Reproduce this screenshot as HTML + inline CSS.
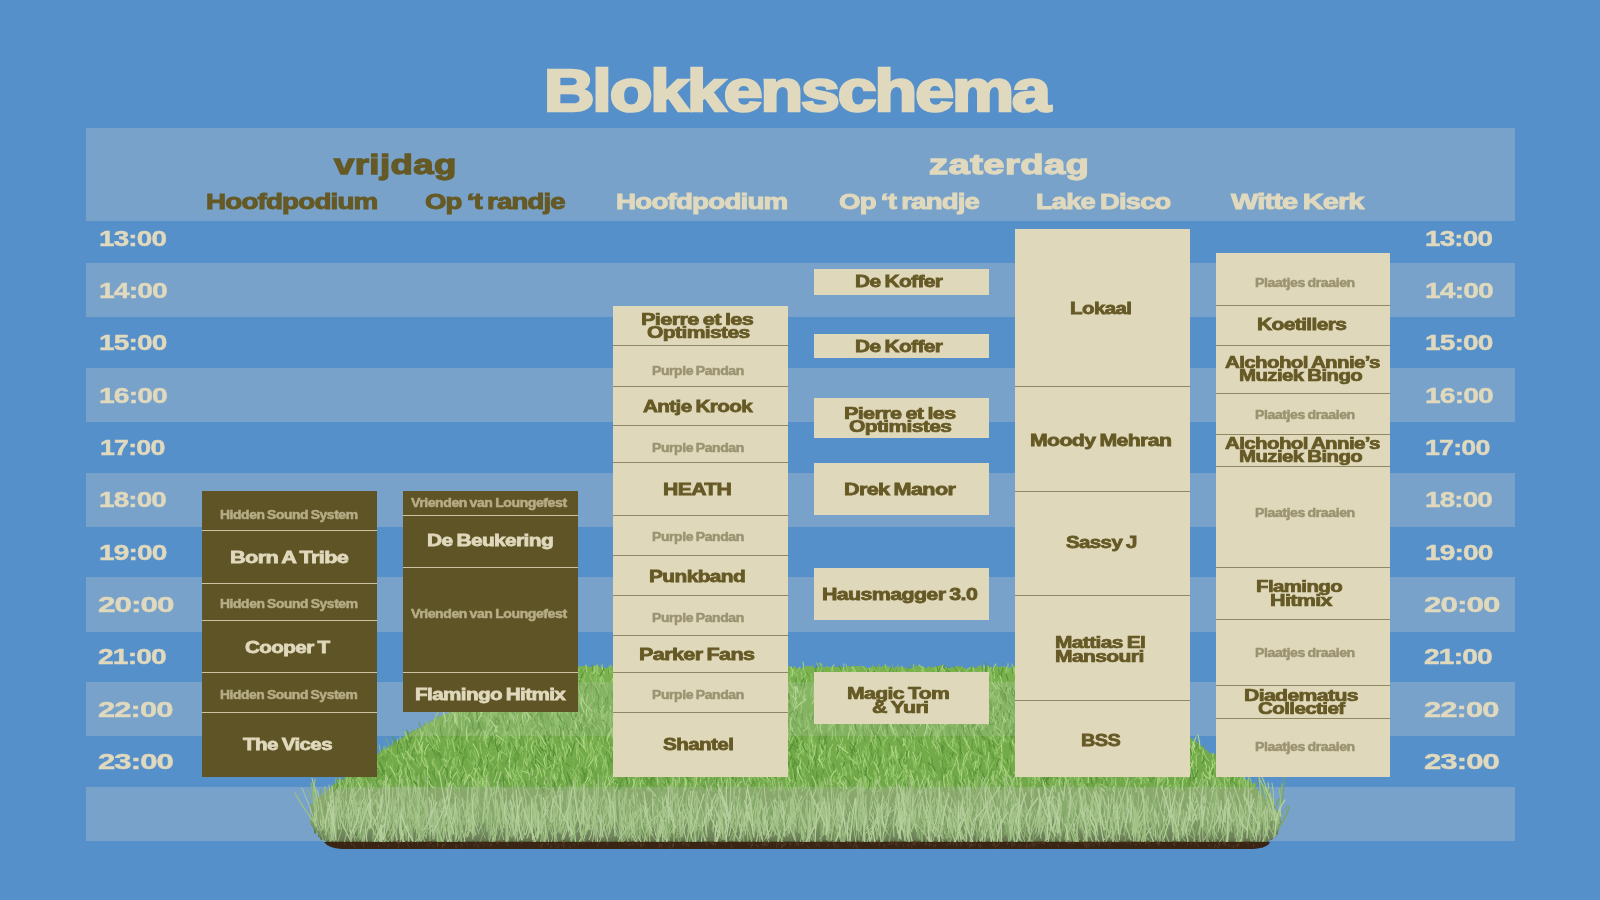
<!DOCTYPE html>
<html><head><meta charset="utf-8"><style>
html,body{margin:0;padding:0}
body{width:1600px;height:900px;overflow:hidden;position:relative;background:#5590cb;font-family:"Liberation Sans",sans-serif}
.t{position:absolute;white-space:nowrap;font-weight:700;transform-origin:0 0}
</style></head><body>
<div style="position:absolute;left:86px;top:128px;width:1429px;height:93px;background:rgba(202,204,200,0.3);"></div>
<div style="position:absolute;left:86px;top:263px;width:1429px;height:54px;background:rgba(202,204,200,0.3);"></div>
<div style="position:absolute;left:86px;top:368px;width:1429px;height:54px;background:rgba(202,204,200,0.3);"></div>
<div style="position:absolute;left:86px;top:473px;width:1429px;height:54px;background:rgba(202,204,200,0.3);"></div>
<div style="position:absolute;left:86px;top:577px;width:1429px;height:55px;background:rgba(202,204,200,0.3);"></div>
<div style="position:absolute;left:86px;top:682px;width:1429px;height:54px;background:rgba(202,204,200,0.3);"></div>
<div style="position:absolute;left:86px;top:787px;width:1429px;height:54px;background:rgba(202,204,200,0.3);"></div>
<svg style="position:absolute;left:0;top:0" width="1600" height="900" viewBox="0 0 1600 900">
<defs>
<linearGradient id="gg" x1="0" y1="660" x2="0" y2="850" gradientUnits="userSpaceOnUse">
<stop offset="0" stop-color="#7ab24f"/>
<stop offset="0.66" stop-color="#70a848"/>
<stop offset="0.69" stop-color="#7ea15a"/>
<stop offset="0.84" stop-color="#6f9252"/>
<stop offset="0.93" stop-color="#5a7442"/>
<stop offset="0.97" stop-color="#4a5232"/>
<stop offset="1" stop-color="#3f2c1a"/>
</linearGradient>
<filter id="ed" x="-5%" y="-10%" width="110%" height="120%">
<feTurbulence type="fractalNoise" baseFrequency="0.3 0.05" numOctaves="2" seed="3" result="n"/>
<feDisplacementMap in="SourceGraphic" in2="n" scale="6" xChannelSelector="R" yChannelSelector="G"/>
</filter>
</defs>
<polygon filter="url(#ed)" points="536,667 1101,667 1190,737 1253,785 1282,816 1276,836 1262,846 334,846 320,838 310,822 310,806 323,793 343,779 377,753 445,713" fill="url(#gg)"/>
<path fill="none" stroke="#568f35" stroke-width="0.8" stroke-linecap="round" d="M937 672q1 -3 0 -6M889 673q-0 -2 2 -5M851 771q2 -5 0 -11M936 744q1 -3 -2 -7M1102 774q0 -3 -1 -7M974 780q-4 -5 -5 -10M1100 687q4 -2 2 -5M1211 790q-1 -4 -6 -8M456 738q2 -4 1 -8M710 686q-3 -4 -2 -9M385 775q-3 -6 -5 -12M808 735q-1 -5 -7 -10M895 688q1 -3 -1 -6M1073 714q-0 -4 -1 -9M1085 672q-1 -3 -4 -6M1013 728q1 -4 3 -9M502 787q-0 -4 -2 -8M732 778q-1 -6 -1 -12M895 702q4 -6 2 -11M943 781q0 -3 -0 -7M748 702q-1 -4 -2 -8M1019 718q1 -6 -1 -13M475 767q2 -4 -1 -7M747 717q3 -5 6 -11M864 764q-0 -5 -0 -10M939 752q2 -3 4 -5M1141 750q-2 -4 -3 -8M926 731q-0 -5 -1 -9M435 759q5 -7 3 -13M991 747q-3 -4 -3 -8M620 790q-1 -6 3 -12M1119 766q0 -7 -1 -14M969 684q-1 -4 -2 -8M989 675q-1 -3 -4 -5M1051 741q-3 -6 -0 -12M974 781q2 -6 -2 -12M442 759q-4 -6 -5 -12M872 689q-4 -3 -3 -7M822 781q-1 -6 2 -11M740 694q-3 -6 0 -11M532 787q-3 -5 -1 -10M1052 787q-4 -3 -8 -6M668 718q1 -5 2 -9M823 748q-2 -4 -2 -8M915 702q-3 -5 -1 -11M1002 738q-2 -5 -4 -10M1070 731q1 -6 3 -11M986 703q1 -5 2 -10M1057 728q-1 -4 -1 -7M537 716q3 -7 2 -14M762 721q-1 -5 3 -11M931 679q3 -4 3 -7M1062 683q-2 -3 -2 -6M341 790q0 -5 2 -11M577 688q4 -3 2 -5M616 770q-2 -5 -5 -11M1087 735q-3 -4 -6 -7M1153 779q2 -6 -1 -11M1036 698q-3 -3 -1 -7M989 694q0 -5 -5 -10M541 683q2 -3 1 -7M687 754q-0 -5 -3 -10M796 777q1 -5 -3 -10M774 705q2 -7 -2 -13M495 779q1 -5 1 -11M733 693q1 -3 -1 -6M467 731q-3 -6 -1 -12M571 755q1 -5 3 -10M960 708q1 -5 -1 -9M898 687q-1 -4 1 -9M592 730q2 -4 -1 -7M475 732q-0 -3 -5 -6M810 720q-2 -5 -2 -10M1064 764q5 -5 5 -9M1017 708q3 -4 2 -8M602 760q5 -4 5 -8M538 743q3 -5 3 -11M435 741q-1 -5 -3 -10M701 768q2 -4 5 -9M422 782q-3 -4 -1 -9M994 748q-4 -3 -5 -7M629 724q-3 -5 -4 -10M598 693q0 -4 -0 -7M861 774q0 -3 2 -6M510 746q-0 -4 -3 -7M549 760q-2 -5 -8 -11M750 757q4 -6 3 -13M474 703q-1 -7 1 -14M525 788q3 -4 0 -7M838 730q1 -5 -1 -10M992 721q-1 -3 2 -6M745 748q1 -3 0 -6M702 676q1 -3 -1 -6M518 760q-0 -3 0 -7M1065 750q2 -4 3 -8M993 725q-0 -6 1 -13M455 741q3 -6 4 -12M1055 707q0 -4 4 -9M608 704q-1 -6 0 -12M883 732q-1 -5 -5 -11M581 790q3 -4 1 -9M1096 723q2 -5 -1 -11M592 735q-3 -3 -4 -7M500 723q-1 -3 1 -6M1192 756q-3 -5 -1 -11M975 774q2 -4 1 -9M771 789q2 -5 -0 -11M704 738q5 -5 5 -10M594 728q3 -3 1 -7M408 756q-5 -4 -6 -8M1029 704q3 -4 1 -8M857 695q-2 -4 -2 -7M913 715q1 -4 7 -9M1123 754q-1 -3 3 -7M605 742q1 -6 2 -11M702 709q-1 -4 -3 -8M650 751q-7 -5 -9 -10M1130 722q-1 -3 0 -7M666 673q0 -3 -5 -6M624 734q-1 -3 0 -7M870 688q2 -3 -0 -6M1093 773q2 -3 -0 -7M505 764q3 -5 6 -9M818 686q-5 -3 -5 -5M1159 750q-3 -4 -2 -9M1055 685q-1 -3 -3 -6M1070 693q-3 -5 -8 -9M1094 714q2 -4 -1 -8M859 772q-4 -3 -7 -6M614 731q-5 -4 -8 -8M1061 790q4 -5 3 -10M643 761q-3 -5 1 -10M807 769q2 -5 2 -9M583 780q3 -6 5 -11M733 706q-0 -3 1 -6M604 771q-3 -6 -2 -12M551 760q-3 -5 -6 -10M682 690q2 -2 -2 -5M388 789q-0 -3 -5 -6M622 764q-3 -5 -8 -11M785 708q-1 -6 1 -13M1173 791q-3 -4 -7 -8M495 727q2 -5 2 -10M547 733q-6 -3 -7 -7M1211 774q-1 -4 -6 -8M770 680q-1 -3 -0 -7M1011 780q3 -4 5 -8M592 727q3 -5 -1 -9M787 761q-0 -4 0 -8M709 746q-2 -4 -9 -9M717 772q2 -7 0 -14M604 672q1 -4 -3 -8M770 713q1 -5 4 -10M560 743q-3 -3 -1 -6M584 721q2 -3 0 -6M610 763q1 -4 -1 -8M926 751q-3 -6 -5 -13M1096 783q2 -6 -1 -13M1053 709q-3 -4 -4 -8M987 671q-1 -4 -2 -8M1097 704q6 -2 6 -4M452 765q-2 -5 -6 -9M827 744q-3 -4 -3 -8M1020 771q5 -5 9 -9M1124 696q-4 -6 -8 -11M991 711q1 -5 -2 -11M790 694q-5 -4 -8 -7M520 756q-5 -6 -6 -11M921 759q-2 -3 -3 -6M853 681q-2 -3 -0 -7M465 751q-2 -3 0 -6M800 770q1 -4 1 -8M1084 721q-1 -4 3 -8M802 740q0 -6 -0 -12M1189 784q-1 -3 -4 -5M730 777q-1 -5 -5 -10M1167 759q-2 -6 -5 -11M905 766q-1 -5 -2 -10M434 776q-3 -5 0 -10M1121 703q4 -6 2 -13M696 724q1 -3 6 -7M637 777q-1 -5 0 -10M1216 775q7 -4 8 -9M770 716q2 -5 0 -11M469 739q-0 -6 -0 -12M458 754q2 -6 -0 -13M698 713q2 -6 0 -13M1021 740q-2 -4 -1 -9M569 734q-0 -6 -3 -11M1010 720q-0 -6 -4 -11M688 762q-2 -4 -0 -8M961 786q-2 -3 -2 -6M558 696q-1 -7 -2 -14M625 675q-1 -4 1 -8M658 754q2 -7 2 -13M701 741q3 -6 2 -12M834 700q2 -5 -1 -10M799 728q-4 -4 -5 -8M505 705q-0 -7 0 -13M1049 685q-4 -3 -4 -6M501 752q-2 -3 -1 -6M653 699q-4 -4 -5 -8M414 751q2 -4 -2 -8M791 745q-2 -5 2 -10M409 756q-5 -4 -6 -8M470 792q-1 -3 -3 -7M1091 733q-0 -6 -6 -12M411 763q1 -6 2 -13M435 755q-1 -7 -2 -14M1004 700q-1 -6 -5 -11M383 760q-2 -3 -0 -7M400 758q1 -4 -2 -8M1137 767q2 -5 3 -11M957 671q-2 -2 -3 -5M939 726q-3 -4 -1 -8M631 743q1 -6 -3 -11M601 760q-4 -6 -2 -11M906 767q-1 -5 -2 -11M944 770q-2 -3 -2 -6M931 702q1 -3 -2 -6M1226 779q-0 -5 -2 -9M949 675q-3 -3 -3 -5M597 695q-0 -4 -2 -8M366 783q1 -4 2 -8M587 724q-2 -4 -4 -7M441 758q-2 -3 -3 -7M722 708q-1 -2 -7 -3M1136 761q-4 -5 -2 -9M525 765q-1 -5 3 -10M422 746q-0 -3 -6 -7M539 732q-3 -7 -1 -14M1074 783q-4 -4 -4 -7M680 750q1 -3 -1 -7M1170 756q-1 -7 -3 -14M713 778q0 -4 2 -7M458 738q2 -6 5 -12M1198 751q1 -2 -4 -4M820 782q-1 -4 -3 -8M1072 682q1 -2 4 -3M458 720q-0 -5 5 -10M657 743q-1 -3 -2 -6M1124 764q1 -4 -1 -8M994 675q-3 -2 -2 -5M721 673q-1 -3 -1 -5M639 786q2 -3 3 -6M609 767q-0 -4 -3 -8M440 755q-2 -3 -0 -6M694 671q-3 -4 -1 -7M1060 740q3 -3 4 -7M958 690q-2 -4 -2 -8M411 742q-3 -5 -3 -10M397 772q2 -4 2 -7M899 761q3 -4 3 -8M645 721q4 -7 4 -13M665 766q2 -5 1 -10M610 749q-3 -6 -2 -11M622 708q3 -4 2 -8M970 732q-2 -4 -2 -7M814 766q0 -6 -1 -11M1094 684q0 -3 2 -7M609 751q0 -4 2 -7M917 708q-0 -4 1 -8M449 731q-3 -6 -4 -11M783 759q-2 -3 -3 -5M979 684q-0 -1 -5 -2M670 703q1 -3 -3 -6M828 712q1 -5 1 -9M456 739q3 -6 1 -13M665 683q-2 -4 -1 -9M538 767q1 -3 3 -6M1089 671q-1 -3 -3 -5M818 760q-3 -6 -1 -13M459 753q3 -5 2 -11M1166 739q3 -6 3 -12M1029 773q-2 -4 -5 -7M960 759q-1 -7 3 -14M938 728q-4 -3 -6 -5M426 757q1 -4 -2 -9M736 671q-3 -3 -2 -6M769 697q1 -5 -3 -9M979 777q2 -6 0 -11M790 706q-3 -5 -6 -9M734 761q-0 -4 -0 -7M905 786q-3 -4 -2 -7M1037 764q-4 -4 -8 -8M1019 693q4 -4 2 -8M639 675q2 -3 0 -6M1234 779q3 -6 5 -11M874 742q-0 -5 1 -10M1051 695q4 -5 2 -9M1038 713q-4 -7 -3 -14M914 701q-3 -6 -7 -12M896 677q-2 -4 1 -8M1114 753q-2 -5 1 -9M474 711q-5 -6 -6 -11M639 740q-0 -5 -4 -11M1025 775q1 -6 1 -12M1139 777q-3 -5 -4 -11M889 769q4 -6 3 -11M1232 775q0 -7 0 -13M594 694q0 -3 -3 -6M750 787q3 -3 3 -7M871 701q-3 -3 -4 -5M486 766q-5 -6 -6 -11M1044 720q-3 -3 -4 -7M544 757q4 -6 3 -13M1032 769q-0 -4 -2 -8M818 785q-3 -7 -1 -14M994 680q4 -2 4 -5M401 748q-5 -5 -8 -10M1017 779q2 -5 0 -11M506 755q1 -6 3 -13M1151 765q-2 -5 -1 -11M1107 727q2 -3 1 -6M594 677q-0 -4 -2 -8M530 703q-0 -3 -1 -7M618 723q-1 -6 3 -12M792 728q-0 -4 2 -8M554 788q-1 -4 4 -8M539 756q-3 -4 -0 -7M418 786q-2 -6 -1 -11M882 699q-1 -6 2 -12M1130 729q2 -5 1 -11M672 762q3 -6 1 -12M745 728q-1 -4 1 -8M1106 727q2 -4 -1 -8M1125 743q-1 -5 3 -10M838 695q-2 -7 -3 -14M646 787q2 -4 -0 -8M1198 773q-0 -3 -3 -6M1120 700q-3 -5 0 -9M398 779q1 -6 -1 -12M612 706q3 -6 0 -11M681 731q-5 -6 -5 -12M671 785q-2 -2 -5 -5M994 695q-4 -5 -8 -9M817 702q-2 -5 2 -9M763 683q3 -3 0 -6M725 687q-3 -4 -1 -7M1212 787q-4 -4 -8 -9M885 757q-3 -3 -2 -6M551 758q-2 -4 -3 -9M558 767q2 -4 -1 -7M809 676q-2 -3 -4 -5M671 677q-3 -4 -1 -7M853 717q3 -3 1 -7M676 754q2 -5 3 -9M1096 752q1 -4 -3 -9M1115 723q-3 -5 -2 -11M821 671q2 -4 -0 -7M1054 717q3 -5 2 -10M972 727q1 -5 2 -10M1159 761q-1 -4 1 -8M671 731q-0 -5 -5 -10M625 709q-4 -4 -4 -8M879 736q-2 -5 -2 -9M1091 762q-3 -4 -4 -9M1224 770q3 -5 3 -11M886 727q-1 -3 -3 -7M582 714q-3 -3 -1 -6M751 777q3 -5 1 -10M863 731q5 -4 5 -8M1219 766q1 -5 3 -11M882 688q-2 -4 -1 -7M534 683q-3 -3 -3 -6M662 773q-0 -5 -6 -10M780 690q3 -3 2 -6M618 789q1 -4 -2 -8M530 701q1 -5 -1 -11M993 743q-2 -6 0 -12M1139 773q-3 -5 -4 -9M905 711q-0 -3 -2 -6M921 681q0 -2 -1 -5"/>
<path fill="none" stroke="#b0d688" stroke-width="0.8" stroke-linecap="round" d="M860 757q-4 -5 -5 -11M546 739q3 -3 4 -5M842 720q-0 -4 0 -8M890 771q0 -4 -1 -8M575 700q0 -3 -0 -7M993 685q-1 -4 -2 -8M902 672q1 -3 -0 -6M967 775q2 -4 -2 -8M1145 775q0 -4 -3 -9M1202 761q2 -6 0 -13M582 790q4 -6 8 -11M755 743q-0 -3 -2 -7M1041 695q0 -5 -2 -9M498 792q-1 -4 1 -7M539 698q-4 -4 -11 -7M670 767q1 -4 2 -8M553 681q-3 -3 -3 -6M756 791q0 -4 -3 -9M761 688q1 -3 -2 -5M550 674q0 -3 0 -7M387 787q-2 -5 -1 -10M1098 710q5 -3 6 -7M1154 744q0 -5 -1 -9M790 740q-1 -4 -3 -7M408 765q-3 -5 -1 -10M685 759q-3 -3 -2 -6M741 758q2 -5 1 -11M439 775q-1 -5 -4 -10M582 707q-3 -5 -2 -10M530 700q-4 -6 -5 -12M751 708q0 -3 2 -7M504 718q1 -6 1 -11M871 698q-2 -4 -3 -8M573 715q2 -4 -0 -9M443 774q3 -6 2 -13M711 739q-1 -6 -5 -12M1034 681q-3 -4 -0 -8M683 676q-3 -2 -3 -5M634 705q-2 -6 -5 -13M517 746q0 -4 -1 -8M594 753q-2 -5 -3 -11M1084 716q-1 -5 -5 -10M1169 769q-2 -5 -4 -10M1108 758q-6 -5 -8 -9M664 738q-3 -7 -1 -13M1043 733q-3 -5 -3 -9M1099 723q-3 -4 -1 -9M794 711q1 -4 2 -8M684 765q-3 -6 -6 -12M476 712q0 -6 1 -13M548 745q-1 -4 0 -7M923 698q0 -7 1 -14M792 686q-4 -3 -2 -5M690 775q2 -3 -1 -7M631 748q0 -3 -0 -6M785 767q-3 -6 -2 -13M1021 690q-1 -4 -0 -7M897 684q1 -4 3 -8M728 780q-4 -6 -2 -12M757 690q-0 -4 -0 -7M1055 696q-2 -4 1 -8M839 749q3 -6 4 -11M1006 673q-1 -4 2 -8M828 757q0 -6 5 -13M563 768q-3 -5 -3 -11M1160 780q-4 -4 -4 -8M620 721q2 -6 -2 -11M666 757q5 -4 9 -9M605 784q1 -6 3 -12M1032 783q-0 -4 1 -9M857 744q-0 -4 2 -8M1063 671q-3 -3 -5 -6M1002 783q-3 -4 -5 -8M944 710q-0 -4 1 -7M1065 757q0 -5 2 -10M1117 687q1 -3 -1 -5M428 784q-3 -4 0 -7M684 680q-3 -4 -3 -8M1134 699q3 -5 1 -10M1128 775q2 -5 -0 -9M1145 739q-3 -4 -2 -9M539 748q-4 -4 -3 -8M1115 762q2 -3 3 -5M1062 730q0 -7 -2 -14M557 681q2 -3 -2 -6M811 760q-3 -5 -1 -10M1034 709q1 -4 0 -8M677 756q1 -4 2 -7M615 742q0 -4 -3 -7M1098 693q-5 -5 -6 -10M1176 783q-1 -4 0 -8M1022 714q-1 -7 1 -13M686 683q-1 -2 2 -5M857 787q4 -7 3 -13M635 779q2 -4 4 -9M620 766q2 -6 -2 -11M673 714q-1 -4 1 -8M1138 754q2 -5 -2 -9M547 789q-1 -3 -3 -7M694 681q-1 -4 1 -8M1061 680q3 -3 1 -5M496 695q-0 -6 -5 -12M507 778q-1 -3 1 -6M733 706q-3 -6 -0 -13M1190 775q-1 -5 -2 -9M609 737q2 -3 1 -7M870 674q1 -3 -1 -6M903 724q1 -5 1 -9M710 731q-2 -3 -3 -6M626 708q-3 -3 -3 -7M1132 762q2 -2 4 -5M665 693q2 -3 3 -7M685 791q3 -6 1 -12M616 733q1 -5 -2 -10M1002 691q-7 -5 -8 -10M1025 692q1 -5 -3 -10M1083 696q0 -4 4 -8M493 713q-0 -4 -1 -7M1002 763q-5 -2 -5 -5M837 757q2 -5 5 -10M550 767q2 -4 -1 -7M856 770q-4 -6 -3 -11M598 746q-1 -4 2 -9M778 732q1 -7 3 -13M700 785q-0 -7 3 -14M677 681q1 -3 -2 -5M451 770q-0 -6 3 -12M991 696q3 -6 7 -11M980 688q2 -3 1 -6M1034 723q1 -6 -4 -12M639 758q0 -3 1 -6M973 766q-1 -3 4 -5M577 791q-4 -5 -3 -11M1099 781q-2 -6 -0 -13M1082 716q0 -6 1 -13M496 744q2 -4 4 -9M1128 779q-4 -4 -2 -7M1044 685q1 -4 1 -7M738 708q-3 -4 -1 -7M1118 710q-3 -6 -2 -12M826 751q-1 -5 -6 -11M751 769q1 -6 -3 -12M1064 751q-2 -4 -4 -9M1080 713q-3 -3 -3 -6M875 741q2 -3 1 -6M574 728q-2 -5 1 -9M1041 671q-1 -4 1 -7M1053 751q-1 -5 -3 -10M732 738q1 -5 6 -10M1116 698q-2 -3 -1 -6M1168 767q-3 -4 0 -8M464 785q-0 -4 2 -9M694 744q1 -4 0 -9M381 785q0 -3 -5 -6M454 739q0 -4 0 -8M416 772q-6 -4 -9 -9M804 678q3 -4 0 -8M357 775q-2 -4 1 -8M1079 753q-2 -5 -0 -9M541 746q1 -5 -2 -10M936 741q2 -6 2 -13M688 745q-2 -6 1 -12M515 787q0 -5 -0 -10M1159 783q0 -7 2 -14M957 725q0 -6 -3 -13M611 783q5 -3 5 -6M894 730q2 -4 -3 -7M961 675q-3 -2 -2 -5M885 762q-2 -6 -2 -12M993 737q-1 -4 -4 -7M1159 734q-1 -5 -1 -10M671 702q-0 -5 -2 -10M922 697q2 -6 -1 -13M1125 766q-3 -3 -2 -6M1180 778q2 -4 2 -8M908 773q-4 -6 -3 -13M615 735q1 -4 -0 -8M1153 762q0 -6 2 -11M787 785q4 -3 2 -6M892 721q-5 -3 -4 -6M949 791q0 -3 -2 -7M604 673q-2 -4 -2 -9M668 676q-2 -4 -0 -7M532 740q-1 -6 -1 -12M1085 675q0 -3 -0 -6M521 689q-0 -3 -2 -7M910 718q3 -6 6 -12M1007 779q-4 -5 -5 -9M724 711q-2 -5 -1 -9M840 706q4 -6 2 -11M1167 768q-2 -4 -1 -9M528 684q-2 -3 1 -6M1084 767q-1 -4 -2 -7M527 766q0 -3 0 -7M1251 790q2 -6 -1 -12M557 719q0 -3 -1 -6M970 757q1 -4 3 -8M1142 755q0 -6 -1 -12M773 737q-2 -4 -0 -9M576 680q1 -4 -0 -8M955 717q4 -4 3 -8M633 731q-3 -4 -5 -7M791 738q-3 -4 -4 -8M708 685q-2 -3 -4 -6M902 766q-1 -5 2 -10M1016 685q-0 -3 1 -5M583 728q5 -5 7 -9M1107 781q-2 -3 2 -6M1141 768q-1 -3 0 -7M657 734q2 -7 3 -14M674 790q3 -5 1 -10M892 753q2 -4 -2 -7M1140 765q0 -3 -3 -6M1094 723q1 -6 -1 -12M1039 741q1 -5 2 -9M739 725q1 -6 0 -11M717 713q-0 -4 0 -8M1230 782q1 -4 -3 -7M573 743q-2 -3 -3 -6M592 776q-2 -7 -1 -14M489 703q-0 -7 3 -13M874 706q-5 -6 -6 -11M597 730q-1 -4 -7 -8M1178 773q2 -6 -1 -11M391 785q-1 -3 -1 -6M1234 786q-0 -6 1 -12M1074 779q4 -7 4 -13M779 776q-1 -3 -3 -6M1184 765q-4 -4 -3 -8M888 786q-1 -4 -1 -9M742 752q-3 -3 -1 -7M944 700q3 -5 8 -10M903 717q-1 -6 -2 -12M1143 760q-5 -6 -6 -11M1056 675q2 -4 -0 -8M1174 752q-3 -5 -2 -10M1095 774q-2 -6 -2 -13M694 789q-5 -3 -4 -6M907 777q0 -6 -3 -13M627 712q-3 -3 -0 -6M740 740q-3 -5 -2 -11M692 721q-4 -5 -2 -10M731 673q1 -4 -2 -7M832 786q1 -3 -2 -6M719 753q-1 -6 -7 -11M1209 761q-6 -6 -6 -13M446 767q2 -5 4 -10M1193 769q1 -4 -4 -8M949 688q2 -4 2 -9M836 750q4 -3 4 -6M575 680q2 -3 1 -6M793 707q1 -5 4 -10M505 791q-2 -5 -1 -10M712 791q-3 -7 -4 -13M778 685q1 -4 -4 -7M1184 757q-3 -4 -2 -8M683 691q-1 -3 -2 -6M604 674q1 -4 -3 -8M1082 788q2 -6 -2 -12M830 686q-1 -3 -1 -5M861 728q-0 -6 -3 -12M913 789q-3 -5 -1 -9M1171 750q-3 -7 -2 -13M638 759q1 -4 3 -9M1039 780q1 -6 4 -11M570 672q-3 -4 -2 -7M843 671q1 -4 1 -7M799 697q-0 -3 3 -7M933 742q-0 -3 5 -6M941 767q1 -3 -1 -6M709 680q-4 -4 -2 -8M1039 768q-1 -4 -4 -8M495 768q-2 -4 -9 -9M684 749q3 -7 -0 -14M760 719q3 -5 1 -9M1123 692q-3 -6 -6 -12M783 747q2 -5 5 -10M1068 764q-1 -4 2 -8M514 775q-2 -3 -3 -7M585 768q1 -6 4 -13M987 779q3 -7 1 -14M898 737q-1 -5 -4 -11M689 764q-4 -3 -8 -6M898 777q-3 -5 -1 -10M643 687q1 -3 4 -6M577 782q-1 -3 -3 -5M977 747q-2 -6 -3 -13M616 784q-2 -3 -4 -7M1113 747q1 -7 -1 -14M550 723q3 -6 2 -11M935 709q-3 -5 -2 -10M748 746q-3 -6 -3 -12M716 676q-3 -4 -4 -7M1179 765q0 -5 -5 -10M943 672q-2 -3 -2 -5M781 687q-1 -4 1 -8M1133 740q1 -5 6 -11M642 784q3 -4 10 -8M751 740q-2 -6 -3 -12M954 766q2 -6 4 -12M952 707q-2 -5 -4 -9M672 788q1 -4 1 -9M1127 701q-3 -6 -1 -11M1148 720q3 -4 1 -7M552 772q-1 -6 -1 -12M879 708q-1 -4 -2 -7M640 710q-0 -6 -3 -12M832 740q1 -5 -0 -11M954 701q2 -6 3 -12M410 760q-3 -5 -2 -11M1101 675q-0 -2 -2 -5M692 736q1 -3 -1 -7M601 684q-2 -3 1 -7M580 680q-3 -2 -4 -5M738 777q4 -6 4 -12M563 739q-2 -3 0 -7M430 738q0 -3 1 -6M657 766q-5 -5 -8 -9M829 710q0 -4 -0 -7M679 739q-4 -6 -6 -12M719 680q-2 -4 -2 -7M572 721q-2 -3 -0 -7M995 754q4 -5 6 -9M623 710q2 -5 0 -10M488 696q0 -4 2 -9M1209 779q2 -3 -1 -6M778 727q1 -6 -1 -13M1025 735q1 -4 -2 -8M1148 711q-1 -4 -3 -8M721 767q4 -6 5 -12M1098 768q-0 -3 3 -6M796 714q3 -4 0 -8M678 784q-3 -5 -7 -10M802 679q-0 -3 -1 -7M716 771q1 -5 5 -9M1107 738q2 -5 1 -11M729 760q2 -5 2 -10M1042 780q4 -3 6 -7M602 717q-1 -6 -3 -11M370 786q-2 -3 -4 -6M824 714q-2 -4 2 -8M824 693q-1 -4 -1 -8M597 762q-2 -4 1 -7M1196 759q-1 -3 4 -6M778 689q1 -4 -2 -8M775 733q-2 -5 0 -11M551 763q-0 -7 -1 -14M1020 701q-2 -4 -5 -8M1154 730q-1 -6 1 -11M949 694q4 -3 3 -7M662 678q0 -3 -3 -5M846 776q2 -4 -2 -7M744 760q1 -5 0 -9M937 679q-1 -3 -1 -6M967 790q0 -6 -3 -11M488 765q-1 -5 -3 -10M980 731q-2 -7 -2 -14M781 791q-0 -4 1 -9M878 683q1 -3 -2 -6M586 752q-2 -4 -1 -8M740 722q6 -4 6 -9M793 732q-0 -4 -3 -8M826 785q-1 -5 -3 -10M1007 777q-1 -4 2 -7M448 749q0 -5 -1 -10M863 761q-1 -5 0 -10M1043 673q-1 -3 -3 -5M980 679q2 -4 -0 -8M957 716q-0 -6 1 -13M785 750q-0 -6 -0 -13"/>
<path fill="none" stroke="#7bb352" stroke-width="1.1" stroke-linecap="round" d="M1054 689q-1 -3 1 -7M582 747q-1 -4 0 -9M518 730q2 -6 2 -13M794 762q-5 -6 -6 -12M965 737q-6 -6 -7 -11M1110 726q-3 -4 -0 -8M1098 755q-6 -3 -7 -7M1124 736q-2 -7 -1 -13M790 722q-1 -4 2 -9M609 745q-3 -5 -2 -11M727 736q-0 -5 5 -10M574 674q0 -3 -4 -7M798 757q2 -5 -2 -10M628 676q-2 -3 -2 -6M865 766q3 -3 4 -6M878 759q-3 -3 -2 -7M969 752q-1 -5 3 -10M557 774q2 -7 2 -13M895 671q-3 -3 -3 -6M817 685q-0 -4 -4 -7M1107 784q-0 -6 3 -11M774 725q-1 -5 -4 -10M908 693q1 -4 1 -8M604 692q2 -5 -1 -10M903 674q1 -3 0 -5M486 774q-2 -3 -0 -6M851 710q-2 -4 -6 -7M1142 758q-2 -3 -4 -5M999 712q-1 -5 2 -10M635 745q-0 -6 1 -12M484 776q-1 -5 -0 -11M691 673q-3 -2 -7 -4M909 765q3 -5 4 -10M1136 736q-2 -4 -1 -8M983 782q-1 -3 -4 -6M381 756q3 -5 3 -10M436 750q1 -3 1 -7M951 687q3 -3 2 -6M1052 686q1 -2 -3 -5M524 740q3 -4 2 -7M674 708q0 -6 3 -13M604 763q-3 -5 -7 -10M555 757q-0 -5 -5 -10M498 773q2 -6 -0 -13M624 677q0 -4 -4 -8M949 740q0 -5 4 -11M388 765q1 -4 1 -7M1217 786q-3 -4 -2 -8M1160 729q-2 -4 -2 -8M820 725q-2 -6 2 -13M777 728q1 -7 -2 -13M1068 761q1 -6 1 -12M742 729q-2 -6 -3 -13M877 737q0 -4 -3 -7M753 699q5 -5 5 -9M753 714q-0 -5 -5 -10M742 714q2 -4 -2 -7M974 683q1 -3 0 -5M886 694q-3 -6 -0 -11M1033 771q-3 -5 -1 -10M751 774q-7 -2 -9 -4M683 789q-0 -5 5 -10M701 691q2 -7 0 -14M1110 755q-1 -4 2 -7M920 748q-2 -5 -3 -9M582 721q-1 -4 3 -9M974 716q2 -5 6 -11M728 727q-1 -5 0 -9M1080 783q-2 -3 0 -7M1108 702q-3 -4 -1 -8M435 767q1 -4 -2 -8M802 754q2 -4 1 -8M984 751q-4 -3 -3 -6M1176 756q-1 -3 -0 -7M1018 754q-0 -7 -1 -13M844 682q-2 -4 -1 -9M1036 699q2 -5 7 -10M1117 738q1 -7 1 -13M715 770q-1 -6 -1 -12M700 683q-3 -4 -2 -8M626 754q-3 -5 -1 -9M471 707q-0 -6 -2 -13M1055 790q2 -6 -1 -12M432 739q-1 -4 2 -8M763 723q4 -5 3 -9M1164 750q2 -4 2 -7M881 750q3 -4 -0 -7M891 752q1 -4 4 -9M1098 761q-6 -2 -6 -5M1148 764q0 -4 -4 -8M740 745q-2 -5 -3 -10M1251 788q-0 -4 -0 -8M589 717q4 -5 9 -9M577 719q-2 -3 -3 -5M864 720q1 -6 -1 -12M482 784q1 -7 -3 -13M760 753q-1 -5 2 -9M1018 714q-2 -6 -0 -11M516 681q2 -3 4 -6M784 716q-1 -6 2 -11M883 763q1 -5 -1 -10M1040 750q-2 -5 -1 -10M820 733q1 -6 1 -12M747 675q2 -3 1 -7M569 756q2 -4 1 -9M911 788q-1 -4 0 -9M809 753q-2 -3 -0 -6M617 780q-2 -4 -0 -8M996 755q3 -3 0 -7M723 713q-2 -5 -2 -9M496 753q2 -5 4 -11M555 734q-3 -4 -2 -8M946 706q-5 -3 -5 -6M697 674q1 -3 -3 -5M1096 701q-6 -5 -8 -9M787 791q0 -3 -4 -6M1110 751q-2 -5 -1 -11M632 699q4 -4 5 -8M968 720q1 -6 5 -12M469 711q-1 -5 -4 -9M984 772q-4 -4 -2 -7M829 719q-2 -5 -1 -10M511 696q-2 -6 -8 -11M557 693q-2 -3 -5 -6M524 678q-3 -4 -1 -8M1150 740q-1 -3 -7 -7M484 785q1 -4 -3 -8M1157 768q1 -4 -1 -8M860 743q-1 -6 -1 -13M733 775q-1 -3 2 -6M839 721q-4 -4 -3 -8M811 718q-3 -4 -9 -8M606 687q-2 -3 1 -5M727 774q-2 -3 1 -7M1087 697q-1 -6 -3 -11M1011 684q2 -4 -1 -7M847 705q-1 -3 -4 -6M1142 747q3 -5 1 -11M687 692q-1 -3 -4 -5M1091 733q-2 -4 -5 -8M1024 723q3 -5 2 -10M1183 784q-0 -5 -1 -10M924 781q2 -7 3 -13M1018 753q-3 -4 -6 -8M931 789q2 -4 -1 -8M798 774q1 -3 -2 -7M569 736q2 -4 0 -8M654 688q1 -4 1 -8M909 712q2 -4 1 -8M1029 726q2 -6 2 -13M449 730q-4 -4 -4 -8M613 707q1 -4 -1 -7M594 743q2 -3 0 -6M660 705q-1 -5 -5 -9M997 775q-2 -5 2 -11M400 776q1 -7 -1 -13M470 756q0 -5 -4 -9M823 717q3 -5 4 -9M1047 773q-2 -3 1 -7M1148 757q-2 -3 -2 -6M512 762q-2 -3 -4 -6M682 699q-1 -6 -6 -12M511 727q-1 -5 -4 -11M986 772q1 -4 2 -8M676 791q6 -5 8 -10M933 768q-5 -5 -4 -11M830 731q-3 -3 -1 -7M934 693q4 -4 2 -8M822 725q-3 -3 -1 -6M1039 746q-3 -4 -1 -8M801 728q-2 -4 -0 -8M1198 781q-5 -3 -6 -6M647 789q2 -3 -0 -7M863 760q-3 -7 -3 -14M750 763q-0 -3 -1 -6M619 686q-1 -3 -0 -5M733 747q-2 -6 -0 -13M783 750q-1 -6 0 -12M943 680q3 -4 2 -9M1139 745q-2 -5 2 -10M716 726q1 -6 3 -11M1110 761q3 -5 1 -10M947 772q0 -4 3 -9M813 735q0 -4 6 -8M725 742q-0 -3 -4 -5M545 684q2 -3 -0 -5M954 715q3 -5 1 -9M1116 783q-2 -3 -3 -6M1084 765q-1 -4 4 -7M977 741q3 -4 3 -9M988 756q-0 -4 3 -7M692 681q-3 -3 -1 -6M1002 755q1 -4 -0 -8M969 710q3 -4 4 -8M1181 769q0 -3 -1 -6M1070 723q-1 -3 3 -7M1047 713q-3 -5 -1 -10M812 701q0 -6 -5 -13M754 782q2 -5 1 -11M1105 782q1 -4 0 -7M1038 710q1 -3 -2 -6M817 787q-2 -3 -1 -7M1067 706q2 -5 1 -9M991 680q-0 -3 -1 -6M991 739q-4 -3 -9 -7M1169 765q1 -3 -3 -6M749 758q0 -5 2 -9M1000 784q4 -4 5 -7M1051 730q-3 -5 -8 -11M972 699q0 -3 3 -6M825 697q5 -4 4 -7M1159 763q-0 -6 4 -11M788 763q-3 -4 -3 -9M1180 752q3 -4 1 -8M566 714q0 -6 -5 -12M707 744q-0 -6 -2 -11M614 735q1 -4 -3 -7M879 699q-1 -4 -3 -8M687 778q-2 -3 2 -6M596 688q-0 -3 -2 -5M602 675q-4 -3 -5 -6M943 760q-5 -4 -5 -9M1042 770q1 -3 -0 -6M677 705q-2 -2 -6 -5M1123 690q1 -3 4 -6M589 707q-4 -4 -4 -8M1076 719q1 -6 -1 -12M432 787q-2 -5 -7 -11M747 726q1 -4 -0 -8M952 721q5 -3 5 -6M715 783q-4 -6 -3 -13M762 762q-5 -2 -6 -5M643 730q3 -4 0 -7M887 762q3 -4 1 -8M755 777q-4 -5 -3 -10M1009 739q-2 -7 -4 -13M884 766q4 -5 5 -9M1193 759q2 -5 5 -11M1137 736q-2 -6 -8 -11M665 752q-1 -4 0 -9M497 723q-2 -6 -1 -13M561 714q-1 -7 4 -13M603 769q-1 -6 -3 -12M1128 744q-2 -4 -7 -8M635 726q-3 -3 -2 -7M749 707q1 -4 2 -7M695 678q3 -4 2 -7M588 728q3 -3 2 -7M1103 713q2 -7 -2 -13M941 705q-0 -6 3 -12M1199 777q-1 -6 -3 -12M1009 759q3 -6 1 -11M1099 781q2 -4 -1 -7M562 706q4 -4 5 -9M554 760q-1 -5 2 -10M460 749q1 -4 -0 -8M973 742q-1 -3 0 -6M1124 791q-1 -3 -5 -5M572 729q-3 -4 -0 -8M886 747q-2 -6 -6 -11M530 789q-1 -5 -1 -11M1109 730q-0 -6 2 -12M966 689q1 -3 -1 -6M1177 749q-2 -5 -6 -10M750 673q2 -3 -0 -6M643 713q-5 -5 -6 -9M616 689q2 -3 1 -6M813 764q4 -3 2 -7M1032 690q2 -4 0 -8M759 676q0 -3 2 -7M840 713q-4 -5 -5 -11M1059 762q-0 -3 0 -6M797 691q-3 -4 -2 -8M833 714q5 -5 5 -10M430 733q-1 -4 1 -8M615 786q-1 -5 1 -11M647 680q-4 -3 -2 -5M716 685q0 -4 -1 -9M471 722q-3 -5 -0 -11M1222 778q-1 -3 -3 -6M428 788q-1 -6 -2 -12M774 756q3 -4 3 -8M669 695q-1 -6 -1 -12M529 690q-0 -4 0 -9M1127 726q0 -5 -1 -10M1155 770q0 -6 -2 -12M578 778q-0 -3 1 -6M976 761q-2 -5 -1 -11M1156 761q2 -4 0 -8M729 674q-0 -3 -0 -5M1032 732q-2 -4 -1 -7M873 691q-0 -4 -1 -8M736 692q3 -2 5 -5M909 692q-2 -6 0 -11M1035 672q3 -4 1 -7M581 737q-3 -5 -3 -10M1075 738q1 -4 7 -7M536 756q-5 -5 -6 -11M971 722q-1 -3 -7 -6M705 777q3 -6 1 -12M492 753q-2 -4 -2 -9M951 785q-3 -6 -4 -11M979 780q-1 -3 -4 -6M523 761q3 -6 4 -12M920 772q-1 -5 3 -9M359 788q5 -6 5 -11M573 770q1 -7 1 -14M391 759q2 -6 -2 -13M640 719q-5 -4 -7 -9M541 709q2 -6 -1 -11M464 745q1 -5 5 -11M896 675q-1 -4 0 -8M850 684q-1 -2 -3 -5M421 751q0 -3 -2 -6M471 705q0 -7 2 -13M831 733q-0 -5 -0 -10M928 676q-0 -3 1 -5M593 741q3 -7 -1 -13M779 748q-1 -6 -0 -13M552 773q5 -5 10 -9M692 722q-1 -5 -1 -10M1145 774q1 -5 1 -11M498 700q5 -5 6 -10M554 690q-2 -4 -3 -8M534 767q0 -7 0 -14M543 741q-1 -3 1 -6M867 715q-5 -3 -4 -5M756 677q1 -4 3 -8M993 742q-3 -6 -1 -12M395 747q-2 -3 -3 -6M518 681q2 -4 0 -9M752 733q1 -7 -1 -13M976 790q-5 -2 -8 -4M503 698q-0 -6 -2 -11M739 734q2 -3 -1 -7M1098 787q3 -7 2 -14M1077 751q2 -4 0 -8M1121 781q-2 -5 2 -9M638 672q-2 -2 -5 -4M892 731q4 -3 4 -6M523 760q-2 -4 -4 -9M821 735q3 -4 2 -9M776 783q-1 -6 1 -12M962 790q3 -3 0 -6M953 784q-0 -4 1 -9M633 749q-2 -7 1 -14M883 754q-2 -4 2 -8M1104 786q-1 -5 2 -9M838 679q-4 -3 -3 -5M519 729q2 -4 6 -7M1011 778q-3 -3 -5 -7M902 714q1 -3 -2 -7M660 687q-3 -4 -4 -7M1097 743q-1 -5 -1 -9M1098 701q-6 -4 -6 -8M487 728q2 -5 4 -9M870 703q0 -7 3 -13M749 779q-2 -4 1 -9M1005 778q-1 -3 -3 -6M830 720q2 -4 -2 -9M1032 702q-2 -3 -7 -6M745 687q-3 -4 -1 -7M616 673q1 -4 1 -9M715 723q-1 -6 -3 -12M412 749q-3 -3 -0 -6M699 694q-0 -6 -2 -13M1062 785q-4 -6 -6 -11M997 684q-0 -3 -0 -7M668 786q3 -5 2 -10M579 687q-2 -3 1 -5M759 709q2 -4 -1 -9M693 772q-2 -6 -2 -12M583 682q-3 -4 -2 -9M880 672q-1 -4 -1 -8M537 771q-1 -3 -6 -7"/>
<path fill="none" stroke="#a2cf78" stroke-width="0.8" stroke-linecap="round" d="M662 711q-1 -4 2 -8M1095 682q-3 -3 -2 -6M820 768q1 -5 5 -10M837 759q2 -6 -1 -12M873 727q2 -5 -0 -10M751 742q1 -4 -0 -8M756 708q1 -4 -3 -8M1001 769q1 -4 -4 -8M926 780q-4 -5 -5 -10M1025 707q1 -4 -1 -8M751 769q-3 -5 -4 -10M595 704q-3 -6 -3 -11M372 791q1 -5 8 -11M913 784q0 -7 -1 -13M940 716q-0 -5 -3 -10M407 790q1 -5 3 -9M915 751q-1 -5 -1 -11M970 686q-1 -3 -1 -6M854 729q-1 -4 0 -7M573 736q-3 -6 -8 -11M1025 773q-4 -3 -3 -6M507 738q-1 -4 -3 -8M1028 736q-4 -6 -4 -12M813 752q-1 -4 0 -8M360 783q-1 -5 -1 -9M841 691q-2 -3 2 -6M1139 705q-2 -4 0 -9M860 742q2 -4 1 -8M764 683q-0 -2 -2 -5M912 747q1 -4 -4 -8M412 781q-1 -5 -2 -10M931 767q1 -5 -2 -10M904 727q-2 -5 -1 -10M485 738q3 -5 4 -9M629 732q-1 -6 -3 -12M557 760q-2 -6 -0 -12M1066 723q-4 -6 -3 -12M831 724q-2 -6 -5 -11M950 743q3 -3 3 -5M639 728q-3 -6 -4 -11M459 779q-3 -6 -2 -11M771 684q1 -4 5 -7M420 766q3 -6 2 -12M766 679q-4 -4 -2 -8M974 791q-3 -4 -0 -8M1055 705q2 -3 3 -7M603 717q2 -3 -2 -7M406 760q-2 -6 -3 -13M639 673q-1 -4 -1 -7M771 764q-0 -3 -1 -6M1142 752q5 -6 4 -13M672 715q-1 -4 1 -8M607 791q-2 -4 -5 -9M676 759q-2 -3 -1 -6M1128 790q1 -5 2 -9M1013 740q-1 -5 -2 -11M1173 746q-0 -5 3 -10M1094 693q-4 -4 -3 -9M535 673q-0 -3 -3 -5M627 676q2 -3 -1 -5M862 721q0 -6 1 -12M764 697q-5 -5 -6 -10M660 689q-3 -4 -0 -8M675 762q1 -4 -2 -9M499 745q-0 -5 4 -10M550 756q-3 -5 -8 -10M1076 735q1 -5 -2 -9M484 763q4 -6 3 -11M796 782q2 -5 2 -11M1165 774q-2 -7 1 -14M987 724q-4 -5 -2 -11M1109 709q-4 -4 -7 -9M790 748q2 -5 -2 -11M658 727q1 -7 3 -13M602 684q-1 -3 -2 -6M874 679q-2 -3 3 -5M1133 732q-3 -6 -5 -13M704 670q3 -3 0 -7M731 742q-4 -3 -2 -6M696 744q3 -3 1 -6M842 770q2 -6 1 -13M599 687q3 -4 0 -8M380 756q5 -3 7 -6M1048 689q-0 -3 0 -6M412 749q2 -5 4 -10M572 750q2 -4 -1 -8M516 721q0 -7 -1 -13M485 739q7 -4 8 -7M652 737q-0 -4 -1 -8M555 693q-2 -6 -6 -11M723 684q-1 -3 0 -6M421 753q-7 -4 -8 -8M555 720q2 -4 -1 -7M804 753q1 -4 -3 -8M1172 733q-0 -4 -0 -8M1058 744q2 -6 2 -13M649 678q2 -3 -1 -7M1104 742q-3 -5 -5 -11M1192 777q1 -3 1 -6M551 741q-0 -6 -1 -13M404 741q3 -4 2 -9M995 715q-1 -6 3 -12M578 712q-2 -4 -5 -7M1058 780q-0 -4 -6 -8M550 753q-5 -5 -8 -10M517 723q-1 -4 -4 -8M727 752q-0 -6 2 -12M802 734q-3 -3 -4 -7M800 683q-4 -3 -3 -7M680 783q-0 -5 -5 -10M576 787q0 -6 -3 -12M1084 678q-1 -3 -0 -7M1072 693q0 -6 -1 -12M560 761q-0 -3 1 -6M1162 788q-0 -4 3 -9M939 788q-2 -4 -0 -7M966 672q0 -3 5 -5M1036 762q-3 -6 -1 -12M937 707q-3 -5 -3 -10M373 791q1 -3 -3 -5M557 779q1 -3 0 -6M753 735q1 -5 -3 -11M495 719q3 -4 0 -9M655 735q2 -6 2 -12M507 733q-4 -3 -2 -6M348 780q-3 -6 -1 -11M688 751q-2 -4 -1 -8M458 785q-2 -4 1 -8M449 733q0 -4 4 -9M1049 701q4 -4 3 -7M560 737q1 -7 -2 -13M525 712q0 -5 -1 -9M513 771q-0 -5 5 -10M728 753q0 -7 4 -13M607 769q-2 -4 -1 -9M697 693q-0 -6 1 -12M645 700q1 -3 1 -6M542 672q3 -4 -1 -7M968 723q2 -6 1 -13M1009 689q-4 -4 -2 -7M908 689q-2 -3 -2 -5M637 760q-1 -3 4 -6M476 787q-1 -6 -2 -13M764 677q-0 -4 2 -8M1151 713q-1 -6 -3 -12M669 762q2 -6 1 -12M1084 755q-3 -3 -1 -7M595 787q1 -3 -2 -7M833 783q2 -7 1 -13M778 735q1 -7 3 -13M925 789q3 -4 6 -8M1050 717q1 -6 4 -11M1014 787q-1 -6 1 -11M720 729q0 -5 -3 -11M741 689q1 -3 -2 -6M457 766q0 -4 -0 -7M843 733q-0 -6 -3 -12M1015 789q-5 -6 -4 -11M912 777q-0 -3 2 -7M846 787q1 -6 -2 -12M897 691q-1 -6 2 -13M1126 735q-1 -6 -0 -12M438 774q4 -4 4 -8M675 789q2 -5 3 -9M894 785q1 -5 -1 -10M1226 790q-1 -3 -5 -7M877 685q-3 -3 -1 -7M841 681q3 -4 2 -7M487 725q-0 -3 -0 -7M651 670q-1 -3 1 -7M764 672q-3 -4 -0 -7M1060 755q-2 -6 2 -13M954 791q0 -3 -2 -7M850 725q-1 -5 -1 -10M517 750q1 -7 -1 -13M891 695q-4 -4 -3 -8M486 712q-1 -3 3 -7M387 780q-2 -7 -2 -13M367 769q3 -6 2 -12M813 698q1 -4 0 -9M524 688q-1 -3 -0 -6M935 704q-3 -6 -1 -13M523 750q-4 -3 -4 -5M1176 788q-3 -7 -1 -13M1149 769q1 -4 1 -8M761 731q3 -3 -0 -7M916 760q3 -3 5 -7M424 781q0 -5 1 -11M603 735q-0 -5 -6 -10M588 779q-0 -4 0 -8M649 671q-3 -4 0 -8M810 773q-5 -5 -7 -10M1157 769q1 -4 -2 -8M445 727q1 -6 0 -12M1057 769q-1 -5 1 -10M769 674q-5 -1 -5 -2M730 701q-1 -3 1 -6M1089 671q-0 -4 1 -9M504 728q1 -4 -2 -8M1031 788q3 -3 5 -7M1040 716q-4 -5 -6 -11M890 699q-1 -3 -1 -6M1070 744q-3 -5 -1 -9M884 685q1 -4 0 -7M790 693q-6 -2 -6 -4M565 757q-0 -5 -2 -11M537 683q-4 -3 -3 -7M927 734q-1 -4 1 -8M750 748q3 -6 2 -12M736 760q-1 -4 -1 -8M704 706q4 -5 2 -10M461 718q2 -3 -0 -7M1130 770q2 -6 -2 -13M1104 702q-3 -6 -6 -12M907 734q2 -4 -0 -8M529 780q0 -5 3 -10M1155 765q0 -6 2 -13M1021 722q-4 -4 -2 -8M837 741q-3 -6 -1 -12M725 685q1 -4 -1 -8M602 711q-0 -3 -3 -6M939 755q-0 -4 -2 -9M342 787q-4 -3 -3 -6M1180 792q-2 -4 -1 -8M594 684q-3 -4 -4 -7M939 752q-5 -6 -7 -11M898 771q-3 -3 -2 -6M722 722q3 -3 1 -6M972 717q-2 -5 -6 -9M1004 771q-4 -3 -2 -6M1083 711q2 -4 0 -7M1112 785q3 -3 0 -6M1028 749q-2 -7 1 -13M779 699q-3 -3 -1 -6M845 751q1 -3 0 -7M971 760q0 -3 -1 -6M1081 738q-2 -6 -6 -11M817 699q-2 -3 -2 -6M866 755q2 -5 -2 -9M1027 729q0 -6 0 -13M1081 723q-0 -6 1 -11M389 755q-5 -3 -4 -6M665 784q-3 -4 -5 -8M898 725q-2 -5 -0 -10M964 787q-2 -4 1 -8M572 674q-4 -4 -2 -8M345 787q-1 -4 -3 -7M1054 719q-4 -5 -4 -10M978 771q-2 -5 -3 -9M614 683q1 -3 2 -6M577 777q-1 -4 -4 -8M602 683q-0 -3 -2 -6M613 717q2 -4 1 -9M753 676q3 -4 1 -7M1189 775q-2 -4 -6 -9M853 721q0 -3 -3 -7M780 775q-4 -6 -7 -12M959 735q-1 -5 -2 -10M604 722q-0 -4 -0 -8M639 789q-4 -3 -3 -7M866 670q-1 -2 -4 -4M615 677q0 -3 -4 -6M475 722q1 -7 -1 -13M1010 725q2 -3 -0 -6M433 770q2 -4 0 -9M801 713q1 -6 0 -11M654 673q-2 -4 -2 -7M867 730q-2 -6 -1 -11M464 710q-3 -4 -4 -9M556 736q-1 -5 -1 -9M966 719q-6 -3 -7 -6M560 725q-5 -5 -4 -11M811 696q-1 -6 4 -13M750 672q-0 -3 -2 -6M436 777q-2 -4 1 -8M583 700q-4 -6 -5 -13M1035 786q-1 -6 0 -13M555 763q0 -5 5 -10M812 682q0 -4 -1 -8M360 781q2 -5 2 -10M582 774q-4 -2 -4 -5M763 744q4 -6 3 -12M562 714q-4 -6 -3 -12M755 676q-1 -3 -3 -5M993 744q-2 -4 -4 -8M562 723q1 -3 0 -6M601 771q2 -6 4 -12M748 717q-1 -4 -3 -8M488 725q1 -5 5 -10M526 747q3 -6 1 -13M628 749q-2 -5 -5 -10M789 791q-4 -7 -3 -13M577 767q1 -5 3 -10M549 710q-0 -6 -4 -11M730 736q-1 -6 -3 -13M758 711q1 -4 2 -7M606 732q-3 -3 -0 -7M716 716q-2 -3 -1 -7M1117 721q1 -7 1 -13M979 746q-1 -6 -1 -11M817 685q4 -3 4 -7M736 768q-5 -5 -5 -9M793 697q1 -7 3 -14M785 722q1 -3 1 -6M1108 757q1 -4 5 -8M515 776q-3 -4 -4 -8M414 777q-1 -3 0 -6M622 752q-3 -4 -1 -7M1133 777q-1 -5 -5 -10M1041 770q3 -4 3 -8M802 786q2 -4 0 -7M618 705q-3 -4 -2 -7M535 743q-4 -4 -2 -8M654 688q3 -3 3 -5M726 711q-1 -5 -3 -9M457 725q1 -4 1 -7M619 756q2 -3 7 -6M552 749q-1 -5 1 -10M358 776q2 -7 5 -13M1144 766q-1 -3 -4 -6M795 673q5 -3 5 -6M1210 780q-0 -5 -4 -10M1077 725q-1 -4 -5 -9M1044 786q-2 -3 -7 -7M843 724q-1 -4 0 -7M664 776q-4 -6 -5 -12M1051 707q-1 -6 1 -12M936 676q2 -4 0 -8M663 769q-1 -4 2 -9M1239 784q1 -5 -3 -9M486 742q0 -5 3 -11M691 677q-1 -4 -0 -7M1034 700q-2 -4 -4 -8M791 677q0 -4 0 -7M733 753q1 -5 -0 -10M370 767q1 -3 2 -7M1191 759q2 -4 2 -9M1148 748q4 -5 7 -11M775 748q-2 -5 -2 -10M631 759q1 -4 -0 -7M475 769q-0 -5 -1 -9M562 696q-3 -4 -10 -8M675 678q-4 -3 -3 -6M724 710q-0 -7 -0 -13M996 700q-3 -6 -6 -12M444 717q-2 -6 -0 -11M1062 747q-0 -4 -6 -9M495 696q-0 -5 -2 -10M1131 756q1 -4 -1 -8M935 721q-2 -4 -5 -8M915 718q0 -4 -5 -9M745 705q-1 -4 0 -8M889 760q4 -3 5 -7M1014 675q2 -3 -1 -6M853 703q-1 -4 -3 -7M648 791q1 -5 -1 -10M1106 710q1 -3 2 -6M546 714q5 -6 5 -11M1056 786q4 -3 2 -6M901 714q1 -6 3 -12M974 738q-1 -4 -1 -9M984 695q2 -4 5 -9M966 746q2 -5 -2 -10M595 681q-3 -3 0 -6M890 705q1 -6 3 -11M1060 738q-5 -5 -5 -10M775 767q-1 -6 -6 -12M775 790q2 -6 -1 -12M523 755q1 -3 -3 -6M928 749q-2 -5 -3 -11M944 734q-2 -4 1 -7M936 737q1 -6 -3 -11M1137 778q1 -5 0 -10M682 705q-2 -7 2 -13M745 679q-2 -3 1 -6M614 785q-2 -5 -5 -10M519 696q2 -3 3 -6M962 774q-1 -7 2 -13M595 721q1 -7 -1 -13M546 702q4 -3 4 -7M783 739q-4 -4 -4 -9M819 711q-1 -6 -1 -12M780 790q-1 -7 -3 -14M840 693q3 -6 1 -11M843 681q-2 -3 -4 -7M610 714q0 -4 1 -8M888 710q-1 -3 -4 -7M1022 772q2 -4 2 -8M598 672q0 -4 -1 -8M941 705q0 -6 -3 -11M610 723q0 -5 2 -10M1075 753q2 -4 -2 -7"/>
<path fill="none" stroke="#5f9a3c" stroke-width="1.1" stroke-linecap="round" d="M1000 675q-2 -3 -1 -6M978 735q1 -4 -0 -8M649 766q3 -5 0 -9M1240 782q-1 -5 -3 -11M1060 733q-4 -5 -5 -10M600 713q-3 -4 -1 -8M957 688q-5 -2 -5 -3M408 781q4 -3 2 -6M1076 702q2 -5 5 -10M570 685q-1 -3 3 -6M733 761q1 -3 6 -6M967 720q4 -6 3 -13M872 756q-2 -5 0 -9M1128 737q-0 -6 -1 -12M1081 731q3 -3 1 -6M648 759q-1 -6 -0 -11M469 784q-0 -4 2 -7M1136 738q-1 -6 4 -12M1064 750q-1 -4 -3 -8M406 758q1 -5 0 -10M1069 759q-4 -5 -7 -10M870 684q1 -4 1 -8M587 773q0 -4 -0 -9M436 780q-2 -6 -2 -13M912 745q-4 -4 -8 -8M623 696q-0 -6 -4 -13M1139 772q-7 -4 -10 -9M788 747q1 -4 -0 -7M888 690q1 -3 -0 -6M960 690q1 -3 -3 -6M546 748q-4 -6 -5 -13M568 778q-0 -3 -0 -7M877 739q1 -4 -4 -8M787 728q-3 -5 -3 -10M656 718q-6 -4 -7 -8M960 745q1 -6 2 -12M1089 741q-2 -5 -1 -9M1099 723q-3 -4 -2 -7M353 784q-3 -4 1 -7M663 725q-4 -7 -2 -13M479 771q-1 -6 -2 -11M609 674q-1 -4 1 -7M679 780q-5 -3 -8 -7M903 744q-1 -5 1 -11M1157 761q-4 -5 -5 -10M1035 757q1 -6 3 -12M909 732q-0 -6 -5 -12M755 721q-2 -6 -3 -12M802 720q-0 -5 1 -10M980 735q-3 -4 -7 -8M593 673q-0 -4 -1 -9M684 708q2 -5 -2 -10M1188 755q0 -4 1 -8M631 740q-1 -6 -3 -13M1082 679q3 -4 4 -8M749 789q-5 -4 -6 -9M719 782q-4 -3 -3 -6M1103 735q2 -3 0 -6M476 730q2 -4 4 -8M755 786q-4 -5 -3 -10M628 759q0 -6 4 -11M1074 704q-0 -6 -2 -12M645 782q-6 -5 -8 -10M550 769q-2 -4 -3 -8M924 713q1 -3 -1 -6M406 757q-1 -6 4 -12M792 784q-1 -4 1 -9M622 737q4 -3 3 -6M1115 733q1 -4 3 -7M495 735q0 -6 3 -12M378 787q-3 -4 -0 -8M684 761q-1 -6 -1 -13M743 675q-1 -3 -4 -6M764 725q-0 -4 -2 -9M554 725q2 -6 2 -11M651 785q-3 -6 -8 -11M792 767q2 -4 -0 -9M670 684q-1 -2 -3 -4M1048 695q4 -5 5 -10M905 788q-0 -6 3 -11M676 683q1 -4 -1 -9M574 791q0 -5 -3 -11M915 759q-2 -4 -0 -7M527 721q-0 -3 0 -6M495 729q1 -6 0 -12M1020 686q-3 -4 0 -8M999 698q3 -3 0 -6M777 742q-1 -4 0 -7M675 765q-1 -3 0 -7M978 723q-0 -6 -1 -12M1135 719q-3 -4 -10 -8M818 682q-3 -3 -0 -5M729 672q2 -4 1 -9M497 740q4 -6 4 -11M964 787q-0 -5 -3 -10M1106 678q-3 -2 -3 -5M826 702q1 -6 3 -11M745 697q-0 -4 -3 -9M746 722q4 -3 5 -7M581 747q-1 -5 0 -10M753 740q-0 -3 -0 -6M814 775q-3 -7 -1 -14M537 696q-2 -7 -3 -13M982 738q-4 -4 -6 -7M559 782q1 -5 2 -11M985 719q1 -5 -3 -11M726 762q-1 -6 3 -13M905 774q-3 -3 -2 -6M973 776q6 -6 8 -12M514 699q1 -6 -3 -12M408 741q-1 -5 -1 -11M796 691q1 -6 -1 -12M739 704q2 -5 -0 -10M661 791q1 -4 5 -8M706 715q-4 -6 -2 -13M679 743q-3 -5 -1 -10M840 786q-4 -4 -4 -8M546 774q-4 -5 -2 -10M676 690q-1 -4 -1 -9M1101 707q-1 -4 -2 -8M900 704q-4 -3 -3 -7M1150 763q0 -3 -1 -6M719 690q0 -4 0 -8M617 792q2 -3 3 -7M589 741q-3 -4 1 -9M858 755q-3 -6 -3 -12M730 742q-1 -5 -4 -9M403 753q-0 -5 -3 -10M579 739q-5 -5 -7 -10M552 762q-3 -6 -3 -12M811 721q2 -4 3 -7M423 780q-1 -5 -1 -9M1239 779q-1 -7 1 -13M721 710q3 -3 1 -7M913 734q2 -5 7 -10M1097 735q2 -7 -1 -13M1109 792q1 -4 -2 -8M443 789q-1 -4 -3 -9M1007 697q-5 -3 -4 -7M416 763q-2 -4 0 -8M798 784q-2 -4 -5 -9M813 787q-2 -5 -0 -10M559 711q-2 -3 -3 -6M1071 722q1 -5 0 -11M462 748q-1 -5 -1 -10M898 781q5 -4 4 -8M968 742q-1 -4 -3 -8M648 787q-0 -3 -1 -7M541 719q1 -6 3 -12M940 690q3 -4 4 -8M1064 767q-5 -5 -4 -9M552 726q-3 -4 -0 -8M1089 675q-2 -4 -1 -7M686 700q-1 -4 -3 -8M953 739q-4 -6 -4 -12M725 714q-1 -6 -0 -12M1077 707q2 -4 0 -9M1000 779q-1 -5 -9 -10M582 685q-3 -2 -2 -5M870 748q3 -6 2 -13M686 724q-1 -6 -3 -12M986 727q-1 -6 3 -11M1013 674q-1 -4 0 -8M761 762q-1 -6 -6 -12M514 703q-1 -3 -2 -6M1217 784q0 -7 3 -13M1026 730q1 -5 -2 -10M754 740q-1 -5 -2 -9M728 791q-2 -4 -1 -8M460 768q1 -3 -2 -6M377 789q1 -5 -2 -11M1013 787q-8 -1 -11 -2M623 690q1 -4 0 -9M385 761q4 -5 3 -10M1058 682q-1 -3 -2 -6M652 692q-1 -5 -5 -11M708 678q2 -3 1 -7M748 715q-6 -2 -5 -3M521 747q-1 -6 -2 -11M477 773q3 -3 1 -7M985 698q3 -4 8 -8M780 727q-1 -3 1 -6M509 785q-2 -4 -7 -8M609 734q-0 -3 1 -7M1107 739q3 -5 5 -11M959 740q2 -5 -2 -11M602 687q-2 -3 -1 -5M876 704q-5 -6 -4 -12M593 772q-3 -5 -2 -9M702 693q-1 -6 3 -13M921 746q-2 -4 -3 -8M599 699q0 -6 -3 -13M920 767q2 -5 1 -11M1172 768q1 -5 -2 -10M852 769q5 -6 5 -13M776 755q1 -5 4 -10M704 689q1 -4 -0 -9M993 765q1 -6 -0 -12M1193 749q4 -2 5 -5M561 743q1 -5 1 -9M949 750q-2 -4 -6 -8M783 745q-2 -6 1 -13M1159 764q-3 -4 -1 -8M701 786q4 -5 6 -9M546 750q2 -3 2 -7M696 674q-1 -3 -2 -6M563 703q5 -5 5 -10M768 696q-2 -6 -7 -11M1102 774q-2 -4 1 -8M685 700q-1 -3 0 -7M480 767q2 -4 3 -8M657 764q-3 -3 -11 -5M798 748q-2 -4 -0 -8M962 727q0 -4 -5 -9M1104 790q0 -5 -2 -10M1007 703q-3 -3 -2 -6M786 723q-4 -6 -4 -12M871 706q1 -6 -3 -12M347 791q1 -4 1 -8M713 709q-1 -6 -1 -12M689 703q-3 -4 -1 -8M476 748q1 -3 -1 -7M745 680q2 -3 3 -5M546 691q1 -4 -4 -9M943 692q-1 -5 -1 -11M591 711q-5 -4 -7 -7M990 783q-1 -6 1 -12M778 725q1 -4 0 -9M878 757q-0 -4 0 -8M917 783q-3 -5 -5 -10M824 698q-3 -4 -4 -8M623 741q-3 -5 -2 -10M945 762q1 -3 0 -7M834 723q-0 -6 1 -11M1237 787q-3 -4 -5 -7M666 696q-2 -4 -1 -7M1056 701q-2 -3 -1 -7M674 716q-0 -4 -2 -7M659 760q1 -5 -3 -10M739 702q-1 -6 -2 -13M1070 739q1 -4 1 -8M686 745q-1 -4 1 -7M874 709q3 -6 3 -13M502 715q4 -5 4 -11M385 759q-3 -4 -4 -9M1077 728q-2 -4 -3 -7M634 768q-2 -4 -10 -8M1000 790q3 -4 0 -7M1103 739q-3 -4 -1 -8M625 778q-1 -6 1 -12M746 712q-2 -6 -5 -11M1061 674q-2 -3 1 -7M651 752q0 -5 6 -10M997 691q-3 -5 -4 -10M951 754q-2 -2 -5 -4M680 696q-3 -6 -2 -11M557 716q1 -6 -2 -12M573 751q-1 -4 -2 -9M503 787q-3 -5 -5 -10M1025 707q-2 -5 -10 -9M898 729q-1 -5 -2 -10M961 686q-3 -3 0 -6M463 747q0 -5 -1 -10M894 769q-1 -6 3 -12M414 756q-4 -5 -2 -9M924 790q1 -4 3 -7M578 694q-1 -3 -0 -7M526 721q3 -3 3 -5M984 671q2 -3 5 -6M704 696q2 -7 -2 -14M812 791q3 -6 3 -13M1082 728q-1 -4 -1 -8M1185 790q-4 -5 -5 -10M399 762q0 -4 -0 -7M644 711q0 -5 -5 -9M401 789q-0 -5 -6 -10M1094 727q-1 -4 3 -7M578 725q-3 -6 -2 -11M1074 753q-2 -6 1 -12M624 761q-3 -4 -5 -8M606 733q2 -5 -1 -9M985 788q0 -5 -3 -10M1109 713q-4 -5 -4 -10M564 703q2 -5 1 -9M677 676q2 -4 1 -8M905 764q2 -3 2 -7M1127 740q2 -5 2 -10M1016 749q4 -6 5 -12M646 780q1 -4 0 -8M755 784q-3 -4 -2 -9M636 672q2 -3 0 -7M493 744q0 -4 -3 -8M527 695q0 -7 -4 -13M503 765q-3 -5 -1 -11M333 791q2 -6 5 -13M1159 746q2 -3 6 -7M791 753q-2 -5 0 -9M708 723q-3 -6 -3 -12M594 708q2 -7 -1 -14M577 704q-4 -5 -5 -9M1034 740q2 -4 0 -7M1132 741q1 -3 -1 -6M889 751q1 -4 -0 -8M422 787q1 -3 1 -7M869 781q-4 -4 -4 -7M1109 787q-4 -5 -5 -10M622 707q-2 -5 1 -10M640 693q-1 -6 -1 -13M1176 771q-4 -3 -3 -7M726 737q-4 -5 -4 -9M941 751q-3 -4 -1 -8M1195 775q-4 -5 -5 -10M699 686q1 -4 -2 -7M961 681q2 -3 -2 -5M1060 709q-0 -3 1 -6M727 777q-2 -7 -1 -14M759 731q2 -5 1 -11M544 770q-2 -7 1 -13M993 713q-3 -5 -2 -10M1177 771q-2 -4 -1 -8M619 751q1 -3 -1 -7M886 700q-3 -4 -0 -7M973 751q-2 -6 0 -12M558 700q-5 -6 -5 -12M1070 777q4 -2 5 -5M521 731q0 -4 3 -8M667 691q-0 -3 1 -6M935 771q-4 -6 -3 -13M800 755q-4 -4 -7 -7M437 738q-2 -6 -0 -12M774 710q-1 -7 -1 -14M663 774q-2 -3 -2 -6M573 720q-3 -5 -1 -9M996 674q-3 -2 -4 -5M660 706q4 -5 2 -11M975 790q0 -4 -2 -8M722 761q-2 -4 -2 -9M691 777q1 -7 1 -14M577 730q-5 -5 -4 -9M1002 691q-3 -6 -1 -12M850 683q3 -3 1 -6M732 692q4 -5 3 -11M697 784q-1 -6 -2 -11M541 695q0 -6 3 -13M910 710q3 -5 4 -9M956 791q-1 -6 -1 -11M840 698q-4 -3 -5 -6M1033 671q-1 -3 2 -6M855 750q0 -6 -0 -13M689 731q-4 -4 -2 -7M876 752q0 -3 -0 -7M601 710q-4 -4 -3 -8M790 708q0 -5 1 -9M1046 757q1 -3 -0 -7M357 791q-6 -4 -8 -8M1110 693q3 -3 1 -6M831 728q-0 -3 -3 -6M1083 679q2 -4 2 -7M1025 727q-2 -5 1 -10M1044 788q2 -3 2 -6M826 707q-2 -6 -1 -12M981 779q2 -4 2 -8M1045 761q-3 -4 -2 -8M550 790q3 -3 1 -6M1047 672q-1 -3 2 -7M632 770q-2 -5 -5 -11M924 705q-2 -5 -3 -10M642 714q-3 -6 -6 -12M711 701q0 -6 -5 -12M699 780q-3 -6 -3 -11M851 763q-1 -5 2 -10M479 740q-0 -6 2 -11M1135 713q2 -5 6 -10M902 747q-1 -4 -5 -8M990 752q-1 -4 -1 -9M703 759q-7 -5 -9 -10M430 790q-5 -2 -5 -5M1043 676q-3 -4 -0 -7M863 709q3 -6 1 -12M408 778q-1 -6 -0 -12M1068 695q1 -5 1 -11M1101 785q-4 -5 -3 -10"/>
<path fill="none" stroke="#a2cf78" stroke-width="1.1" stroke-linecap="round" d="M998 753q-3 -3 -2 -6M964 791q1 -5 -4 -10M544 727q-0 -2 -6 -4M877 783q1 -5 -3 -10M893 770q-3 -6 -6 -12M996 785q-4 -5 -2 -10M1055 694q4 -5 2 -10M1131 740q1 -5 -3 -11M668 766q1 -3 1 -6M759 788q-0 -3 -0 -6M731 778q-1 -3 -6 -7M1049 675q0 -3 1 -5M510 785q-3 -6 -1 -12M975 675q-1 -4 -2 -7M845 769q-1 -3 -4 -6M590 775q1 -3 -2 -6M1038 779q1 -4 -3 -9M975 786q-0 -4 -0 -9M947 700q-0 -3 -4 -6M1002 733q-1 -3 -8 -7M592 740q2 -5 -1 -10M1064 763q3 -7 3 -13M542 777q-2 -7 -4 -13M548 743q3 -4 2 -7M833 713q-1 -4 -2 -8M562 770q-1 -7 -3 -13M951 775q0 -5 5 -11M912 742q-0 -7 -4 -13M698 760q0 -7 1 -13M967 729q-4 -6 -5 -13M1123 761q2 -4 -2 -8M705 761q3 -6 1 -11M555 715q2 -5 7 -11M1059 786q2 -5 -1 -11M1016 675q-1 -3 -2 -7M772 779q-2 -4 -2 -8M841 788q-2 -4 -7 -8M1203 781q-1 -3 -1 -7M725 715q-3 -4 -3 -8M957 753q-6 -4 -8 -9M599 674q-4 -3 -5 -5M700 761q-1 -3 -3 -6M1008 721q0 -4 -3 -8M924 683q-1 -3 0 -6M992 744q2 -3 -1 -7M923 684q-1 -3 -6 -6M502 753q-4 -3 -6 -6M541 755q-3 -4 -4 -8M1210 775q0 -4 -1 -9M779 719q-2 -6 -0 -12M675 725q0 -5 -3 -9M1128 733q-0 -4 -4 -7M776 774q-3 -4 -5 -9M476 735q2 -3 3 -6M1195 753q-3 -5 -1 -10M1172 763q5 -4 5 -8M1125 732q4 -5 4 -9M455 721q1 -3 3 -6M489 760q-3 -3 -1 -6M1094 751q-1 -5 0 -9M819 691q0 -5 -5 -10M1035 781q1 -3 -2 -6M800 750q-1 -4 2 -9M867 767q-2 -6 -4 -13M510 717q0 -5 -0 -10M693 770q-1 -6 -3 -12M526 750q2 -4 -1 -8M1055 770q-1 -6 3 -12M489 762q5 -3 5 -6M901 790q1 -6 3 -12M924 719q-1 -3 1 -6M578 761q-2 -6 -1 -12M777 685q-3 -2 -1 -5M523 706q-6 -6 -6 -12M585 744q-2 -5 -1 -9M605 727q-4 -6 -3 -12M1083 775q-2 -7 -1 -14M627 685q-1 -4 -3 -8M1039 761q-1 -6 1 -12M803 670q1 -4 -0 -8M1061 707q1 -6 2 -13M730 691q1 -5 1 -11M882 763q1 -4 1 -8M894 702q-6 -3 -7 -5M702 737q-2 -3 -5 -7M699 722q-4 -4 -3 -8M754 759q-1 -7 1 -14M678 777q-1 -5 2 -9M942 779q6 -4 7 -9M604 788q2 -3 0 -6M587 672q-1 -4 -1 -7M1034 713q1 -4 4 -9M601 711q4 -5 3 -10M525 787q-1 -6 -6 -12M1001 764q2 -5 -0 -10M566 708q2 -4 5 -8M515 738q-6 -3 -8 -6M771 791q-3 -3 -1 -6M386 788q1 -3 -2 -7M631 731q-2 -3 -3 -6M1246 785q-1 -6 -3 -12M831 718q-3 -4 -2 -7M990 675q-1 -4 1 -7M906 759q-2 -3 0 -7M629 733q-3 -4 -6 -8M1129 698q-7 -2 -8 -5M700 755q3 -4 2 -7M766 740q-1 -3 -3 -6M706 715q-2 -5 -4 -9M511 777q-1 -6 -2 -12M924 695q1 -5 2 -9M523 692q2 -4 2 -7M454 724q-0 -6 3 -12M1030 671q1 -3 -2 -6M723 714q1 -6 -4 -12M522 691q-1 -3 -5 -7M746 759q2 -7 3 -13M455 752q-1 -6 -3 -13M654 700q2 -5 1 -10M489 749q-4 -5 -4 -9M422 751q-3 -6 -5 -12M1197 783q-2 -6 -4 -11M1060 711q1 -5 1 -10M427 769q-1 -6 -3 -12M1020 766q-2 -6 -1 -13M885 712q-4 -5 -6 -9M584 701q-3 -4 -1 -8M1037 747q1 -3 -2 -6M1047 701q1 -3 1 -7M904 693q-3 -5 -3 -10M705 743q3 -5 0 -11M733 704q0 -3 -4 -5M1045 787q1 -3 0 -6M977 791q-1 -4 -5 -8M400 783q0 -4 -0 -8M859 717q2 -4 -2 -9M924 746q-0 -3 -1 -6M488 734q2 -4 5 -9M1102 706q-0 -6 -5 -12M936 749q-0 -3 -4 -7M410 781q-5 -6 -5 -13M483 704q-3 -6 -3 -13M578 766q2 -5 1 -9M575 733q1 -7 1 -14M408 740q-1 -4 -3 -8M836 682q2 -4 -1 -7M535 778q3 -3 3 -5M938 679q-5 -2 -5 -5M739 678q1 -3 -0 -5M822 671q0 -4 -2 -8M787 705q2 -3 0 -7M995 679q-2 -3 0 -6M740 701q2 -6 -0 -12M1017 785q1 -7 -3 -13M1091 777q-5 -5 -7 -10M794 689q-3 -2 -2 -5M1185 738q5 -5 4 -9M1215 763q-3 -5 -2 -10M862 725q-7 -5 -8 -11M698 707q-0 -6 -0 -11M871 742q2 -7 0 -13M710 723q1 -5 6 -10M716 746q-1 -6 1 -13M1061 753q2 -3 -0 -7M467 777q-2 -6 -4 -11M398 775q3 -5 3 -9M629 784q1 -6 -2 -12M1059 740q1 -5 -1 -9M477 772q-0 -7 0 -14M783 768q-1 -5 3 -10M494 703q-2 -4 2 -9M1107 686q-0 -3 3 -7M399 747q-2 -4 -1 -8M786 725q-2 -6 -5 -12M837 779q2 -3 3 -6M434 726q0 -7 4 -14M848 715q-1 -6 -4 -12M687 762q-0 -6 -0 -11M604 791q4 -6 7 -11M985 688q-1 -3 2 -5M616 758q-3 -7 -2 -14M1160 782q2 -4 8 -7M460 766q1 -5 -2 -9M679 697q-1 -3 -0 -7M1118 725q-3 -4 -2 -7M1048 680q3 -4 4 -8M912 786q-1 -3 1 -7M893 776q1 -6 1 -11M419 753q2 -5 0 -9M691 703q2 -6 4 -12M997 778q-1 -3 1 -7M667 670q-2 -4 -1 -7M536 674q1 -3 -4 -5M624 737q1 -5 3 -9M640 698q-2 -5 -4 -10M580 724q1 -5 2 -10M833 671q-2 -3 1 -6M803 731q4 -2 5 -4M969 689q1 -3 0 -5M906 711q-1 -6 -1 -11M856 747q-2 -2 -5 -5M1160 742q-4 -5 -4 -11M1110 789q-6 -3 -10 -5M1012 762q0 -4 1 -7M780 762q0 -5 -0 -10M874 748q2 -5 -0 -9M753 684q2 -4 -2 -8M422 755q-0 -5 -0 -11M519 685q-2 -4 -2 -8M1094 729q-1 -5 -2 -10M639 775q-3 -6 -2 -11M1132 761q-2 -6 -6 -13M895 722q-1 -6 0 -11M414 791q-0 -6 1 -12M487 737q-2 -4 -4 -7M940 742q-3 -7 1 -13M994 672q-2 -4 2 -8M886 737q-2 -4 -1 -7M402 765q-5 -5 -5 -10M789 772q-1 -5 -4 -11M590 747q-0 -3 1 -6M421 739q1 -5 -1 -10M496 713q2 -5 3 -10M922 675q-1 -4 1 -8M494 782q2 -5 3 -10M645 728q-2 -3 -8 -6M615 711q-3 -7 -1 -13M954 740q-1 -4 1 -8M935 777q-2 -4 -2 -7M720 732q0 -3 1 -6M965 732q1 -5 -3 -11M434 749q-5 -5 -8 -10M773 682q0 -4 0 -9M1092 701q-4 -7 -4 -13M1164 792q1 -3 7 -7M762 778q-2 -4 -2 -7M898 763q0 -5 -0 -10M410 778q2 -5 -1 -10M558 713q-1 -3 4 -7M775 748q-0 -6 -3 -12M1002 705q-4 -5 -5 -9M1132 710q2 -4 -1 -8M922 677q3 -4 1 -7M746 752q-0 -4 3 -8M841 781q-2 -3 2 -6M1070 715q0 -6 2 -12M515 724q3 -5 3 -10M1223 765q-0 -4 -5 -8M480 770q-2 -4 -6 -8M418 754q-4 -6 -3 -12M510 726q-4 -3 -2 -6M635 766q-0 -4 -0 -8M632 789q3 -5 3 -10M347 784q-0 -3 -1 -6M768 779q-3 -4 -0 -8M829 730q3 -5 9 -10M1066 781q-1 -6 2 -11M757 696q3 -5 1 -10M790 755q-3 -6 -2 -12M958 714q2 -6 6 -12M1080 791q2 -6 0 -12M992 784q1 -7 1 -13M953 747q-1 -4 -0 -9M882 695q-2 -4 2 -8M999 745q2 -3 3 -6M803 690q3 -6 4 -11M725 775q-2 -6 -5 -12M764 716q3 -3 -1 -6M791 732q4 -5 2 -9M1062 746q2 -6 -1 -11M489 706q3 -6 1 -13M1216 785q-0 -6 -7 -12M546 769q-0 -5 -3 -11M737 777q-2 -5 -7 -10M1141 752q-0 -5 3 -11M950 787q-3 -6 -3 -12M853 734q-2 -5 -1 -10M617 678q-1 -4 1 -8M1107 757q-3 -5 -1 -11M986 710q-2 -4 -5 -9M426 768q-3 -6 -5 -11M646 743q-3 -3 -5 -6M996 788q-4 -6 -5 -12M805 789q2 -5 0 -10M513 781q2 -3 3 -6M898 779q3 -6 7 -11M830 756q-0 -4 -0 -8M890 699q-3 -7 -2 -13M748 764q-0 -4 -3 -8M763 702q2 -6 -2 -12M884 711q-1 -3 1 -6M858 763q-2 -3 -1 -7M828 704q-5 -5 -8 -11M843 706q2 -6 0 -12M571 738q-1 -4 1 -7M1126 756q4 -5 3 -10M1189 789q1 -3 1 -7M907 724q0 -3 5 -6M819 757q1 -3 5 -7M870 784q-3 -4 -1 -9M726 761q-1 -6 -4 -12M536 789q0 -6 1 -12M676 762q-1 -5 -5 -10M758 751q6 -6 6 -12M949 747q-2 -5 -5 -10M1092 768q-4 -3 -5 -5M981 685q2 -3 -1 -6M1011 780q-3 -5 -6 -11M1034 788q-0 -3 2 -6M663 685q0 -3 -1 -5M1061 703q2 -3 1 -6M889 759q2 -4 7 -9M741 718q3 -6 4 -13M1110 758q-1 -3 -7 -6M695 778q1 -6 4 -13M587 706q-1 -6 1 -12M942 728q3 -3 7 -6M638 761q1 -6 3 -11M754 685q-2 -3 -2 -7M970 785q-2 -4 -2 -8M359 789q0 -5 3 -10M898 760q-3 -3 0 -7M977 767q1 -5 2 -11M852 679q1 -3 -0 -7M734 698q-1 -3 1 -6M576 712q-1 -6 -1 -12M565 760q0 -7 4 -13M1148 721q-2 -4 -4 -8M625 715q0 -4 1 -9M861 763q0 -7 -3 -14M825 692q0 -3 4 -6M980 677q4 -4 2 -7M756 774q2 -4 -2 -8M1041 706q1 -6 -4 -12M861 699q1 -7 -1 -14M676 744q2 -3 3 -6M1139 779q4 -5 5 -9M761 681q-1 -3 5 -6M1110 714q0 -3 3 -6M825 752q1 -6 -2 -12M369 776q-1 -6 -3 -13M356 781q4 -6 7 -11M1049 728q-4 -4 -9 -8M552 714q2 -4 2 -9M1128 737q-1 -4 1 -8M1148 781q3 -6 3 -12M837 710q3 -7 1 -14M679 767q1 -3 3 -6M532 775q2 -4 -1 -7M493 698q3 -6 2 -11M529 776q1 -3 -2 -6M829 682q0 -3 -4 -6M658 741q1 -5 -3 -9M674 766q1 -6 3 -13M1026 684q-3 -3 -0 -7M967 760q-1 -5 2 -9M652 767q-1 -6 -2 -13M725 689q-5 -3 -4 -6M924 672q0 -4 -5 -7M458 727q-3 -5 -1 -10M1125 710q2 -4 -1 -8M987 684q-2 -4 -1 -8M1000 768q3 -7 2 -14M716 760q-2 -3 -1 -6M568 688q-1 -1 -7 -3M1188 778q-2 -3 -6 -6M558 792q0 -4 3 -8M452 781q-0 -4 5 -9M696 767q4 -3 3 -6M985 755q1 -7 -1 -14M495 694q-1 -6 2 -11M674 685q2 -3 0 -7M721 767q-3 -4 -2 -8M611 715q-1 -5 -1 -9M941 728q-0 -4 -4 -7M646 750q-1 -5 2 -11M712 721q4 -5 4 -10M503 713q-0 -2 -4 -5"/>
<path fill="none" stroke="#8cc262" stroke-width="0.8" stroke-linecap="round" d="M575 783q-4 -5 -5 -11M447 761q0 -5 -1 -10M877 674q-2 -3 -2 -5M672 737q-2 -5 1 -9M1032 710q3 -7 2 -13M588 751q2 -4 6 -9M557 679q2 -2 3 -4M1062 690q2 -4 -1 -7M886 758q-2 -6 -6 -12M986 696q-4 -4 -6 -8M1157 746q-0 -3 2 -7M739 785q-2 -4 -2 -7M717 718q-3 -4 -2 -9M992 686q-3 -4 -1 -8M731 745q-5 -3 -4 -7M803 776q-1 -6 -3 -12M1211 792q-1 -3 -7 -6M1120 732q-3 -3 -1 -7M714 773q-0 -4 -1 -8M517 776q-4 -6 -3 -13M1085 754q-0 -3 -3 -6M885 712q-2 -5 -7 -11M969 708q-4 -3 -4 -7M892 733q-3 -5 -0 -10M1047 742q4 -4 2 -9M1076 702q1 -7 -1 -13M829 763q1 -7 1 -14M1227 791q1 -4 -0 -7M748 702q-1 -3 4 -7M1000 722q-5 -5 -4 -10M853 783q-1 -5 -3 -10M451 744q-4 -6 -3 -11M1102 763q-3 -4 -2 -7M1180 791q4 -4 4 -8M720 780q-2 -4 -5 -9M882 700q-3 -4 -1 -9M518 780q1 -6 1 -13M714 712q-0 -5 -3 -10M650 775q-1 -6 -3 -12M1040 737q-1 -3 -2 -7M985 688q1 -4 -1 -8M923 777q-0 -7 -1 -13M621 738q-1 -7 3 -13M796 759q-1 -5 2 -10M1078 720q2 -6 1 -12M514 753q0 -6 -4 -12M716 730q-5 -2 -6 -5M1193 788q-5 -2 -5 -3M890 688q1 -3 -2 -6M825 753q1 -4 -1 -9M685 710q3 -3 1 -6M800 788q-1 -6 -0 -12M548 749q-1 -3 -3 -5M625 788q-2 -4 1 -8M505 752q-0 -4 -4 -8M690 686q1 -4 1 -8M600 749q-0 -3 -0 -7M660 676q2 -3 2 -6M651 754q-3 -2 -6 -4M1056 708q-3 -4 -5 -9M697 754q-3 -7 -2 -14M712 775q-5 -6 -7 -11M595 723q-4 -6 -4 -13M548 705q-3 -6 -5 -12M904 681q2 -3 -2 -6M1180 765q-3 -4 -2 -9M1078 721q-0 -7 2 -13M1057 731q0 -4 -4 -9M461 786q-4 -6 -2 -11M609 719q2 -3 -2 -6M877 680q-2 -3 1 -5M643 784q-1 -6 -1 -12M540 696q1 -5 -2 -9M924 746q-0 -6 1 -13M413 791q-0 -3 1 -6M620 769q-2 -4 0 -8M956 724q2 -5 -2 -10M418 736q-2 -3 -2 -6M802 703q4 -4 5 -8M723 710q1 -3 -3 -5M1038 741q-5 -4 -6 -9M611 728q0 -4 0 -8M651 682q2 -4 2 -8M476 705q-2 -2 -5 -5M578 679q-4 -4 -4 -8M1095 740q-4 -3 -5 -5M419 783q-3 -3 -2 -7M875 704q5 -5 6 -9M803 755q-3 -5 -3 -9M956 686q3 -3 -0 -7M733 782q-4 -4 -3 -8M1115 705q-1 -6 -1 -13M845 779q2 -5 -1 -11M367 784q-0 -4 -1 -8M878 674q0 -4 3 -7M956 733q3 -4 1 -9M787 697q3 -4 2 -7M935 729q-2 -6 1 -11M1168 751q-2 -5 -4 -9M1097 786q-3 -4 -3 -8M677 784q-1 -7 2 -14M374 770q-1 -5 -1 -10M1042 760q0 -4 2 -8M626 682q0 -3 1 -6M572 743q-4 -7 -3 -14M851 775q0 -6 4 -12M1012 732q-4 -5 -3 -11M970 688q3 -4 2 -8M1029 782q-3 -7 -2 -13M599 715q4 -4 4 -7M833 785q-2 -3 1 -6M631 708q-0 -4 -0 -8M601 780q-1 -7 3 -13M1168 786q2 -3 -0 -6M924 721q-1 -4 -2 -7M1097 701q1 -4 5 -8M484 722q-1 -4 1 -8M423 780q-2 -5 1 -10M717 734q1 -5 2 -11M993 710q1 -6 3 -12M933 742q1 -5 2 -11M575 693q3 -5 3 -10M553 715q-1 -6 1 -12M717 677q0 -3 1 -6M866 778q-1 -4 -3 -7M900 689q0 -3 -1 -7M757 727q-1 -3 -4 -6M1124 747q-3 -3 -4 -5M880 683q-2 -3 -0 -5M1042 717q-0 -4 -1 -9M557 702q-2 -4 -2 -8M475 719q-1 -4 0 -8M662 672q-2 -3 -3 -6M350 790q-2 -6 1 -13M1172 729q-0 -6 -5 -13M455 792q-1 -3 -1 -7M1128 784q-4 -6 -5 -11M956 753q-1 -5 1 -10M1021 686q-2 -4 -2 -7M1163 748q-3 -5 -2 -10M437 735q-2 -7 1 -14M860 791q-0 -4 -3 -7M954 738q1 -3 -2 -6M406 771q-1 -7 -0 -13M924 675q0 -3 -1 -6M782 729q-1 -3 -4 -5M335 791q-0 -7 1 -13M873 708q-3 -6 -2 -11M803 777q2 -4 1 -9M814 757q-1 -5 -1 -9M729 771q3 -3 5 -6M1024 743q1 -6 3 -11M686 680q-2 -3 -1 -5M400 757q-3 -4 -2 -9M1081 785q-3 -6 -1 -11M461 764q-5 -5 -6 -10M649 761q0 -7 -1 -13M721 768q1 -3 3 -7M808 741q3 -7 0 -13M558 693q2 -6 0 -11M1140 716q3 -5 -0 -9M488 774q-2 -4 -3 -7M1025 724q1 -7 1 -13M1078 711q5 -5 5 -11M1008 671q2 -2 3 -4M509 743q-2 -5 -3 -11M865 770q2 -4 0 -7M709 784q-0 -6 2 -12M966 779q1 -6 -3 -13M1170 772q1 -4 1 -8M520 728q-5 -6 -5 -12M1058 744q-0 -4 0 -9M450 745q1 -4 -3 -9M763 705q-0 -4 -6 -8M729 778q-1 -3 0 -7M619 721q1 -4 1 -7M806 778q-3 -5 -7 -11M763 783q-6 -4 -9 -8M712 711q2 -4 -0 -8M1088 783q-1 -5 -2 -10M750 749q-1 -3 3 -6M693 768q-5 -6 -4 -11M562 699q3 -3 3 -5M599 689q0 -3 0 -5M604 771q1 -3 1 -6M885 721q1 -3 -2 -6M1177 762q-3 -7 -1 -13M556 729q-0 -3 3 -6M350 777q1 -5 5 -9M848 782q-1 -4 -4 -9M471 765q0 -3 -4 -6M1196 765q-2 -7 1 -13M1032 679q-2 -4 0 -7M475 778q1 -4 1 -8M879 722q-0 -4 0 -7M894 697q-0 -6 -4 -12M838 692q4 -4 3 -8M948 764q-2 -5 -7 -10M1031 705q-2 -5 -5 -10M547 708q-0 -6 -5 -12M840 758q1 -6 -2 -11M440 730q1 -3 -2 -6M1071 712q1 -5 3 -9M1027 755q-4 -4 -5 -8M593 688q-3 -3 -2 -6M514 735q-0 -4 -2 -7M882 722q2 -4 -0 -8M435 747q-4 -6 -5 -11M898 674q-0 -4 0 -9M1043 678q-5 -3 -5 -6M1159 734q-5 -4 -4 -8M761 698q-6 -5 -7 -10M918 711q-1 -4 -6 -9M694 780q-5 -5 -4 -11M411 750q-0 -4 -2 -7M1164 781q-0 -3 4 -6M749 718q-0 -6 -6 -12M888 671q2 -3 -0 -5M657 777q2 -4 1 -7M392 771q1 -4 -0 -8M563 770q-2 -5 -5 -11M999 726q3 -6 1 -11M554 722q0 -7 2 -13M1123 721q-8 -4 -9 -7M842 731q-1 -7 -3 -13M1107 702q-2 -5 -0 -10M1232 772q-5 -5 -5 -11M940 675q-1 -4 -1 -8M671 711q-1 -5 -4 -10M385 752q-1 -3 -0 -6M935 754q3 -4 5 -9M1028 791q0 -7 2 -14M1002 687q-1 -4 -1 -7M1140 778q4 -4 2 -8M1025 738q-2 -6 -6 -12M1075 711q-0 -6 1 -11M1048 744q3 -3 1 -7M488 791q2 -5 2 -9M845 773q-1 -4 3 -9M951 767q2 -3 4 -7M765 751q-2 -6 3 -13M1026 750q-2 -3 -1 -6M658 719q1 -6 2 -11M1119 697q3 -6 4 -11M767 771q1 -5 -1 -10M914 753q-0 -6 -6 -12M623 695q1 -6 -3 -12M644 746q-2 -6 -0 -13M1053 784q1 -3 1 -6M668 713q-1 -4 -7 -8M885 773q1 -6 -2 -12M1067 676q-2 -3 1 -5M607 688q2 -3 0 -6M933 741q-0 -5 2 -10M780 753q-0 -6 -3 -12M780 769q-1 -5 -4 -10M882 743q1 -5 -4 -10M1061 759q0 -4 6 -8M878 782q2 -3 3 -7M1177 732q-2 -5 -3 -11M741 754q1 -4 -1 -8M772 754q1 -6 -3 -12M411 786q-3 -4 -4 -9M1152 774q-5 -4 -4 -9M603 781q1 -5 -0 -10M980 699q3 -6 1 -12M664 771q0 -4 1 -7M561 733q-3 -5 -5 -11M986 676q2 -3 2 -7M698 738q-3 -6 1 -11M976 724q-1 -7 -2 -14M620 685q-3 -3 -4 -6M477 759q-2 -3 -5 -7M961 732q4 -4 7 -9M870 674q1 -3 2 -6M384 775q-4 -5 -8 -10M852 710q-3 -7 -4 -13M525 747q2 -3 -0 -7M905 696q1 -5 3 -9M908 710q-3 -5 -0 -10M916 688q-0 -4 -2 -8M574 785q3 -5 -0 -10M461 745q-2 -6 0 -12M835 729q-2 -6 1 -13M779 721q2 -5 -2 -11M1006 694q-5 -6 -4 -12M693 767q1 -5 6 -10M1091 759q-5 -6 -4 -12M571 682q-4 -4 -3 -8M891 690q-1 -4 2 -8M1029 670q-1 -3 -5 -6M984 714q1 -5 -0 -10M990 707q-4 -4 -5 -8M464 726q-1 -3 1 -6M566 773q3 -2 6 -5M926 777q-1 -3 -3 -7M1107 769q1 -6 3 -13M1113 737q3 -5 1 -10M500 705q1 -6 -2 -13M893 735q1 -6 -0 -12M965 718q-2 -4 -3 -7M499 744q-2 -6 -5 -12M816 747q1 -3 -2 -6M1028 711q-0 -5 -2 -10M1084 688q1 -4 -0 -7M516 719q1 -4 -1 -7M994 736q2 -3 2 -7M515 774q2 -4 3 -8M947 717q2 -6 -1 -11M626 692q1 -4 1 -7M742 694q3 -4 2 -7M1103 742q-1 -4 -5 -8M1138 767q-5 -2 -5 -5M1153 738q0 -6 -2 -12M378 791q-1 -5 -4 -11M1090 671q0 -3 -2 -6M954 705q-4 -4 -4 -7M918 705q-7 -5 -8 -9M631 703q2 -5 3 -9M693 724q-1 -5 3 -10M823 687q-4 -3 -1 -6M620 725q0 -6 -5 -11M951 680q2 -3 2 -5M867 754q-0 -5 -1 -10M997 692q-2 -4 -7 -8M740 719q0 -4 -2 -8M552 722q-2 -3 -2 -6M550 778q2 -3 -0 -6M1038 691q-3 -6 -4 -12M432 726q4 -6 4 -11M1121 692q2 -6 4 -12M905 707q-2 -4 -2 -8M949 680q-5 -2 -5 -4M970 764q0 -3 -2 -6M1104 707q-6 -6 -7 -12M502 734q-8 -5 -10 -9M622 741q1 -4 -2 -9M406 755q-1 -5 -0 -11M1159 740q-2 -3 -5 -7M631 718q-1 -4 -6 -9M747 715q2 -5 3 -11M575 728q1 -3 -3 -7M671 710q-1 -3 0 -6M1147 727q1 -4 2 -7M988 679q-1 -3 0 -5M986 789q4 -3 1 -6M529 730q1 -6 -0 -12M426 754q-4 -4 -6 -9"/>
<path fill="none" stroke="#98c76d" stroke-width="1.1" stroke-linecap="round" d="M534 673q2 -3 -1 -6M1197 775q-1 -3 0 -7M590 755q2 -6 0 -12M966 708q-4 -4 -4 -7M632 775q-4 -7 -4 -13M807 751q-3 -4 -2 -8M1090 739q-1 -3 -2 -6M1016 729q1 -6 -0 -12M955 736q2 -5 0 -9M870 698q-3 -6 -0 -12M1193 752q-1 -3 -3 -7M1163 768q0 -4 4 -9M749 714q-1 -5 -3 -10M898 712q-3 -5 -2 -10M905 720q-4 -4 -3 -7M737 718q1 -3 -3 -6M561 690q2 -4 -1 -7M1105 772q-0 -7 5 -13M579 790q-3 -7 -0 -14M603 710q-1 -6 -1 -13M617 690q-0 -6 -3 -13M599 752q2 -3 3 -7M566 713q-3 -4 -2 -8M471 774q3 -4 3 -9M1162 781q-1 -4 -3 -9M599 693q-1 -4 -3 -7M1092 757q2 -3 1 -6M604 765q3 -4 1 -9M1158 786q1 -5 0 -10M1107 768q-5 -5 -6 -9M555 757q2 -6 0 -13M985 685q-0 -4 3 -7M836 717q-2 -5 2 -11M772 716q2 -3 4 -6M538 712q0 -5 6 -11M1001 686q-4 -2 -2 -5M884 710q2 -4 -1 -8M529 741q1 -3 5 -6M1040 698q-1 -7 4 -13M849 729q2 -3 0 -6M604 760q-3 -6 -4 -11M640 703q2 -4 -1 -8M1006 763q-3 -4 -8 -7M918 765q3 -6 3 -13M842 719q1 -4 -2 -9M895 735q-4 -6 -6 -12M818 766q-0 -4 5 -8M411 788q-4 -5 -5 -10M716 710q-0 -3 -2 -7M486 787q1 -5 -2 -11M568 715q-2 -5 -2 -11M1007 742q-3 -4 -10 -9M542 727q-4 -5 -4 -10M1060 679q-1 -3 2 -6M848 686q-3 -4 -5 -8M715 774q-3 -4 -3 -7M1041 763q-1 -5 -5 -10M849 792q5 -4 10 -7M1120 709q-1 -4 -3 -7M507 755q-6 -3 -6 -5M628 749q-1 -6 2 -11M637 778q2 -3 0 -7M766 685q1 -4 2 -8M1131 762q-1 -5 0 -9M556 724q4 -6 3 -13M982 788q-2 -5 1 -10M1239 783q1 -3 2 -7M791 743q1 -5 4 -9M521 778q-4 -5 -5 -11M1041 740q3 -5 1 -10M1021 703q-0 -6 -4 -11M541 739q-1 -5 3 -10M797 680q2 -4 -0 -7M1118 755q0 -5 -4 -9M754 672q2 -2 2 -5M411 773q-2 -4 -4 -9M537 676q-3 -2 -2 -5M1007 787q0 -6 -1 -13M1090 767q-0 -6 -4 -12M996 724q-1 -3 -5 -6M934 792q1 -5 -4 -11M777 780q3 -4 8 -8M644 680q-2 -4 -3 -8M466 740q1 -4 5 -7M1033 704q-3 -6 -6 -12M712 689q1 -3 -0 -6M538 682q-5 -2 -4 -5M388 789q0 -5 1 -9M444 727q-0 -4 -0 -7M500 723q2 -4 -0 -8M728 754q-3 -3 -7 -7M681 676q-1 -3 -1 -6M679 757q1 -6 4 -11M1072 775q0 -5 3 -11M707 745q1 -7 -1 -13M462 731q-1 -6 0 -12M870 742q1 -3 2 -6M651 743q-5 -4 -5 -8M688 712q2 -4 -1 -8M749 685q-5 -2 -4 -5M961 770q4 -5 5 -11M739 681q-3 -3 -6 -6M949 696q2 -4 -1 -7M906 778q-2 -6 1 -13M876 750q-4 -6 -5 -13M1169 761q-2 -4 1 -8M544 734q3 -4 1 -8M473 710q6 -4 6 -8M1129 734q-1 -4 0 -7M575 790q-2 -3 -4 -6M861 788q-1 -3 2 -7M652 756q1 -4 3 -8M760 775q2 -4 1 -7M867 775q1 -4 -0 -9M575 674q-2 -2 -4 -3M617 757q2 -6 0 -12M629 750q-4 -3 -3 -6M714 760q-1 -6 4 -12M648 671q-1 -3 -1 -6M579 676q-3 -4 -0 -7M953 719q0 -6 0 -12M759 745q2 -7 -2 -13M1019 769q-3 -3 -4 -5M1042 765q1 -4 -3 -8M623 714q3 -3 2 -7M868 727q1 -3 -3 -6M611 757q-0 -5 2 -10M607 741q2 -4 2 -8M534 701q-1 -7 1 -13M943 686q-2 -3 -1 -7M1092 745q-3 -5 -1 -9M1243 785q-0 -6 1 -12M490 727q-2 -5 -2 -10M615 727q-3 -7 -2 -13M603 684q2 -4 -2 -8M657 685q3 -3 1 -6M925 778q1 -7 -1 -14M587 686q-3 -4 -4 -7M604 717q3 -3 4 -6M689 746q2 -4 1 -7M829 726q-0 -6 -6 -12M854 742q-1 -6 2 -12M852 714q0 -4 -1 -8M415 784q1 -4 -1 -8M1162 740q-1 -5 1 -10M1014 694q-4 -4 -4 -7M1067 674q-1 -3 1 -6M690 723q2 -4 -0 -8M1093 752q-2 -4 -4 -8M1081 696q-0 -6 4 -13M876 736q4 -6 5 -12M784 709q-2 -5 -4 -9M904 701q-0 -6 -2 -11M1014 723q-0 -3 -3 -7M1118 731q-3 -3 -4 -7M511 720q-0 -7 5 -13M804 697q-1 -5 3 -10M545 703q-2 -4 1 -9M664 718q0 -5 2 -11M1162 750q-1 -6 -6 -11M1191 774q-2 -6 3 -12M754 764q-2 -5 -9 -9M840 679q-0 -4 3 -8M867 788q2 -6 4 -11M1139 744q-1 -5 0 -10M816 693q-3 -7 -1 -14M941 753q-0 -6 -5 -11M1247 786q1 -5 2 -10M870 673q3 -3 2 -5M479 740q2 -5 3 -10M1174 787q1 -6 1 -12M542 737q-4 -3 -4 -7M818 731q0 -5 -2 -10M1037 750q-4 -6 -4 -12M884 736q-4 -7 -3 -13M870 700q-2 -6 -1 -13M415 784q-0 -5 -5 -9M1212 792q3 -4 8 -8M752 780q-3 -4 -2 -9M776 745q1 -5 -0 -10M867 682q1 -4 -4 -8M469 743q-4 -5 -2 -10M1060 756q-1 -6 -6 -11M427 766q1 -4 -2 -8M1080 751q-0 -7 -3 -13M708 715q-1 -6 -4 -11M799 767q2 -5 2 -9M863 791q-0 -4 1 -8M961 697q-5 -6 -5 -12M730 671q-2 -4 1 -9M914 787q-1 -4 3 -9M632 721q-1 -3 -8 -7M1056 728q-1 -4 1 -8M872 696q-3 -3 -1 -6M570 695q-1 -3 -0 -7M1059 760q-4 -6 -6 -11M570 708q-1 -6 2 -12M915 737q-3 -6 -3 -11M536 714q2 -4 -0 -8M1049 726q-0 -6 -4 -11M832 774q-3 -7 -4 -13M949 724q-3 -4 -1 -7M722 746q-1 -4 -0 -9M1035 745q-1 -4 -2 -9M823 679q1 -3 2 -5M737 709q-3 -5 -8 -11M1140 756q-2 -4 -2 -9M831 726q-2 -3 -1 -6M502 761q-3 -3 -1 -7M1117 698q0 -3 -2 -7M529 734q4 -4 7 -9M850 773q1 -4 -1 -8M883 768q2 -4 -1 -7M368 771q2 -5 5 -11M480 787q-0 -4 1 -8M935 701q-5 -5 -5 -10M1050 735q2 -4 1 -9M1075 728q-1 -3 -1 -7M580 725q-2 -4 -4 -8M1071 745q-1 -6 -2 -12M772 775q0 -3 -1 -6M1121 702q-3 -6 -4 -12M523 684q-2 -3 0 -6M870 789q1 -4 -1 -7M1052 763q-3 -4 -0 -7M715 678q-2 -4 2 -8M866 676q-1 -3 1 -6M698 786q0 -4 -6 -7M1135 743q-1 -3 -3 -6M479 778q-1 -5 -4 -10M883 746q-0 -4 5 -9M624 743q-1 -5 -2 -10M532 706q1 -4 2 -9M911 736q2 -3 -2 -6M1040 736q-4 -3 -5 -6M700 693q-2 -6 -0 -12M1089 704q0 -6 -0 -13M502 745q3 -7 2 -13M433 765q-2 -4 2 -7M689 771q-2 -6 -0 -11M462 776q2 -4 1 -9M1166 755q1 -3 1 -7M998 745q-4 -5 -5 -9M972 716q6 -4 11 -8M799 760q-1 -3 -1 -7M522 752q2 -3 -1 -6M459 784q4 -4 10 -8M878 763q-3 -4 -1 -8M416 739q-1 -5 1 -10M903 745q4 -4 2 -8M447 721q4 -4 2 -8M711 698q-1 -5 3 -10M1037 672q-2 -2 1 -5M1216 780q-4 -4 -3 -8M1066 744q-1 -4 0 -8M737 730q-2 -3 -2 -6M1017 770q1 -5 1 -10M624 719q-5 -5 -5 -10M543 739q-6 -5 -6 -10M758 722q-0 -4 -4 -7M1070 743q-1 -3 -0 -6M1070 745q-3 -5 -5 -10M510 754q-3 -6 -5 -13M811 751q-3 -4 -4 -7M773 693q-3 -3 -1 -7M396 757q-4 -5 -9 -9M663 737q0 -5 -3 -11M1014 672q0 -4 -2 -8M742 738q-1 -4 -6 -9M1157 762q1 -5 1 -9M461 715q0 -3 2 -6M796 675q-3 -3 -2 -6M668 787q-2 -4 -1 -9M891 789q-6 -5 -6 -9M617 757q-1 -5 -7 -10M1104 775q2 -5 -1 -9M852 749q1 -5 -2 -10M1090 686q-5 -2 -4 -4M1053 740q-0 -5 2 -11M915 712q1 -4 6 -9M1049 741q-1 -5 -2 -10M438 743q-5 -4 -6 -8M714 743q2 -3 1 -6M734 773q3 -4 2 -9M551 772q2 -5 -1 -9M759 785q0 -4 -1 -8M685 727q-0 -6 1 -13M1142 721q-1 -4 0 -8M568 706q1 -4 2 -8M556 685q3 -4 -0 -8M1122 688q2 -3 1 -7M496 732q-1 -3 -0 -7M600 684q2 -2 1 -5M907 779q-1 -4 -4 -8M876 775q0 -5 1 -11M530 763q1 -7 -2 -13M943 729q-2 -6 1 -13M1056 792q-1 -3 -1 -7M1196 766q1 -5 -0 -10M1125 690q-0 -3 -2 -5M712 721q2 -5 3 -10M642 678q0 -3 -1 -6M734 674q0 -4 1 -9M683 670q2 -4 -2 -9M524 725q-3 -6 0 -13M702 761q-1 -6 -0 -12M1093 703q-0 -6 -2 -11M945 724q-1 -4 -2 -8M666 706q-4 -6 -4 -11M797 758q2 -4 6 -8M748 769q-0 -5 -0 -10M869 778q-3 -5 -1 -10M454 768q-1 -5 1 -10M1080 764q1 -6 5 -13M609 751q2 -6 -2 -11M612 733q3 -3 4 -7M753 704q-3 -7 -3 -13M603 756q-6 -5 -7 -10M889 776q-2 -4 -2 -9M532 706q-1 -5 -1 -11M1085 743q2 -4 2 -7M869 750q-1 -3 -0 -6M877 792q5 -3 4 -5M894 741q3 -4 1 -8M770 751q-4 -5 -6 -10M558 764q-5 -3 -4 -7M926 723q1 -5 2 -10M1160 737q-2 -6 -0 -13M1098 701q2 -6 3 -11M1239 791q1 -7 1 -13M898 778q-5 -4 -7 -8M589 710q0 -4 3 -8M1008 694q1 -5 -2 -9M698 702q1 -6 -2 -12M1000 768q-1 -4 2 -8M994 731q1 -6 4 -13M545 783q2 -6 -2 -13M517 748q-3 -4 -1 -8M836 709q2 -5 -1 -9M843 754q-2 -4 1 -7M489 700q3 -6 1 -12M546 696q-3 -3 1 -6M899 763q-3 -5 -6 -9M1045 789q-1 -6 -0 -12M1081 730q-1 -7 -2 -13M1014 689q2 -3 1 -7M562 779q2 -5 -1 -11M986 674q4 -4 2 -8M898 761q0 -7 -3 -14M1070 768q-3 -5 -6 -9M484 771q3 -6 1 -12M886 780q-0 -6 2 -11M749 708q1 -3 -3 -7M612 738q2 -5 -1 -9M625 757q-3 -3 -2 -6M431 781q0 -3 -4 -7M370 769q-0 -4 3 -8M802 727q-4 -5 -3 -9M963 726q-3 -7 0 -13M546 755q-3 -5 -2 -9M612 733q-2 -6 -3 -11M856 754q2 -3 4 -6M1150 752q-2 -6 -3 -11M640 693q-3 -7 -3 -14M957 688q-2 -3 -3 -5M1099 717q2 -6 3 -12M1135 728q-0 -4 1 -8M627 676q-4 -4 -4 -7M720 768q-1 -6 -8 -11M1050 786q2 -4 4 -8M517 740q-1 -6 -4 -12M562 742q-3 -5 -2 -10M1129 706q0 -7 -2 -14M1002 730q0 -6 2 -13M1174 740q-1 -6 -2 -12M978 723q1 -3 -1 -6M527 697q2 -4 -1 -7M783 763q-0 -5 -4 -10M699 753q-3 -3 -2 -6M991 779q1 -4 4 -8M1070 687q-0 -2 -3 -4M888 671q-3 -3 -3 -7M752 691q-0 -5 1 -10M457 789q-1 -3 -5 -7M482 754q-2 -5 -2 -11M1164 772q-2 -5 0 -10M905 677q1 -3 0 -6M831 764q-2 -5 -3 -10M914 678q0 -2 -0 -5M1221 789q-0 -6 -4 -12M796 689q-2 -3 -1 -6M616 690q-0 -5 1 -10M1161 776q-0 -4 -1 -8M484 767q-0 -5 -2 -10M522 782q-1 -7 -1 -13M385 785q-5 -3 -4 -5M741 698q-2 -5 1 -10M713 753q3 -4 5 -9M867 762q3 -6 2 -12M1118 724q-0 -4 2 -8M1196 789q7 -5 9 -10M740 772q1 -6 -1 -13M781 768q1 -6 -4 -12M1062 784q-2 -5 -3 -10M1045 755q-1 -4 2 -9M563 780q-1 -6 -5 -12M879 703q-2 -7 -0 -14"/>
<path fill="none" stroke="#5f9a3c" stroke-width="0.8" stroke-linecap="round" d="M894 716q-2 -5 -4 -10M492 742q-3 -5 -3 -11M758 783q3 -6 5 -12M837 731q-1 -4 -0 -7M438 790q-2 -3 -4 -6M1157 789q0 -6 -4 -12M947 765q-2 -6 -1 -11M644 777q2 -6 -1 -12M1116 718q1 -3 0 -7M401 791q1 -7 2 -13M735 681q2 -4 1 -7M662 705q2 -5 6 -10M418 776q-1 -3 -3 -6M982 729q1 -7 1 -13M865 718q1 -4 -0 -7M826 707q2 -4 -1 -8M478 786q-1 -5 -2 -9M654 787q-4 -5 -4 -10M929 769q-1 -3 -0 -7M614 718q-3 -6 -6 -11M783 768q-3 -5 -4 -11M896 773q-0 -6 2 -11M1050 693q0 -5 0 -10M913 741q-0 -4 -2 -8M715 757q0 -3 -3 -6M509 749q3 -7 2 -13M823 772q0 -3 -3 -6M865 775q1 -3 2 -7M843 766q2 -4 2 -9M641 740q-1 -5 -4 -10M1021 762q-2 -5 0 -9M1043 705q2 -3 4 -5M997 715q-4 -7 -3 -13M754 698q-0 -6 4 -13M865 741q-3 -7 -1 -14M944 752q-0 -4 0 -8M800 776q-3 -4 -4 -8M578 763q1 -4 -0 -7M540 671q1 -3 1 -5M456 771q2 -6 3 -13M511 771q1 -6 -1 -13M517 692q1 -4 -1 -9M895 677q-3 -3 -2 -6M1098 770q-0 -5 -2 -10M1080 706q-1 -5 -4 -10M613 699q1 -4 -2 -8M663 675q0 -4 1 -8M506 715q-1 -5 -6 -10M493 731q3 -5 1 -10M950 674q-3 -4 -3 -8M1125 693q2 -6 3 -12M694 755q0 -6 1 -11M461 792q-2 -6 -1 -11M524 748q-0 -6 -3 -13M641 772q-2 -6 -3 -12M441 766q1 -5 -3 -11M765 746q-2 -4 1 -8M491 776q1 -6 -0 -11M1048 763q1 -4 2 -8M485 787q-5 -2 -6 -4M1094 759q-1 -7 -2 -13M594 734q-6 -5 -8 -10M676 729q1 -4 -3 -8M984 707q3 -4 2 -7M770 781q-3 -3 -1 -6M520 731q-3 -5 -5 -11M969 718q2 -5 2 -10M454 725q1 -3 -2 -7M473 706q3 -7 1 -14M551 771q-1 -4 -4 -9M1100 761q-4 -6 -5 -12M983 757q-3 -6 -1 -12M1005 729q-1 -5 3 -9M823 705q-3 -3 -0 -6M987 787q1 -6 -2 -11M907 775q-4 -3 -3 -6M596 723q0 -5 -2 -10M871 767q-3 -5 -6 -10M692 708q1 -5 -2 -9M957 739q-3 -6 -2 -11M1077 677q1 -4 3 -8M782 745q-3 -4 -1 -7M974 688q-1 -3 2 -6M613 760q-0 -6 -2 -12M906 716q2 -4 -1 -9M942 782q1 -5 1 -9M645 741q2 -5 2 -10M587 783q-0 -6 -1 -12M679 790q0 -5 5 -10M696 770q-4 -4 -8 -9M721 688q-2 -4 -4 -8M616 680q0 -3 -2 -5M802 783q-4 -6 -3 -12M1089 754q-1 -5 -6 -10M572 784q-2 -4 -8 -8M1136 746q-5 -3 -6 -5M465 760q-1 -7 1 -13M1110 735q2 -3 -1 -6M651 704q-0 -5 -3 -10M1051 721q-0 -3 -2 -6M735 734q3 -6 -0 -12M435 733q-0 -3 -1 -7M533 761q3 -7 0 -13M653 750q-1 -4 -2 -8M1093 789q0 -4 3 -7M1201 752q-4 -5 -6 -9M1027 733q-5 -5 -7 -10M682 765q-4 -4 -4 -8M594 689q-3 -3 -3 -6M790 727q-3 -6 -1 -13M1019 743q-3 -4 -6 -8M1062 714q2 -4 1 -9M563 732q1 -5 2 -11M516 755q1 -5 5 -10M587 710q1 -3 0 -7M1185 757q-1 -5 -0 -11M1037 769q2 -4 0 -7M428 757q-1 -3 -2 -7M943 717q-1 -2 -6 -5M1035 785q-0 -3 -4 -6M889 767q-1 -7 -2 -13M637 745q2 -6 1 -12M798 766q1 -4 -1 -8M1184 761q-2 -5 1 -11M977 783q-1 -4 -3 -9M956 784q2 -5 -2 -9M753 686q-4 -3 -6 -5M1101 775q1 -4 -3 -8M864 739q1 -6 5 -12M1211 761q4 -4 7 -9M932 682q-1 -3 -1 -7M869 751q-0 -5 2 -9M810 775q0 -3 1 -7M415 735q1 -3 3 -7M1139 789q2 -4 -1 -9M583 782q-3 -4 -2 -8M558 718q-4 -6 -3 -11M614 731q1 -3 2 -6M982 771q-2 -4 -5 -7M516 726q-5 -6 -4 -11M844 700q3 -3 3 -6M665 681q0 -3 2 -6M678 735q-2 -5 -8 -10M801 766q-2 -4 -4 -7M1021 733q-3 -5 -3 -11M885 778q1 -3 -1 -7M1007 725q-1 -4 -6 -7M1117 742q4 -7 3 -13M1072 711q-0 -5 -4 -9M1075 671q-1 -3 1 -5M440 730q1 -5 3 -10M1127 748q4 -6 4 -13M1118 697q1 -4 -0 -8M730 710q2 -4 0 -7M685 750q-1 -4 2 -8M972 789q-0 -3 -3 -6M964 713q1 -4 1 -8M516 759q0 -6 -4 -13M505 703q-2 -6 -4 -12M1041 680q-3 -3 -1 -5M436 754q3 -5 1 -10M527 756q1 -3 5 -6M556 773q-3 -4 0 -7M456 712q2 -3 -0 -6M717 681q1 -4 1 -9M881 781q-3 -6 -6 -13M1007 781q-2 -2 -6 -4M870 723q-2 -5 -3 -10M631 741q1 -7 -1 -14M654 678q-1 -1 -5 -2M692 682q1 -3 -0 -6M981 770q-0 -7 1 -13M724 680q-3 -2 -3 -4M977 715q2 -6 3 -12M648 742q1 -4 -2 -8M996 759q-6 -4 -7 -9M1079 780q2 -4 -1 -9M941 781q2 -6 0 -11M974 696q2 -4 -1 -8M958 739q-1 -6 -0 -12M549 747q-4 -6 -6 -12M469 757q3 -5 1 -10M565 773q-1 -5 -3 -11M996 769q3 -6 1 -12M531 697q-4 -2 -8 -5M1059 768q-3 -6 -1 -13M831 702q3 -5 7 -9M568 791q0 -4 -4 -8M539 686q-4 -2 -5 -3M925 725q-2 -6 1 -12M943 737q-1 -3 1 -7M838 776q-6 -2 -9 -4M874 734q-0 -5 -4 -11M553 737q-7 -5 -9 -11M616 729q-1 -3 1 -7M423 731q-4 -5 -4 -9M567 780q-4 -3 -3 -6M1040 726q-1 -5 -4 -10M545 729q-2 -4 -2 -7M1165 747q-1 -4 -0 -8M990 752q2 -4 2 -7M711 736q-2 -3 -2 -6M795 686q1 -4 2 -9M740 750q1 -7 -4 -13M544 683q0 -2 -3 -4M981 700q4 -3 3 -6M990 710q-4 -3 -4 -6M1080 671q-0 -3 -2 -6M568 749q-0 -5 -3 -10M730 686q-1 -3 2 -6M483 754q-1 -6 -1 -12M862 760q-3 -6 -3 -12M1043 791q-3 -6 -1 -12M764 680q0 -4 2 -7M504 722q-2 -6 2 -12M844 718q-0 -6 3 -11M960 752q-0 -4 -3 -8M909 715q-4 -6 -2 -12M946 774q1 -4 6 -7M553 785q-1 -5 1 -10M1184 768q-1 -6 -2 -11M903 728q-0 -7 -2 -14M709 700q-5 -4 -8 -8M590 737q-4 -5 -4 -10M633 704q-3 -7 -3 -13M946 729q-1 -6 -7 -11M706 737q1 -5 -4 -11M1111 694q-0 -5 -0 -10M906 672q3 -3 5 -7M972 782q-0 -3 2 -7M871 731q3 -6 1 -11M866 702q4 -5 4 -10M781 774q2 -7 -0 -13M791 705q0 -5 -3 -9M1108 710q2 -7 2 -14M824 673q-4 -4 -2 -9M1132 741q1 -5 -3 -10M940 695q-2 -5 -5 -10M694 727q-2 -5 -7 -10M903 695q1 -6 -2 -12M560 678q1 -3 -2 -6M622 731q-4 -5 -6 -10M684 757q2 -6 -1 -13M860 778q-2 -4 -2 -9M585 674q-4 -2 -4 -5M842 690q0 -3 3 -6M1125 776q0 -6 -4 -13M1102 762q-2 -3 -2 -6M808 770q4 -4 5 -8M1133 727q-3 -4 -3 -8M883 679q-2 -2 -4 -4M1061 749q1 -4 -0 -8M474 725q-0 -6 -4 -12M873 761q0 -4 -1 -8M636 748q1 -4 4 -8M543 767q3 -4 2 -8M500 702q5 -5 5 -10M850 725q-4 -6 -3 -11M1124 703q-0 -6 -5 -11M1198 757q5 -6 6 -12M579 767q-2 -4 -1 -7M1042 706q-0 -5 1 -10M1096 678q3 -4 2 -7M751 732q-0 -3 2 -6M408 783q-0 -3 -1 -7M769 692q1 -6 -1 -12M592 728q-6 -5 -9 -10M364 778q2 -5 2 -9M1115 694q4 -4 2 -8M600 791q-0 -5 -4 -9M1181 758q-4 -4 -6 -7M567 704q-4 -4 -2 -7M1235 792q3 -5 -1 -10M633 745q3 -4 0 -7M1026 712q-1 -3 -1 -7M625 730q3 -5 1 -11M849 789q5 -6 4 -12M973 762q1 -3 -1 -6M933 687q1 -2 6 -5M714 751q-5 -4 -5 -7M596 785q2 -6 0 -12M913 717q-4 -5 -2 -10M621 789q-3 -6 -2 -12M583 732q-1 -6 -5 -12M602 776q-2 -4 -1 -9M604 714q3 -6 3 -13M595 708q4 -6 4 -12M817 760q-1 -7 -2 -13M843 756q-1 -5 -4 -11M1082 673q-2 -3 1 -6M1075 743q-4 -3 -3 -6M983 753q0 -3 -0 -6M708 739q-3 -5 -5 -9M478 783q0 -6 4 -13M438 785q2 -3 -2 -6M744 767q1 -4 2 -8M661 734q1 -4 6 -9M995 789q0 -5 -4 -9M1010 750q-1 -3 0 -6M998 743q2 -3 1 -7M822 712q-2 -3 -3 -6M592 687q-3 -3 -1 -6M976 729q-3 -5 -1 -9M580 724q-3 -4 -3 -7M1098 753q-2 -4 1 -8M895 680q-1 -3 -0 -6M573 786q-4 -2 -8 -4M1119 726q-2 -4 -1 -9M713 700q-1 -5 0 -9M784 759q-2 -6 -3 -12M1006 736q-1 -3 -0 -6M750 711q0 -6 -4 -12M877 678q-3 -2 -3 -5M598 741q1 -4 -0 -8M1136 766q3 -5 1 -10M970 672q3 -3 1 -6M549 720q-4 -5 -2 -10M942 766q-0 -6 3 -12M405 766q1 -4 -1 -7M431 770q1 -4 -2 -8M793 777q1 -5 4 -11M981 725q-0 -6 -6 -12M766 670q-2 -3 -6 -6M922 749q-2 -5 -3 -9M1158 768q-1 -6 4 -12M961 677q2 -4 1 -7M486 756q4 -6 3 -12M520 692q-2 -6 1 -13M576 700q-5 -6 -6 -11M794 730q-0 -7 -1 -14M494 772q-1 -4 1 -7M406 764q-1 -5 -4 -9M548 758q-0 -5 -1 -10M926 711q-1 -4 -4 -9M692 751q-2 -5 1 -9M560 776q1 -7 1 -14M974 679q-3 -3 -3 -6M717 692q3 -3 2 -7M435 758q5 -6 5 -11M467 758q-2 -7 -1 -14M646 711q2 -6 -2 -12M1194 780q-1 -7 -3 -13M1054 727q0 -6 -4 -13M1016 750q3 -6 5 -13M446 773q2 -6 4 -12M525 716q-1 -3 -2 -6M1090 754q2 -5 1 -10M766 687q-1 -4 3 -7M403 791q1 -3 2 -7M1104 742q-2 -3 -1 -6M819 763q-1 -4 -6 -8M782 750q-3 -4 -1 -9M1051 765q-1 -6 -0 -11M394 747q2 -5 -1 -11M1180 788q4 -7 3 -13M645 680q-2 -3 0 -6M833 784q-3 -6 -5 -12M961 750q-0 -4 -1 -8M551 769q2 -6 4 -12M542 768q-5 -4 -4 -8M672 727q-3 -5 -2 -9M585 702q1 -6 -3 -11M358 790q-0 -6 3 -12M484 729q-0 -5 -5 -10M755 696q5 -5 7 -9M368 763q0 -6 -4 -12M1093 743q-2 -5 -2 -11M851 743q-2 -6 -3 -13M477 779q-1 -6 -3 -12M576 713q-0 -4 -4 -9M781 732q-1 -4 -2 -7"/>
<path fill="none" stroke="#7bb352" stroke-width="0.8" stroke-linecap="round" d="M736 725q1 -7 1 -14M897 729q-1 -3 -5 -5M433 750q2 -7 2 -13M641 741q1 -4 -0 -8M841 761q1 -3 -3 -6M555 682q1 -4 1 -8M1082 682q-1 -3 -6 -6M756 778q-1 -5 -2 -10M1185 775q-1 -6 -5 -12M540 710q-0 -7 1 -13M850 716q4 -6 7 -11M915 698q1 -5 5 -10M937 788q1 -2 5 -4M377 763q-1 -4 0 -8M390 751q-1 -6 -4 -13M1069 756q1 -3 -4 -7M1088 732q-1 -3 1 -7M1017 741q1 -3 -3 -7M508 735q3 -7 3 -13M986 748q-4 -6 -6 -12M828 713q5 -6 5 -12M426 791q-5 -4 -5 -8M1051 789q-1 -5 -2 -10M515 781q0 -4 -4 -7M579 789q2 -3 1 -6M716 765q0 -6 0 -12M585 766q4 -4 1 -9M945 752q3 -4 -0 -7M711 729q1 -6 3 -11M534 732q3 -3 3 -6M1088 684q1 -3 -0 -5M657 781q-2 -4 -4 -7M685 721q1 -6 -1 -11M662 736q1 -5 3 -10M741 701q-2 -6 -4 -12M479 790q-2 -6 -7 -12M1044 754q-1 -4 -2 -8M472 781q4 -6 2 -12M718 716q-3 -5 -5 -9M1115 760q-1 -5 0 -9M1031 737q-2 -3 -7 -7M1050 736q-1 -5 1 -11M814 715q-4 -3 -8 -5M482 744q2 -6 -0 -13M801 680q-4 -3 -2 -6M913 752q-1 -4 -3 -8M574 757q-2 -6 -0 -12M843 709q3 -5 2 -9M939 717q-5 -5 -4 -9M828 759q-6 -5 -8 -10M874 680q3 -3 2 -7M609 727q0 -4 -3 -8M719 739q-2 -5 -3 -9M681 716q3 -6 4 -12M1148 736q3 -3 2 -6M917 738q-2 -6 2 -12M512 712q-0 -4 2 -8M1052 690q-2 -3 -0 -6M1130 703q2 -6 2 -12M774 721q-5 -6 -3 -11M532 715q-1 -4 0 -8M1024 720q1 -6 1 -13M578 691q3 -4 6 -8M773 749q-2 -6 -6 -12M592 675q1 -4 3 -8M561 743q-5 -4 -5 -8M1085 686q-3 -3 -2 -6M735 717q3 -3 0 -6M936 683q-0 -3 -1 -6M579 753q0 -4 -4 -9M544 759q-4 -6 -5 -13M501 741q-2 -6 -0 -12M1178 757q0 -4 -1 -9M880 747q-0 -6 -2 -12M555 761q2 -6 -1 -12M1058 754q-5 -4 -4 -7M852 673q0 -4 1 -8M818 690q2 -6 5 -12M1009 723q-4 -4 -5 -9M526 778q1 -6 -1 -12M547 735q1 -7 -0 -13M361 791q-3 -7 -1 -13M542 679q-3 -4 -2 -8M992 734q-2 -5 -7 -9M1102 696q2 -3 0 -7M596 788q0 -3 -3 -6M1023 706q-2 -4 -10 -8M876 723q3 -5 2 -10M1095 684q-1 -3 2 -5M1114 693q1 -6 1 -12M932 697q-5 -3 -4 -6M607 696q-1 -6 -3 -11M663 783q-3 -3 -0 -7M1108 683q0 -3 -2 -6M1005 721q4 -3 2 -7M660 704q2 -5 1 -9M1053 721q-3 -4 -2 -8M870 672q3 -4 3 -7M818 763q-5 -3 -4 -6M392 754q0 -3 3 -6M519 739q-2 -4 -1 -9M655 684q-2 -4 -2 -7M1080 731q-4 -4 -11 -9M480 723q1 -6 -2 -13M1015 784q-2 -6 -5 -11M915 719q1 -3 -1 -6M506 700q-2 -5 -2 -9M725 757q-1 -6 -2 -12M742 701q-2 -6 -1 -12M1024 711q-1 -6 -3 -12M1074 683q2 -4 2 -9M636 769q-6 -6 -6 -12M471 757q-3 -5 -3 -9M593 735q1 -4 2 -8M686 749q-3 -6 -7 -12M898 759q0 -7 2 -13M868 748q1 -3 -1 -6M1038 757q0 -4 -1 -8M1153 790q-2 -3 -4 -7M1028 700q1 -5 -2 -11M1152 787q0 -4 -1 -7M513 748q3 -3 2 -6M507 748q-2 -5 1 -9M780 780q-1 -4 -6 -8M666 709q-0 -4 -3 -9M594 681q1 -3 -3 -7M548 691q-0 -3 -1 -6M1080 682q-0 -2 -3 -5M903 692q-4 -4 -3 -8M1081 737q-0 -5 1 -11M499 764q-3 -5 -5 -10M880 714q-2 -7 -0 -13M836 782q-1 -6 -2 -12M947 725q4 -4 4 -9M567 783q2 -7 1 -13M521 718q1 -4 2 -9M795 782q-3 -6 -3 -11M568 786q1 -4 3 -8M1103 684q-0 -3 -2 -6M574 781q-2 -4 0 -8M813 672q-3 -4 -0 -7M440 775q-4 -6 -4 -12M868 720q-0 -6 2 -12M1148 783q0 -4 -3 -9M406 784q-5 -4 -4 -7M545 765q1 -6 -2 -12M978 777q-1 -5 -2 -10M1042 754q3 -5 1 -11M949 757q-1 -6 1 -13M887 724q-1 -4 -0 -8M896 761q-2 -7 -1 -13M855 689q2 -4 3 -7M547 737q-3 -4 -3 -8M493 766q-4 -5 -4 -11M537 734q3 -4 1 -9M1109 688q0 -3 -0 -6M924 729q1 -6 1 -12M509 698q3 -7 3 -13M707 687q-0 -2 -3 -5M1032 692q-3 -3 -2 -6M1213 775q-1 -5 -0 -11M974 792q-1 -4 -1 -9M768 732q2 -6 4 -12M754 707q-1 -3 2 -6M1055 771q0 -5 -1 -9M746 740q-2 -5 -2 -9M1010 682q-2 -3 -1 -6M720 755q-0 -3 -2 -6M1162 773q-3 -3 -2 -6M572 780q-4 -6 -5 -12M929 696q-4 -6 -3 -11M829 719q-1 -4 -1 -8M1094 716q3 -5 9 -11M449 768q-1 -5 -5 -11M519 705q0 -2 5 -5M557 703q-4 -4 -5 -9M997 752q3 -6 3 -11M1020 781q-3 -6 -4 -11M946 750q2 -3 1 -6M673 727q0 -5 -4 -10M550 674q2 -3 -2 -6M554 761q2 -4 1 -7M540 696q-0 -5 -6 -10M991 691q1 -4 3 -8M976 753q3 -4 1 -8M842 686q2 -4 2 -7M994 689q-2 -3 -3 -6M857 783q-5 -6 -4 -12M899 709q1 -3 -1 -7M1037 784q-1 -4 -7 -8M1033 745q4 -6 6 -12M495 738q-1 -3 -1 -6M588 727q-1 -3 1 -6M857 688q-1 -3 -1 -7M1093 696q2 -5 1 -10M1039 766q-5 -7 -5 -13M1092 727q-0 -4 -2 -7M575 711q-3 -5 -4 -11M622 722q1 -4 -2 -7M1022 753q-0 -6 2 -12M1012 681q-3 -4 -1 -7M525 702q-4 -5 -2 -9M857 721q-3 -4 -5 -9M966 705q5 -6 5 -11M899 769q-2 -6 -1 -12M516 719q-1 -6 -2 -13M1161 724q0 -6 -3 -13M1173 745q2 -5 2 -11M864 773q-3 -4 -1 -7M883 690q2 -4 -2 -7M991 695q2 -4 0 -8M622 751q-2 -5 1 -10M658 708q2 -4 0 -8M524 734q1 -6 5 -13M587 680q-1 -3 2 -7M909 690q-6 -3 -8 -7M860 732q0 -6 -1 -12M463 747q2 -3 -1 -6M939 710q-3 -5 1 -10M672 785q-3 -5 -1 -9M886 760q0 -6 -2 -12M560 690q1 -5 1 -10M1127 761q-1 -5 -2 -11M1100 681q1 -3 1 -6M508 787q4 -3 4 -6M996 691q2 -5 -1 -10M575 749q1 -5 8 -10M992 768q1 -4 2 -8M716 736q4 -6 2 -12M713 734q2 -6 5 -12M635 714q-3 -6 -4 -11M890 757q1 -3 -3 -6M1108 684q1 -3 -0 -6M802 676q-6 -2 -7 -4M486 760q-1 -2 4 -5M704 779q1 -4 -1 -8M861 677q1 -3 4 -6M1026 687q2 -3 3 -7M1066 675q2 -3 -1 -6M969 791q-4 -6 -3 -12M498 758q-1 -3 2 -7M770 719q-0 -5 -1 -10M527 685q-4 -3 -2 -6M532 704q-4 -6 -3 -12M777 676q-2 -4 0 -8M904 704q2 -5 -0 -9M861 715q-5 -4 -6 -7M502 725q-0 -3 -3 -7M966 773q-2 -5 -8 -11M588 771q-3 -6 1 -12M966 705q3 -3 4 -5M821 758q1 -6 -4 -12M1172 765q1 -3 -3 -7M580 739q-4 -6 -7 -12M831 718q-2 -4 -0 -7M494 767q-6 -5 -7 -10M1138 720q1 -3 -3 -7M836 758q-4 -4 -3 -7M747 678q-1 -4 1 -8M664 698q0 -3 -0 -6M898 726q-2 -5 -2 -10M891 780q2 -7 0 -13M787 743q1 -5 4 -10M1187 741q1 -5 -3 -9M475 763q1 -5 -2 -10M1054 675q-2 -3 -3 -5M896 681q-3 -3 -4 -5M1023 716q4 -3 7 -6M512 750q0 -3 -1 -6M970 713q-2 -5 -4 -9M494 791q-3 -3 -5 -5M1136 748q-4 -4 -5 -8M1214 786q-3 -5 -4 -11M592 689q2 -3 1 -6M975 674q2 -4 -2 -8M508 739q3 -4 1 -9M734 744q-3 -5 -7 -11M813 738q-1 -4 -2 -8M1093 779q-1 -6 -1 -11M748 747q-1 -5 -2 -9M694 671q3 -4 3 -8M754 705q-1 -6 -1 -12M563 746q2 -5 3 -10M397 769q-1 -5 -1 -9M991 688q2 -3 1 -7M485 758q-0 -4 -3 -9M1004 715q-2 -4 -7 -9M425 736q3 -3 3 -6M620 672q-3 -3 -4 -7M497 757q-2 -5 -1 -10M463 742q-4 -3 -4 -5M618 711q1 -4 -4 -9M1093 683q2 -2 4 -4M1186 781q-3 -4 -1 -9M1078 744q0 -3 0 -7M1183 784q-3 -3 -2 -6M711 768q-4 -3 -4 -6M679 712q3 -4 -0 -9M399 759q1 -6 5 -12M922 785q5 -5 4 -11M1069 678q1 -4 0 -8M1084 751q-4 -4 -4 -9M877 752q-2 -4 -3 -8M1076 740q3 -6 5 -12M1182 765q1 -4 2 -8M1186 786q4 -5 8 -10M993 708q-1 -4 -1 -7M1046 758q-5 -5 -4 -10M701 783q3 -5 -0 -9M512 757q-0 -3 4 -6M985 706q3 -6 1 -12M817 742q-2 -4 -4 -9M1161 777q-2 -5 -5 -10M348 792q5 -6 5 -12M706 761q1 -4 -1 -8M541 708q-1 -6 -3 -12M849 674q0 -3 -3 -7M497 717q-2 -4 -1 -9M755 743q2 -4 -2 -9M456 769q1 -3 2 -7M877 764q-3 -3 -1 -7M737 751q-2 -3 -1 -7M697 785q-3 -5 -1 -10M848 721q-2 -3 2 -6M656 775q-2 -6 -1 -11M867 740q-1 -6 -6 -11M1209 775q-4 -3 -4 -6M651 729q-4 -3 -5 -7M557 785q-1 -4 -2 -8M757 755q-4 -3 -8 -5M771 683q2 -2 1 -5M413 784q4 -4 2 -7M516 686q3 -2 4 -4M820 696q1 -5 -1 -9M1118 711q-1 -3 -0 -6M714 757q-2 -3 2 -6M761 724q-4 -5 -4 -10M799 784q-1 -3 -0 -7M1220 774q-2 -3 -3 -7M891 731q-4 -6 -5 -13M436 775q-0 -7 -3 -13M631 720q4 -3 4 -5M774 676q2 -3 5 -6M501 769q2 -5 0 -9M1190 754q-3 -5 -1 -10M1007 716q-3 -4 -1 -9M649 705q2 -5 -2 -10M804 723q1 -5 -1 -11M386 759q-1 -5 -2 -9M880 682q-0 -4 2 -8M1083 787q-2 -5 -1 -10M1130 714q1 -4 -1 -9M834 791q-2 -5 2 -9M1024 704q3 -6 4 -12M869 776q-2 -5 -8 -10M394 763q-3 -3 -0 -6M1146 756q1 -6 -0 -13M1059 700q1 -5 -2 -10M1045 743q1 -4 0 -8M1033 707q2 -6 5 -13M1168 756q-4 -5 -4 -10M771 738q6 -5 6 -10M769 728q-1 -5 -0 -11M826 722q1 -3 -1 -6M881 718q-2 -4 -8 -9M1014 765q2 -4 1 -9M1046 690q-0 -4 -3 -8M629 756q-2 -4 1 -7M855 751q2 -6 1 -13M463 775q7 -4 8 -8M635 730q-8 -3 -11 -7M908 699q4 -4 10 -9M983 671q-3 -3 -3 -6M639 706q-2 -6 -5 -13M535 749q-3 -6 -3 -13M751 671q2 -3 1 -6M812 682q-2 -3 -1 -7M581 763q2 -5 -1 -9M373 762q1 -3 5 -6M901 777q4 -3 4 -6M486 765q-0 -6 -2 -11M1171 770q3 -6 -0 -13M823 693q-0 -6 -1 -12"/>
<path fill="none" stroke="#568f35" stroke-width="1.1" stroke-linecap="round" d="M1009 718q1 -5 3 -11M976 773q1 -4 5 -7M626 699q0 -7 -2 -13M1070 716q-2 -7 -1 -13M429 789q-0 -5 -1 -11M691 715q3 -7 4 -13M580 747q-1 -5 -0 -10M381 775q4 -2 4 -5M765 738q-0 -5 -2 -10M670 785q-3 -6 -5 -13M803 690q2 -4 2 -9M1171 730q-3 -3 -3 -6M665 704q-2 -4 -4 -8M415 790q3 -4 -1 -8M1057 753q-2 -4 -8 -7M580 737q0 -5 -1 -11M861 696q-4 -3 -5 -5M534 737q-0 -4 3 -8M732 738q0 -5 0 -10M892 693q-2 -3 -3 -6M567 674q3 -2 2 -5M568 789q-1 -5 -2 -11M1086 787q3 -5 4 -11M1027 736q-3 -7 -2 -13M1080 776q2 -6 1 -13M903 680q1 -3 1 -7M1115 732q-2 -4 -2 -7M1117 731q-1 -6 -0 -11M1022 696q1 -5 1 -10M532 777q-4 -4 -2 -8M1099 686q3 -4 2 -7M684 767q-3 -3 -1 -7M1064 695q-2 -3 -0 -6M727 700q1 -6 0 -12M711 682q-1 -3 -2 -6M910 791q-3 -4 -2 -9M857 731q-3 -4 -1 -9M879 709q-2 -5 -0 -11M1161 748q-1 -7 -1 -13M816 767q-0 -5 -2 -11M997 766q-0 -3 2 -7M664 760q-1 -6 2 -13M688 693q-4 -4 -8 -7M887 728q-0 -4 3 -9M729 773q-2 -3 -4 -7M728 691q-2 -4 -6 -9M1052 750q-1 -5 1 -10M571 755q2 -6 4 -13M1015 742q-5 -4 -4 -9M982 754q-5 -3 -4 -5M659 751q1 -7 -3 -13M902 709q-1 -4 -4 -7M732 707q-0 -5 -0 -9M1102 681q-1 -4 -1 -8M974 720q-1 -5 1 -9M1043 783q5 -3 6 -6M817 723q2 -4 -1 -7M778 754q2 -6 5 -12M1022 727q-1 -4 -5 -8M1021 760q-2 -3 1 -7M991 725q-3 -3 -2 -6M1123 705q4 -5 9 -10M1133 716q0 -4 -1 -9M586 782q-3 -4 -1 -9M498 752q-3 -7 -3 -14M471 707q3 -5 3 -11M645 751q4 -6 2 -11M1103 750q6 -6 6 -12M452 783q-1 -6 0 -12M746 712q0 -5 1 -11M1057 684q1 -3 -2 -6M677 705q2 -4 -0 -7M1047 783q-4 -6 -3 -13M819 743q-0 -4 1 -8M847 711q2 -5 5 -10M725 785q-2 -3 -1 -6M442 737q-1 -5 -2 -11M487 768q2 -6 -0 -11M603 705q3 -4 3 -7M499 724q1 -3 -3 -6M739 732q1 -5 2 -10M730 710q-1 -3 -5 -5M445 785q1 -6 3 -13M944 693q-4 -3 -4 -6M521 753q3 -3 3 -7M544 792q-1 -4 -7 -9M1167 751q-0 -4 -0 -9M995 749q-1 -5 -3 -9M1085 772q-3 -5 -1 -10M506 712q3 -7 1 -13M885 705q-2 -6 -5 -11M769 716q-1 -4 -4 -9M500 692q-1 -4 0 -7M789 699q1 -3 -2 -7M433 751q-1 -4 -5 -8M719 721q-1 -3 -2 -6M1133 729q-1 -7 -4 -13M834 775q1 -6 -1 -11M741 763q2 -6 7 -11M838 684q-1 -4 -5 -7M983 673q-0 -3 0 -6M606 725q1 -3 -4 -5M477 768q3 -5 4 -9M701 706q-0 -5 -3 -9M943 753q-2 -4 -2 -8M902 768q-3 -4 -3 -9M752 726q3 -2 6 -5M1072 759q-3 -4 -5 -8M777 780q-3 -6 -5 -13M569 734q-0 -4 -3 -8M923 683q2 -4 -1 -8M555 790q-1 -5 0 -11M947 678q0 -4 2 -7M556 759q-0 -4 -2 -8M964 700q2 -4 4 -8M784 723q-1 -5 1 -10M551 751q-2 -6 -2 -13M677 707q-2 -4 -4 -8M788 751q4 -4 5 -7M871 781q-5 -5 -6 -10M600 676q2 -4 4 -7M629 772q0 -4 -5 -7M902 727q-3 -4 -5 -7M480 725q-4 -6 -3 -13M739 714q-4 -6 -2 -11M865 712q3 -4 3 -8M375 769q1 -4 1 -8M922 703q-1 -5 2 -9M841 671q-0 -3 -2 -5M943 677q-5 -3 -5 -6M766 717q-4 -5 -6 -10M1115 693q-5 -2 -6 -4M962 754q-2 -6 -3 -12M925 789q2 -3 1 -6M1014 696q-4 -4 -1 -8M535 769q-1 -4 -4 -7M457 712q-4 -4 -4 -8M551 711q-1 -4 -0 -9M672 675q-2 -3 1 -6M1025 737q-3 -3 -3 -6M566 759q3 -6 5 -13M572 688q2 -2 2 -5M1189 787q2 -7 1 -13M645 737q-2 -6 1 -13M1064 701q-2 -4 -5 -8M410 743q-1 -3 2 -6M988 731q-3 -4 -2 -8M584 736q-3 -6 -3 -12M761 717q3 -3 1 -7M543 721q-4 -6 -3 -12M685 734q-0 -7 -3 -14M718 787q-1 -6 -5 -12M584 775q0 -3 -2 -7M930 737q3 -4 1 -7M468 717q3 -4 2 -8M480 778q2 -4 3 -8M541 753q-3 -5 -6 -10M1193 779q1 -3 -1 -7M488 748q1 -6 5 -12M914 735q-6 -5 -8 -9M828 697q-3 -6 -4 -11M942 752q2 -4 0 -7M546 742q-1 -3 -2 -7M735 683q-1 -4 -5 -7M1017 714q-3 -7 -1 -13M754 680q-2 -4 1 -9M1092 753q-0 -5 0 -11M376 781q-1 -5 3 -10M636 737q3 -6 2 -12M1013 739q-1 -4 1 -9M571 688q4 -4 2 -8M1110 706q-4 -4 -2 -8M515 769q2 -6 -1 -11M797 748q-5 -3 -3 -7M764 773q-1 -4 -0 -8M764 739q0 -4 6 -7M946 721q-0 -4 -2 -8M881 746q0 -6 -5 -12M699 696q1 -3 -3 -6M534 767q3 -6 1 -13M1092 784q-1 -5 -1 -11M576 672q1 -3 -2 -5M1002 677q-1 -3 -0 -6M997 715q4 -5 4 -11M750 675q3 -3 4 -7M692 760q1 -5 1 -10M518 726q4 -4 5 -8M1111 753q2 -3 0 -7M973 725q3 -5 4 -9M868 690q1 -5 -1 -10M674 765q-1 -6 -2 -13M407 747q1 -4 -1 -7M945 671q-2 -3 -1 -6M560 737q2 -6 -1 -12M574 723q-1 -5 3 -9M1057 703q-1 -4 -4 -9M1044 685q4 -3 2 -7M581 678q1 -4 4 -8M800 775q-1 -6 -4 -12M1017 701q-2 -5 -3 -10M454 714q1 -3 -3 -6M982 719q0 -4 1 -7M560 723q2 -3 -1 -7M880 682q0 -3 1 -6M1012 751q-2 -7 -3 -13M475 702q1 -5 -2 -9M1032 705q2 -5 -2 -9M871 694q-5 -5 -5 -10M719 678q3 -3 2 -7M774 714q2 -5 4 -10M398 754q-1 -7 1 -14M682 698q-1 -6 3 -12M725 769q-4 -4 -2 -8M431 784q-0 -3 -2 -6M563 723q-5 -6 -6 -12M556 791q1 -3 -2 -6M513 713q-1 -4 0 -8M412 783q-2 -7 -3 -13M801 686q-0 -4 3 -8M690 675q2 -4 1 -8M499 752q-3 -4 1 -8M1096 771q0 -4 1 -8M935 770q-1 -4 -7 -7M769 773q-1 -4 2 -7M507 731q3 -6 3 -12M944 696q-5 -6 -8 -11M620 703q-6 -5 -7 -10M474 771q-0 -4 2 -7M929 710q-1 -3 2 -7M548 708q-2 -5 -2 -9M824 745q3 -6 2 -11M1047 784q-1 -7 1 -14M1082 706q-5 -3 -5 -7M551 761q-6 -3 -6 -7M948 721q-1 -5 4 -9M628 784q-2 -4 -2 -8M736 708q-1 -4 1 -8M648 719q-2 -7 -0 -13M430 773q-3 -3 -5 -6M1067 744q0 -7 1 -14M912 683q-3 -4 -2 -9M787 768q2 -6 5 -13M851 787q-2 -6 -7 -11M865 675q4 -3 3 -5M761 772q3 -6 2 -13M453 773q-1 -4 -1 -9M944 714q1 -4 -2 -8M682 695q3 -7 3 -13M998 723q1 -3 -3 -6M638 674q-2 -4 -3 -7M908 712q-3 -5 -0 -9M888 734q-2 -5 -0 -11M901 701q-1 -5 -4 -10M524 710q-1 -3 -2 -6M547 783q-3 -3 -3 -6M585 697q-1 -6 3 -12M567 672q-3 -2 -4 -5M964 733q-1 -5 -1 -9M646 675q-2 -4 -1 -8M1212 775q1 -3 2 -7M521 706q-1 -4 -2 -8M837 755q2 -5 0 -10M796 781q-1 -6 -4 -12M752 699q2 -5 1 -10M572 785q-3 -4 -3 -9M1103 733q-0 -5 -6 -10M1104 713q3 -5 2 -11M733 686q0 -4 1 -7M1189 753q-1 -6 -3 -11M1055 772q-3 -3 -9 -6M1079 772q-1 -2 -4 -5M418 786q-2 -4 -8 -8M546 678q-1 -4 1 -9M966 729q-1 -6 0 -12M1045 785q-3 -5 -0 -10M1044 714q1 -6 -1 -12M689 781q-3 -5 -7 -10M942 697q3 -3 3 -6M894 727q-5 -5 -7 -10M548 757q-1 -3 0 -6M1010 704q-5 -5 -6 -10M1063 743q1 -7 2 -13M826 758q-2 -5 1 -10M1058 779q-2 -3 -1 -7M906 756q2 -5 -1 -9M651 783q-0 -4 4 -8M726 720q2 -6 4 -12M1126 746q-1 -6 -4 -11M535 721q0 -4 -5 -7M1005 696q0 -5 2 -9M1194 779q3 -5 4 -9M796 717q2 -3 1 -7M668 748q0 -7 -4 -13M718 790q-2 -5 -2 -10M1002 722q1 -5 2 -10M665 696q-1 -5 -2 -10M383 772q-2 -3 -10 -5M988 676q-4 -3 -3 -7M718 779q-1 -3 -1 -6M816 672q-1 -3 1 -6M482 731q-1 -3 -3 -6M645 705q-1 -4 -5 -8M874 673q2 -3 2 -5M987 780q-4 -3 -4 -6M726 776q-1 -3 -1 -6M449 774q-1 -4 -5 -7M682 712q-2 -4 -1 -8M899 720q5 -7 4 -13M479 729q0 -5 -2 -10M1068 732q-3 -4 -5 -9M1070 701q-3 -6 -1 -12M1118 759q-4 -6 -2 -12M943 779q1 -5 3 -11M1048 754q3 -3 -0 -7M504 788q-1 -7 -1 -14M552 738q-6 -4 -5 -7M547 752q-5 -2 -7 -5M913 782q-4 -4 -4 -7M502 691q-1 -3 -6 -6M736 782q-0 -6 -1 -12M1031 733q-5 -4 -8 -8M824 715q-4 -5 -3 -10M709 733q-2 -6 -4 -12M667 737q-0 -6 1 -12M965 721q6 -4 6 -8M548 741q-0 -3 3 -7M554 769q-4 -4 -3 -8M681 767q2 -6 0 -12M1011 775q0 -4 -1 -7M665 743q-2 -4 -0 -9M851 753q3 -6 5 -11M495 736q-1 -5 -1 -10M752 698q-2 -6 -6 -11M683 755q-5 -3 -6 -7M788 718q-0 -4 5 -7M655 781q-4 -5 -5 -11M1063 698q1 -7 3 -13M705 789q-0 -3 -4 -5M680 765q2 -6 1 -12M572 784q-3 -6 -5 -12M1080 673q-1 -3 -1 -6M797 742q-1 -5 -6 -11M642 762q-1 -4 3 -8M482 700q-1 -5 -2 -9M855 752q-1 -5 -5 -10M759 688q2 -3 -1 -7M735 784q1 -4 -3 -7M823 705q-3 -5 -2 -10M1175 746q1 -4 -1 -8M1229 787q1 -6 5 -12M1008 680q-1 -3 -2 -6M842 768q3 -4 2 -9M878 767q3 -5 2 -10M572 700q-0 -6 -4 -12M623 726q1 -3 -4 -5M965 682q-4 -3 -4 -6M615 789q-2 -4 -0 -8M1010 767q-2 -4 -3 -8M1202 763q3 -4 1 -7M868 789q3 -4 1 -9M657 672q-2 -4 1 -8M1162 763q1 -6 2 -12M1142 746q3 -6 5 -11M1004 738q4 -5 7 -10M759 772q2 -7 0 -14M815 707q2 -6 -0 -13M502 712q1 -4 -2 -8M1024 697q0 -6 4 -12M833 710q1 -4 7 -8M384 772q-2 -5 -5 -10M939 671q-0 -3 4 -6M807 752q-5 -5 -4 -10M464 771q-3 -7 -0 -14M1001 673q2 -2 2 -5M473 729q0 -5 -2 -10M1022 707q-3 -6 -4 -11M461 783q0 -6 4 -11M874 760q2 -4 0 -7M1031 691q2 -4 1 -7M793 767q3 -4 1 -8M881 723q1 -5 -2 -11M865 775q2 -5 1 -9M517 704q-2 -5 -2 -10M333 792q6 -6 6 -12M555 760q-3 -6 -1 -13M1169 758q-1 -5 -4 -10M772 701q1 -3 2 -6M462 754q-5 -3 -6 -7M691 714q-0 -5 -2 -11M569 766q-5 -4 -7 -8M1080 782q1 -3 2 -6M1160 773q1 -4 -5 -8M707 687q-4 -3 -2 -7M853 757q0 -5 -3 -10M985 739q-6 -6 -6 -11M1100 734q-3 -3 -4 -6M537 688q-1 -3 -2 -6M697 764q2 -4 -0 -7M388 782q-1 -3 4 -7M733 743q1 -3 -1 -6M697 752q-2 -4 -0 -7M485 701q-2 -7 -1 -14M1152 782q-2 -3 -5 -7M950 759q4 -4 3 -7M827 756q-2 -5 -6 -10"/>
<path fill="none" stroke="#b0d688" stroke-width="1.1" stroke-linecap="round" d="M520 685q-0 -4 -4 -8M556 781q-0 -3 -2 -6M1150 763q3 -4 2 -9M577 729q-0 -4 -3 -8M565 709q-3 -4 -4 -9M914 782q-2 -6 -4 -12M498 760q1 -4 1 -8M434 788q-5 -3 -5 -7M762 700q-2 -4 2 -8M987 725q3 -4 0 -8M830 781q1 -6 6 -11M860 782q-5 -3 -6 -5M1194 748q2 -3 -2 -6M530 682q-2 -4 -4 -7M482 716q-2 -5 -4 -11M527 765q-3 -3 -2 -6M908 714q0 -7 2 -13M943 721q-3 -4 -2 -9M1017 674q-0 -3 -2 -6M1095 686q1 -3 -0 -6M543 684q-4 -3 -2 -5M666 768q1 -6 1 -11M479 757q-1 -6 -6 -13M1066 756q-2 -5 -5 -10M1103 725q-1 -5 -2 -10M447 791q2 -4 2 -8M546 745q-3 -3 -4 -7M852 676q-0 -3 1 -5M1004 723q0 -4 -2 -8M750 743q1 -5 1 -11M864 767q-1 -4 1 -8M652 769q1 -4 5 -8M523 722q-1 -4 0 -8M997 689q-3 -3 -5 -7M792 676q2 -4 -1 -9M802 780q-4 -6 -4 -12M1149 733q3 -6 6 -12M974 770q2 -4 2 -9M495 733q-1 -4 3 -7M940 719q1 -4 3 -7M428 774q-1 -4 0 -8M1038 738q3 -4 2 -8M1068 746q-3 -6 -4 -12M775 735q2 -3 5 -5M422 752q-2 -5 1 -10M786 709q-0 -6 -2 -11M679 781q0 -5 2 -10M975 722q1 -4 3 -9M822 733q-3 -4 -1 -9M1022 738q-2 -5 -2 -11M782 701q1 -5 -0 -9M1032 698q2 -4 -1 -8M774 670q-3 -3 -2 -6M621 705q-1 -4 -2 -8M960 775q-1 -4 -2 -8M647 727q3 -3 1 -6M634 773q-9 -2 -13 -4M894 733q-3 -7 -3 -14M668 692q2 -4 2 -9M1023 763q-3 -6 -5 -12M690 763q3 -7 1 -14M663 673q0 -4 -3 -7M776 712q-5 -3 -7 -7M847 789q-1 -4 -4 -8M483 787q-2 -3 1 -6M451 778q-2 -6 1 -11M1001 683q1 -3 -1 -7M980 717q-3 -4 -4 -7M364 792q-4 -5 -6 -10M1003 742q1 -4 0 -8M894 757q-3 -5 -2 -11M589 722q3 -4 3 -8M999 775q3 -6 3 -11M759 739q-3 -6 -4 -12M660 709q2 -5 1 -11M687 725q0 -6 -2 -12M531 719q-2 -5 -9 -11M642 742q-7 -5 -10 -9M915 712q-4 -7 -2 -14M958 770q1 -7 -2 -13M763 699q4 -5 5 -11M816 788q-0 -6 -4 -12M1087 708q1 -5 -1 -10M1068 783q-4 -6 -4 -12M1006 722q-2 -4 -4 -7M882 789q-5 -5 -4 -9M696 742q-2 -7 0 -14M718 756q-1 -4 -2 -8M1135 775q-3 -5 -0 -10M813 758q3 -7 2 -13M445 722q1 -6 -3 -13M1093 777q-3 -5 -9 -10M821 762q-3 -4 -1 -7M509 762q1 -5 2 -10M1057 735q-4 -6 -2 -12M564 739q-0 -4 -1 -8M970 749q-4 -6 -6 -11M858 705q-2 -5 1 -9M1019 695q-2 -4 -4 -7M1038 717q-0 -7 1 -13M635 747q-3 -6 -4 -12M607 740q1 -6 6 -12M1021 778q1 -4 0 -7M1141 784q1 -4 -1 -8M871 704q-1 -4 0 -8M1018 719q1 -5 -2 -11M526 702q4 -5 4 -10M1110 727q-4 -4 -4 -7M546 679q-4 -3 -3 -7M519 739q1 -7 -1 -14M931 731q-4 -6 -5 -11M942 678q-1 -3 1 -5M667 671q1 -3 -2 -6M879 715q-0 -5 5 -10M385 784q3 -4 3 -7M1228 781q-4 -5 -5 -11M733 754q-2 -7 1 -14M1139 762q1 -5 1 -10M984 673q-0 -4 0 -8M1026 703q2 -4 3 -7M634 764q0 -5 3 -10M843 790q2 -4 -1 -7M648 727q-1 -5 -4 -11M776 738q-4 -4 -3 -8M1123 708q-1 -4 -3 -8M658 686q0 -4 2 -8M658 785q-1 -6 -1 -13M644 776q1 -6 -3 -12M822 680q0 -3 -5 -6M527 722q3 -4 -0 -8M1145 740q3 -5 1 -10M1024 710q-1 -3 -3 -6M911 710q1 -5 1 -10M1078 785q-1 -6 2 -11M697 778q-3 -4 -1 -8M1020 674q-3 -2 -2 -5M597 767q-2 -6 -1 -12M1163 745q-2 -3 -4 -6M712 777q0 -4 1 -8M1084 754q-1 -5 1 -10M1104 791q-2 -2 -5 -4M624 748q1 -4 -3 -9M1144 740q-0 -7 1 -14M585 749q-5 -5 -9 -11M583 743q2 -6 1 -11M880 690q-0 -6 3 -11M538 773q1 -4 -3 -9M1111 691q-0 -3 -0 -7M1019 688q2 -4 -1 -9M474 775q3 -4 0 -7M650 709q3 -4 1 -9M774 673q-3 -3 -0 -6M692 769q3 -5 0 -10M756 757q-2 -5 -4 -10M654 711q-0 -5 -1 -9M891 727q-1 -5 -2 -10M822 754q-0 -4 -2 -8M866 786q-0 -5 -1 -9M724 747q1 -3 -0 -7M791 781q-4 -3 -3 -6M1172 762q0 -3 -2 -7M965 727q3 -4 2 -8M709 673q-3 -3 -1 -5M1114 792q-2 -3 0 -6M928 783q1 -4 1 -8M897 717q3 -3 4 -5M1210 774q1 -6 5 -11M492 699q-0 -6 -4 -13M697 680q-3 -3 -1 -6M704 778q-1 -7 -2 -13M584 747q0 -6 -4 -11M909 758q-1 -4 -0 -7M508 703q3 -4 3 -8M748 758q3 -6 0 -11M764 762q5 -5 4 -10M723 761q-3 -6 -3 -13M619 722q4 -6 3 -12M1025 670q3 -2 2 -5M670 738q2 -4 1 -9M665 676q3 -4 2 -7M1103 699q3 -3 1 -7M545 765q-2 -5 1 -11M774 754q4 -6 5 -12M485 787q-2 -4 -3 -9M525 716q-2 -4 2 -9M475 789q-4 -6 -2 -11M404 759q-1 -3 -2 -6M728 698q-1 -3 -1 -6M1167 785q2 -4 0 -8M1055 724q-2 -3 0 -6M1125 728q-1 -5 -2 -11M937 697q-1 -6 -2 -13M926 711q1 -6 1 -13M891 683q2 -3 -0 -6M764 758q-3 -3 -4 -6M982 730q1 -5 -1 -10M643 697q1 -3 -2 -6M746 740q-3 -4 -2 -9M924 736q4 -7 2 -14M1060 776q-4 -5 -6 -11M903 746q2 -3 1 -7M796 692q3 -3 0 -6M477 722q4 -6 6 -12M695 787q2 -5 1 -11M691 674q-0 -2 -2 -5M848 753q-5 -4 -11 -8M640 747q2 -6 3 -12M1107 699q0 -6 -3 -12M419 745q3 -7 4 -13M693 674q3 -4 4 -8M994 719q-2 -6 -0 -12M722 764q2 -3 3 -6M1002 752q-1 -5 0 -9M467 739q-1 -6 0 -13M588 767q4 -5 6 -10M1031 734q4 -5 7 -10M719 690q-2 -4 2 -8M970 694q-3 -6 0 -13M724 754q1 -6 -3 -12M859 724q0 -4 3 -8M1067 698q-0 -3 -1 -7M655 696q1 -6 -1 -12M440 742q-1 -5 -5 -9M760 692q-1 -5 -6 -10M844 679q-2 -4 1 -8M1210 779q1 -3 -1 -7M1025 740q0 -4 -3 -9M593 674q2 -4 2 -8M729 721q1 -4 -3 -8M497 732q-1 -6 -7 -12M703 727q-0 -7 -1 -14M694 762q-3 -4 -4 -8M771 703q-1 -3 -2 -6M1042 695q-3 -6 1 -11M533 753q-3 -5 -0 -11M985 792q1 -7 4 -13M917 720q-4 -3 -5 -7M987 764q2 -6 2 -12M945 787q-2 -6 -1 -13M425 755q-1 -5 4 -11M857 764q-6 -4 -8 -8M556 782q-4 -4 -1 -8M759 773q1 -5 1 -11M470 722q-0 -3 -6 -6M1111 764q-0 -6 3 -13M816 708q-3 -4 -0 -8M587 717q-2 -6 1 -11M624 777q-2 -4 -1 -9M770 782q-5 -6 -4 -13M1148 771q0 -3 -5 -6M1066 753q2 -6 2 -11M456 722q0 -5 -4 -11M1051 696q-6 -3 -7 -7M414 760q-5 -4 -8 -9M843 785q-4 -4 -4 -8M1213 768q-1 -4 -1 -8M1116 765q0 -3 -3 -7M574 711q1 -6 -5 -12M758 719q-4 -3 -2 -7M1175 772q0 -6 3 -13M547 705q-4 -3 -5 -6M480 784q-3 -4 -1 -7M737 787q1 -3 5 -6M633 762q3 -6 2 -12M1021 701q-1 -6 1 -12M961 781q1 -6 -0 -11M860 688q1 -4 2 -8M680 715q-2 -4 -3 -7M585 783q2 -3 3 -6M813 765q1 -5 -3 -10M801 769q-2 -4 0 -8M813 747q-2 -6 -2 -12M633 787q2 -4 0 -8M484 740q-0 -5 2 -9M509 767q1 -3 1 -7M985 696q0 -5 -3 -10M1206 769q1 -3 -1 -7M1023 698q-2 -7 -3 -13M920 726q2 -5 2 -10M897 758q-2 -6 -1 -12M1020 790q1 -3 -0 -7M1050 688q-1 -4 -2 -7M616 674q3 -3 3 -6M945 725q-1 -2 -6 -4M963 765q-0 -6 4 -12M905 721q-1 -4 2 -7M449 787q1 -3 2 -6M797 704q-1 -5 -6 -9M710 773q-1 -5 -1 -9M544 784q2 -7 -0 -14M751 783q-3 -4 -1 -8M514 722q0 -4 -3 -8M844 686q1 -4 0 -9M709 751q-1 -4 0 -8M777 738q2 -6 6 -11M702 748q0 -4 1 -8M843 710q-2 -5 2 -10M913 785q-1 -5 -3 -10M802 791q-0 -3 2 -6M402 787q-0 -4 0 -8M661 775q0 -4 4 -9M1065 754q-2 -5 -0 -10M713 723q0 -5 1 -10M784 752q1 -6 -1 -12M764 751q-1 -5 1 -9M974 679q-0 -3 -0 -6M770 690q-2 -2 -3 -5M465 709q-2 -4 1 -7M1106 674q1 -4 -1 -8M584 712q-4 -7 -2 -14M879 782q2 -3 -0 -6M1077 753q-2 -3 2 -7M783 675q-2 -3 -2 -6M643 711q-2 -6 -1 -12M1208 778q-5 -3 -5 -6M781 705q-5 -6 -5 -12M1092 737q3 -3 5 -7M1158 735q1 -5 -2 -10M395 775q-3 -5 -5 -9M698 730q1 -5 1 -9M512 779q-5 -6 -7 -11M729 701q-2 -4 -2 -7M712 692q2 -5 2 -9M743 759q-2 -5 -1 -10M885 776q0 -3 2 -6M1138 701q-3 -4 -5 -9M812 704q4 -6 3 -12M1088 783q2 -5 -1 -10M563 749q-1 -4 -1 -7M610 786q-0 -4 -2 -9M796 699q-1 -7 -0 -13M972 724q0 -4 -3 -9M1192 749q1 -6 4 -12M1066 701q-5 -4 -5 -8M827 711q-2 -6 -4 -12M672 752q-2 -4 1 -8M856 674q-0 -3 -4 -7M503 740q-4 -3 -7 -5M799 774q-3 -4 -1 -8M963 697q0 -4 -4 -8M848 739q-0 -6 3 -11M1200 749q-0 -7 -2 -14M612 682q-0 -3 2 -5M791 730q-2 -7 1 -13M553 769q2 -7 2 -13M657 716q-0 -5 -4 -11M1015 746q-4 -3 -2 -6M639 767q0 -5 -1 -11M886 690q-5 -4 -5 -7M832 724q-0 -5 1 -11M1183 791q-2 -7 1 -14M722 783q-1 -5 -1 -10M399 777q4 -3 2 -7M838 786q-0 -3 2 -6M455 723q0 -5 0 -11M795 708q5 -4 11 -9M571 752q0 -4 -3 -7M484 776q-1 -4 1 -8M1035 778q-2 -7 -0 -14M939 690q-3 -4 -3 -8M693 679q-2 -4 -2 -8M916 763q0 -5 -3 -11M805 701q-2 -3 0 -6M477 785q-3 -5 -8 -11M717 760q-1 -5 0 -10M1021 746q-2 -3 -1 -6M651 760q-0 -3 2 -7M1051 716q-4 -3 -3 -5M1188 772q4 -6 5 -12M1072 740q-4 -3 -5 -7M447 762q0 -2 -5 -3M907 681q0 -4 -1 -9M622 707q-0 -5 0 -9M695 677q0 -3 -1 -6M530 683q4 -2 5 -4M1065 700q0 -6 3 -12M784 692q-4 -3 -4 -6M976 730q-1 -4 3 -7M1136 792q1 -4 -2 -9M524 712q3 -4 1 -7M907 748q-4 -5 -4 -10M691 710q-1 -7 0 -13M823 768q-0 -4 -5 -9M1059 709q0 -5 -3 -9M614 696q-1 -3 1 -7M1030 762q2 -4 -1 -9M1087 680q-0 -3 -0 -5M945 671q-4 -3 -2 -6M565 695q1 -7 -1 -13M685 785q2 -3 -0 -7M874 712q3 -7 3 -13M879 773q-1 -5 -5 -11M1082 694q1 -5 -3 -9M641 787q-2 -3 1 -7M891 774q3 -4 3 -7M798 693q1 -3 -4 -6M1005 776q2 -5 -2 -10M931 788q-2 -5 -4 -10M463 786q4 -6 6 -11M592 711q-7 -5 -9 -11M532 776q-2 -3 -10 -5M1080 733q3 -4 3 -8M1032 696q-2 -3 -2 -6M690 728q2 -5 -0 -11M569 690q1 -7 0 -13"/>
<path fill="none" stroke="#98c76d" stroke-width="0.8" stroke-linecap="round" d="M732 721q0 -5 -2 -9M672 688q2 -4 -2 -8M608 695q-2 -6 -4 -12M811 767q-0 -7 -4 -13M984 783q3 -6 5 -11M648 737q-4 -5 -4 -10M905 712q-1 -5 -5 -10M1138 789q3 -6 4 -12M613 715q4 -6 5 -11M964 756q-3 -5 -2 -10M775 671q-1 -3 1 -6M458 754q2 -5 0 -9M804 703q-1 -6 -4 -12M863 739q-2 -6 -4 -12M1090 682q0 -3 0 -5M648 672q-4 -2 -4 -4M811 720q-0 -3 -2 -7M594 702q2 -6 -2 -13M443 761q2 -5 2 -9M553 748q-3 -3 -4 -7M754 744q-3 -4 -1 -8M364 775q3 -4 2 -7M753 726q2 -6 6 -12M488 708q-1 -6 -2 -12M845 681q2 -3 0 -7M676 671q1 -3 0 -6M834 675q-4 -4 -3 -8M986 728q-2 -5 1 -9M713 675q-3 -2 -4 -5M1012 714q-5 -4 -6 -8M1079 694q-1 -5 -3 -10M814 732q1 -4 5 -9M624 679q2 -2 3 -5M690 747q2 -4 4 -9M1056 698q-3 -4 -2 -8M1170 734q-5 -5 -6 -10M1148 750q-1 -6 -1 -12M1080 768q-1 -5 -1 -11M821 790q-2 -5 -2 -10M1060 688q-3 -3 -2 -6M953 783q-3 -6 -5 -12M860 792q-1 -5 -1 -10M845 761q-3 -3 -8 -7M985 780q-3 -5 -9 -9M707 674q-1 -4 -2 -8M764 748q-1 -3 -2 -6M695 709q-1 -3 -1 -6M417 791q-4 -3 -4 -6M450 776q4 -6 3 -12M936 695q1 -4 -1 -7M642 724q1 -3 2 -7M902 685q-1 -3 1 -5M866 711q1 -5 5 -10M877 739q-5 -4 -7 -9M707 695q-0 -6 -1 -11M668 745q-2 -4 1 -9M1008 704q0 -7 -3 -13M660 712q0 -6 -1 -11M520 703q0 -5 -0 -9M636 698q1 -6 -5 -12M973 778q0 -3 -1 -6M791 722q-4 -6 -3 -12M653 704q0 -6 -2 -12M864 780q-1 -6 -2 -12M840 787q1 -7 -2 -13M853 741q2 -3 0 -7M578 750q-0 -4 1 -9M1102 696q0 -7 0 -14M646 714q-1 -3 -2 -6M515 724q-4 -5 -4 -10M687 750q-2 -6 0 -12M545 776q1 -4 -2 -8M1132 744q-1 -4 2 -7M544 680q-1 -3 2 -7M809 729q1 -6 -3 -11M548 673q-1 -3 -4 -7M840 699q1 -3 -3 -7M1015 751q-0 -7 -3 -13M871 685q-1 -3 -0 -6M627 766q3 -5 8 -10M984 786q-1 -5 -5 -10M780 732q-0 -7 -5 -13M761 706q-3 -3 -4 -6M728 745q-0 -3 2 -7M883 680q-4 -2 -2 -5M517 697q-0 -6 4 -11M841 677q0 -4 -1 -7M777 776q-2 -3 1 -6M751 777q-2 -7 1 -14M932 748q-0 -5 5 -9M722 736q2 -3 -2 -7M739 746q-5 -5 -4 -10M664 772q-3 -5 -1 -9M568 754q-2 -6 -2 -12M531 701q3 -4 2 -8M991 678q-1 -3 1 -7M1089 739q-4 -6 -2 -12M767 687q1 -4 0 -9M1152 745q1 -5 -2 -9M541 678q5 -4 4 -8M804 756q-5 -5 -5 -11M679 722q-3 -4 -2 -7M1158 729q1 -4 2 -8M403 746q-4 -5 -3 -10M670 763q5 -5 8 -11M669 671q-1 -4 -1 -8M399 764q-3 -4 -1 -8M776 726q0 -4 -1 -9M979 772q-2 -5 1 -10M967 721q-0 -3 0 -6M748 706q-2 -3 -0 -6M724 672q-2 -4 -1 -9M534 757q-1 -4 1 -7M1163 755q3 -6 3 -12M1047 763q2 -5 -1 -9M776 790q-1 -6 -3 -12M1124 739q-4 -3 -5 -5M1043 767q-2 -5 2 -11M383 756q-4 -5 -4 -11M807 728q2 -4 1 -8M1008 713q1 -3 3 -6M952 781q0 -5 -2 -10M924 718q-5 -5 -6 -10M591 759q-4 -7 -4 -13M1134 714q-4 -5 -8 -11M851 729q0 -3 -4 -7M492 757q-4 -3 -4 -6M1049 677q-1 -3 -1 -5M917 770q-3 -3 -0 -7M533 676q-3 -4 0 -8M1126 752q-2 -7 1 -13M558 686q-1 -4 -3 -8M1210 790q-2 -3 -3 -7M534 724q-2 -6 1 -12M871 765q4 -6 4 -12M735 732q-3 -5 -6 -10M1033 687q4 -3 4 -6M830 778q-3 -6 -6 -13M1215 772q-1 -4 0 -8M518 692q0 -5 -3 -11M946 739q-3 -6 -2 -13M504 705q-5 -3 -3 -6M996 786q-2 -2 -5 -5M1074 764q-0 -5 -5 -10M916 766q1 -3 -0 -6M646 698q5 -6 4 -12M508 696q-1 -4 -2 -7M725 780q-1 -6 -2 -12M983 730q2 -5 2 -11M780 738q0 -4 1 -8M830 785q-4 -3 -3 -6M664 734q-3 -4 -2 -8M834 689q2 -2 3 -5M862 706q-1 -4 -6 -7M568 689q-3 -4 -1 -8M341 785q-1 -4 -2 -8M1095 677q1 -3 4 -7M464 777q3 -4 2 -7M618 671q-1 -4 0 -9M1170 740q-3 -4 -2 -8M634 676q0 -3 -5 -7M763 731q-2 -4 -5 -8M590 726q0 -4 -1 -8M760 718q0 -5 -3 -10M983 681q-2 -3 -4 -7M526 764q4 -4 3 -7M506 723q5 -4 4 -7M649 791q-3 -5 -7 -11M535 738q-1 -4 2 -8M445 755q1 -4 0 -8M562 755q-2 -3 -3 -7M952 763q2 -3 -1 -6M525 722q1 -5 -1 -9M484 737q4 -6 3 -13M462 731q-1 -3 3 -7M1050 758q-5 -6 -5 -11M647 696q-1 -4 -2 -8M1016 762q-2 -4 -6 -7M469 777q-6 -6 -6 -11M795 721q-1 -4 -3 -8M488 724q-3 -4 -3 -8M809 743q1 -5 -0 -11M569 690q-2 -3 -1 -5M901 706q3 -5 1 -10M426 740q2 -7 -2 -14M1060 730q1 -3 -1 -7M524 734q0 -6 2 -12M756 701q-4 -5 -8 -10M498 769q0 -5 -0 -11M682 774q-2 -6 -6 -12M585 696q-3 -6 -4 -12M483 779q5 -4 6 -7M1036 750q4 -6 4 -12M891 791q1 -3 -1 -6M668 678q-2 -4 -1 -9M970 692q3 -6 -1 -12M1023 674q-0 -3 -3 -6M409 757q3 -5 3 -10M375 780q3 -6 0 -12M1142 724q-1 -6 -3 -11M929 753q-5 -4 -9 -9M373 778q2 -7 3 -13M844 749q-3 -6 -5 -12M726 723q-0 -4 5 -7M1106 721q0 -6 3 -13M1030 748q-0 -6 -4 -13M363 787q1 -4 -3 -9M532 702q-0 -3 -5 -7M672 677q-2 -4 -0 -9M685 783q-2 -6 0 -13M977 785q0 -7 1 -14M522 733q-0 -5 -2 -10M634 733q-1 -6 0 -11M848 673q-1 -4 -2 -9M741 687q-2 -3 -2 -6M1021 791q0 -4 1 -9M726 699q-2 -5 -0 -9M490 722q1 -5 1 -9M533 692q3 -5 2 -11M1138 742q1 -4 -0 -8M929 722q-1 -3 -2 -6M964 771q-0 -4 0 -9M597 672q-0 -3 -1 -6M1179 753q-2 -6 -4 -12M809 773q1 -4 0 -7M578 753q-1 -5 -1 -10M585 676q-2 -4 -1 -7M1099 720q-4 -2 -5 -5M940 671q2 -3 1 -5M460 774q-5 -6 -6 -12M429 750q7 -4 8 -8M1105 677q-5 -2 -6 -5M934 706q-4 -4 -4 -8M1027 731q-3 -6 -3 -12M1042 757q-1 -4 -2 -8M847 687q2 -4 0 -7M997 754q-1 -3 1 -6M631 701q2 -3 3 -6M1128 710q1 -5 4 -11M1124 727q-2 -4 -2 -7M579 756q-4 -7 -3 -13M866 733q-3 -4 -1 -8M913 723q3 -6 6 -11M1034 783q1 -3 2 -7M1071 672q-0 -3 1 -7M1123 702q4 -5 3 -11M1082 781q-2 -6 -2 -12M820 672q3 -4 2 -8M887 679q-2 -3 -1 -5M614 785q0 -6 -2 -11M459 717q2 -5 -2 -10M865 789q0 -6 -1 -12M616 753q-5 -3 -4 -6M700 734q-2 -5 -5 -10M938 684q2 -3 3 -6M705 670q1 -4 2 -8M605 725q-0 -5 2 -10M610 753q-4 -4 -8 -8M589 762q4 -6 3 -11M1067 731q-2 -6 -4 -13M435 734q-0 -4 2 -8M728 769q2 -4 -0 -9M1087 769q-0 -6 1 -13M959 746q-5 -3 -6 -6M700 761q1 -7 -3 -13M826 790q2 -6 2 -12M900 713q-5 -4 -6 -8M813 745q1 -6 -2 -11M594 759q-2 -5 2 -10M623 753q-0 -6 0 -13M610 674q-1 -4 -1 -8M1100 772q-2 -5 -2 -10M711 741q3 -4 2 -9M990 770q1 -4 4 -8M702 725q-4 -4 -8 -7M977 737q-5 -5 -3 -10M962 739q1 -4 -0 -7M895 770q-3 -3 -2 -6M463 750q4 -5 2 -9M582 683q2 -3 3 -7M911 733q-2 -6 1 -13M860 771q-3 -5 -0 -9M781 711q-0 -4 4 -9M1183 736q-1 -7 3 -14M1003 704q-4 -6 -4 -12M595 685q2 -4 2 -8M859 689q-1 -3 -3 -6M705 742q-5 -6 -6 -11M800 788q5 -3 3 -6M398 782q-1 -4 -4 -7M617 712q2 -3 4 -6M972 733q-3 -5 -2 -11M792 706q0 -5 2 -9M766 761q-4 -4 -3 -8M1038 670q1 -3 -0 -6M1023 754q0 -3 1 -7M527 725q-1 -7 -2 -13M527 760q-1 -4 -1 -7M902 682q-3 -4 -1 -8M1072 781q-3 -3 -4 -7M524 769q-2 -6 1 -12M637 762q3 -3 3 -6M435 730q1 -4 -4 -7M763 722q1 -6 -1 -13M715 783q0 -4 2 -8M671 710q2 -5 2 -10M1111 786q2 -6 -0 -12M745 774q-1 -4 -3 -8M967 750q-0 -6 1 -12M513 736q-4 -3 -3 -5M1104 789q-1 -4 0 -9M634 770q0 -6 -4 -13M574 677q-1 -4 1 -8M566 691q-2 -3 -3 -5M676 698q-3 -6 -2 -13M909 784q2 -6 -0 -11M565 763q-1 -3 2 -6M875 792q-2 -7 -0 -14M786 773q0 -5 -5 -11M372 766q-1 -5 -4 -9M799 789q-3 -6 0 -11M1057 673q1 -3 -1 -5M551 699q-1 -6 0 -12M498 693q-3 -4 -6 -8M1028 777q-0 -3 -3 -7M1155 781q3 -5 2 -10M519 773q-3 -5 -3 -9M552 784q-3 -5 -1 -10M791 735q-1 -4 -4 -8M1107 744q2 -3 0 -6M606 766q-0 -3 -0 -7M592 784q-2 -3 -3 -7M927 689q-4 -3 -7 -5M991 698q-1 -3 -1 -7M1154 736q-4 -5 -5 -11M419 768q-4 -5 -9 -10M1000 712q-3 -3 -5 -6M913 720q-0 -4 -3 -8M505 696q1 -7 2 -13M1100 755q2 -4 0 -8M684 694q1 -4 1 -8M782 773q-1 -5 -1 -10M852 734q4 -5 1 -10M530 712q-5 -4 -5 -9M869 731q-1 -5 -1 -9M861 694q-3 -6 -2 -11M530 713q1 -4 -1 -9M1063 671q1 -2 -2 -5M473 740q1 -3 1 -6M910 789q-1 -5 -4 -10M623 723q-4 -2 -4 -5M1146 784q-5 -5 -5 -10M1019 786q3 -3 1 -7M824 690q-0 -5 2 -10M719 722q-2 -4 2 -8M788 682q-2 -3 -3 -7M746 785q2 -5 3 -10M1056 691q-3 -6 -3 -11M686 726q-3 -6 -3 -13M572 776q2 -5 7 -11M1103 779q-5 -3 -8 -6M1008 672q0 -4 -0 -9M1053 704q1 -5 -1 -10M582 791q-3 -6 -2 -13M934 778q-3 -4 -6 -7M1053 767q-1 -4 -0 -8M979 691q-2 -4 0 -9M422 738q1 -6 4 -11M1104 767q0 -3 -0 -6M864 718q1 -3 -2 -7M1005 742q-1 -5 -1 -11M1060 779q3 -3 3 -7M1037 708q-3 -3 -3 -6M654 683q-3 -3 -1 -6M449 733q-0 -6 -0 -13M1066 782q-2 -3 1 -7M703 699q4 -5 4 -10M566 788q-2 -5 -3 -11M898 766q-3 -6 -4 -11M901 769q-1 -5 -6 -11M506 749q1 -6 -0 -12M594 674q3 -3 0 -6M898 725q-1 -3 -3 -6M492 773q2 -4 5 -8M404 777q4 -5 2 -10M547 679q-4 -3 -2 -6M881 679q-1 -3 3 -6M545 695q2 -3 -2 -7M1147 782q0 -5 1 -10M519 780q-2 -2 -6 -4M582 723q-3 -6 -6 -12"/>
<path fill="none" stroke="#8cc262" stroke-width="1.1" stroke-linecap="round" d="M786 695q4 -4 2 -9M852 702q0 -5 -1 -11M640 730q1 -4 2 -8M749 671q0 -3 -2 -6M852 711q1 -7 1 -14M932 729q-1 -3 0 -7M581 766q3 -4 3 -9M907 750q3 -6 2 -11M655 678q-3 -3 0 -7M853 682q2 -4 1 -8M1132 749q-2 -6 0 -12M845 709q1 -3 1 -7M901 721q1 -6 -2 -11M948 763q-1 -4 -3 -9M465 720q1 -5 -2 -10M673 738q0 -4 1 -9M1119 746q-1 -5 0 -11M341 786q-4 -3 -3 -6M709 784q1 -6 -4 -12M620 682q-0 -2 2 -5M982 690q-2 -3 -1 -6M604 743q-2 -6 -3 -11M1030 747q1 -7 -1 -14M651 711q2 -6 4 -11M583 756q-3 -5 -7 -10M800 742q-0 -4 -6 -8M934 718q-0 -5 4 -10M1144 783q2 -5 1 -9M521 774q2 -3 2 -7M477 705q2 -3 -1 -7M725 791q4 -4 4 -9M555 725q1 -7 -1 -13M775 685q1 -3 -0 -6M1039 707q-3 -6 -4 -11M474 770q-0 -4 -2 -8M1079 730q3 -5 0 -11M1019 681q-1 -3 1 -6M765 681q2 -3 1 -6M1109 691q3 -5 1 -9M642 733q0 -5 4 -11M805 727q-0 -5 2 -10M952 725q3 -4 2 -9M1026 685q-1 -3 -3 -6M720 744q-1 -6 -1 -12M484 700q0 -3 -3 -6M942 678q0 -4 -1 -8M617 766q-1 -6 -3 -11M1089 770q0 -4 -2 -7M592 718q-4 -6 -4 -11M1108 728q-2 -5 -3 -11M875 749q3 -5 -0 -10M487 718q2 -4 5 -7M561 706q-4 -5 -3 -10M960 781q-2 -4 1 -9M552 734q-2 -4 -2 -8M1100 695q-4 -5 -2 -11M782 746q-2 -6 -4 -13M1093 780q1 -3 -2 -7M771 786q1 -3 -2 -7M684 736q-2 -5 -3 -11M755 780q-4 -4 -6 -9M591 679q-2 -3 1 -7M429 735q-2 -7 -3 -14M1080 729q2 -3 2 -6M492 716q5 -4 5 -9M858 726q-3 -3 1 -6M843 776q0 -6 -2 -12M1087 694q-3 -5 -5 -10M652 760q2 -3 -0 -6M650 678q1 -4 3 -8M987 766q0 -4 0 -8M981 725q-2 -3 1 -6M915 684q-2 -3 -1 -6M547 764q-2 -6 1 -12M1010 733q1 -4 -2 -8M747 714q-3 -5 -4 -9M672 705q-0 -5 1 -10M862 706q1 -5 0 -9M517 731q3 -6 1 -12M969 712q1 -6 -2 -12M1009 742q0 -6 1 -13M666 678q-1 -2 2 -5M474 717q-0 -6 -3 -13M820 789q1 -6 -1 -11M1147 762q-0 -6 -3 -13M792 783q3 -7 -0 -14M673 778q0 -7 -3 -14M1042 773q-0 -6 5 -11M565 749q1 -3 3 -7M413 783q0 -3 -2 -7M554 744q-3 -6 -1 -12M1064 700q1 -5 3 -9M723 737q-3 -4 -9 -8M552 779q0 -3 3 -7M638 683q-3 -4 -3 -7M1184 762q-0 -6 -2 -13M983 757q-8 -3 -12 -5M1231 789q-2 -5 -2 -10M711 745q-2 -5 -5 -10M416 787q-4 -4 -4 -8M851 683q0 -3 -5 -7M666 789q-6 -5 -8 -10M1039 693q4 -6 6 -12M481 781q1 -4 -3 -8M732 750q-2 -3 -0 -6M1105 747q-1 -5 1 -9M784 692q2 -4 -0 -8M477 760q-1 -5 -3 -10M992 722q3 -5 1 -9M1101 737q6 -6 6 -12M979 703q7 -5 10 -10M653 679q-2 -3 -2 -6M746 787q-1 -4 3 -9M732 703q-3 -6 -3 -13M583 738q-2 -5 1 -9M994 702q-1 -5 -3 -9M1161 726q-1 -3 -2 -6M1008 771q2 -5 1 -11M929 738q-0 -4 2 -9M597 718q1 -6 -2 -12M646 754q1 -4 2 -8M893 763q-1 -4 -1 -7M557 719q-1 -4 -2 -8M646 753q-2 -6 -0 -13M1118 776q-3 -5 -5 -9M864 791q3 -7 2 -14M535 755q-2 -6 2 -11M1135 759q-2 -6 -6 -12M663 752q-1 -6 -5 -12M1024 773q2 -4 0 -8M684 727q-0 -6 3 -12M546 769q7 -4 10 -7M392 754q-1 -3 -0 -7M818 671q1 -4 -1 -8M587 745q0 -5 -1 -10M748 671q-1 -3 -4 -5M622 690q2 -4 1 -7M728 770q-0 -5 -7 -10M868 758q-3 -4 -4 -8M642 707q-2 -5 -5 -10M748 720q1 -4 -2 -8M631 770q-0 -5 4 -9M698 709q-6 -6 -6 -11M470 757q-0 -3 1 -7M779 674q1 -3 5 -6M690 747q-2 -4 -3 -9M875 674q2 -3 -0 -5M719 738q-3 -6 0 -12M511 752q2 -5 -0 -9M1081 740q-2 -6 -2 -12M809 747q1 -4 2 -9M708 722q4 -5 2 -9M598 756q3 -5 0 -9M1016 720q-1 -5 -5 -11M494 739q0 -3 -1 -6M1105 737q1 -5 0 -11M731 744q-1 -3 -6 -7M1163 775q2 -5 4 -10M942 716q-6 -6 -7 -12M520 707q5 -5 6 -11M547 755q1 -5 -1 -10M895 783q-0 -4 -3 -7M709 695q-4 -5 -2 -11M844 687q1 -4 2 -7M566 783q-1 -4 -3 -9M1169 773q-2 -3 -5 -5M631 689q-4 -4 -3 -9M643 689q-0 -3 -1 -5M1093 776q-3 -3 0 -7M437 773q-1 -6 -5 -13M1062 719q-3 -6 -2 -11M765 701q-1 -7 -4 -13M998 699q1 -5 1 -11M894 715q2 -3 0 -6M580 721q-1 -4 -1 -9M914 781q-3 -3 -7 -6M905 688q2 -4 -2 -8M1109 774q2 -7 -1 -14M733 719q1 -4 -2 -8M1136 711q2 -4 -1 -7M1177 763q-2 -5 -3 -10M758 761q2 -6 7 -11M773 791q-4 -5 -6 -10M989 698q2 -3 1 -6M1235 779q-0 -4 -0 -9M931 719q3 -5 0 -11M991 684q2 -4 -0 -9M695 725q3 -6 2 -12M859 768q-2 -6 -6 -12M492 718q-1 -4 -0 -7M671 722q4 -6 4 -11M439 749q-3 -6 -1 -11M655 672q2 -3 1 -6M549 708q-0 -4 0 -8M1127 785q-1 -4 -3 -8M668 769q-2 -4 -6 -8M989 769q-2 -4 -2 -7M743 734q-2 -4 -1 -8M899 784q2 -4 6 -7M666 743q-2 -4 -3 -8M420 766q-3 -5 -4 -9M881 723q4 -5 4 -10M569 729q4 -4 3 -7M1050 686q2 -4 3 -7M1110 791q-2 -4 0 -7M389 768q-4 -3 -2 -6M538 737q1 -3 -3 -6M1071 778q-4 -4 -2 -8M775 740q1 -6 -4 -11M1032 731q2 -6 5 -12M882 695q-0 -5 -0 -9M675 758q0 -3 2 -7M657 713q-2 -5 2 -11M995 756q0 -5 -3 -9M721 672q-3 -3 -4 -6M750 763q-1 -3 1 -6M714 778q-1 -3 1 -6M1066 787q-1 -4 3 -8M499 700q3 -5 5 -10M1044 678q-4 -3 -3 -6M732 685q-2 -4 -4 -8M871 715q-0 -4 -1 -7M520 753q3 -3 5 -7M853 693q-2 -4 -4 -7M687 685q-2 -3 -1 -5M981 719q-1 -3 -6 -5M769 731q-0 -4 1 -8M537 789q-2 -6 -5 -11M604 767q0 -6 -2 -13M915 671q-3 -3 -1 -7M450 722q2 -5 2 -10M581 739q-0 -5 -4 -10M525 719q-2 -5 -3 -10M707 672q-3 -3 -0 -7M1081 732q3 -7 1 -13M914 689q-1 -4 -0 -7M812 763q-3 -4 -2 -8M552 776q-1 -5 -0 -11M769 782q-7 -3 -9 -5M594 759q-6 -5 -8 -10M828 732q0 -5 5 -10M449 774q0 -3 3 -6M812 769q1 -3 2 -7M1080 780q-2 -5 -3 -11M666 727q-3 -4 -9 -8M1176 754q-3 -4 -10 -7M842 730q2 -4 2 -7M883 709q-2 -3 -3 -6M1067 713q-2 -5 -3 -10M1059 778q-1 -5 4 -10M984 752q-2 -5 -1 -10M747 741q1 -7 -3 -14M825 759q-0 -6 -0 -13M791 683q-1 -3 -2 -7M1003 719q-0 -3 -1 -6M735 707q2 -3 0 -6M1092 711q1 -3 -3 -6M381 771q-4 -5 -4 -10M723 713q-4 -4 -3 -8M767 774q-1 -5 0 -11M1177 791q-2 -6 3 -12M909 718q-3 -4 -4 -8M726 710q-5 -3 -5 -7M489 701q-2 -6 -5 -13M905 677q0 -3 -2 -7M820 752q0 -4 -0 -8M1127 752q4 -5 2 -10M1071 719q2 -4 -1 -8M967 689q-2 -4 -1 -9M545 768q-4 -5 -9 -9M397 781q-3 -4 -0 -8M1142 779q2 -4 3 -8M715 683q-3 -1 -5 -2M554 678q3 -3 0 -7M780 777q1 -4 0 -8M1171 747q-0 -5 3 -10M578 688q1 -4 -1 -8M1092 690q2 -5 3 -10M709 732q1 -6 -1 -12M515 784q3 -3 1 -6M739 739q-0 -7 0 -14M882 716q-0 -4 1 -8M787 787q-0 -6 -2 -13M914 690q3 -3 -1 -5M855 686q-1 -4 -2 -8M779 693q-7 -5 -9 -10M1022 707q1 -4 -2 -8M628 772q-3 -3 -3 -7M507 756q-1 -5 -1 -11M1076 707q-2 -5 -5 -10M688 764q2 -4 3 -8M619 689q1 -3 -2 -6M556 693q-2 -7 -2 -14M1251 790q4 -3 3 -7M1000 714q-3 -5 -2 -11M937 776q-3 -4 -5 -8M1102 725q-3 -5 -1 -11M1014 686q3 -3 -0 -5M782 736q-5 -3 -5 -6M623 777q5 -4 5 -7M906 750q1 -4 -2 -9M510 706q1 -7 2 -13M1105 742q-1 -4 -2 -9M1037 755q4 -6 6 -11M1033 698q5 -6 4 -12M955 740q-3 -5 -2 -10M788 740q2 -3 -1 -7M913 712q-1 -6 1 -13M909 789q2 -3 2 -6M840 779q-1 -5 -4 -11M529 706q-3 -5 -2 -9M959 748q-6 -4 -6 -9M562 768q-1 -5 -1 -10M903 777q2 -6 -0 -12M446 790q0 -5 1 -9M914 768q0 -6 -2 -12M980 714q-3 -4 -3 -7M561 725q1 -3 -4 -6M655 697q-2 -4 -1 -7M557 786q-1 -3 -2 -6M605 777q4 -6 2 -12M668 726q-1 -4 -5 -8M440 752q-5 -3 -6 -7M1013 705q-4 -3 -3 -6M596 680q0 -4 1 -8M1032 729q1 -3 1 -6M713 718q2 -3 -0 -6M810 720q1 -3 2 -7M451 758q-3 -3 -0 -7M610 672q-1 -3 1 -7M639 784q1 -6 1 -12M591 784q-1 -6 -0 -11M732 762q-1 -4 2 -8M751 778q-3 -3 -3 -7M916 731q-3 -6 -5 -13M851 760q-5 -3 -6 -6M1062 735q-4 -4 -3 -8M596 770q-3 -7 -1 -14M966 708q4 -5 2 -9M575 686q-2 -4 1 -8M962 680q3 -4 3 -7M1083 770q-4 -6 -6 -12M872 791q1 -6 -0 -13M791 767q0 -4 -1 -7M1082 788q-6 -6 -6 -12M778 776q3 -7 3 -13M813 736q-2 -5 -4 -9M1244 788q-4 -6 -3 -12M517 788q5 -5 5 -10M875 779q2 -5 -1 -9M579 721q-5 -3 -6 -5M698 752q3 -4 3 -8M1074 676q-5 -2 -4 -5M876 781q2 -3 -1 -7M1074 683q2 -4 1 -8M1035 756q1 -5 3 -10M1187 782q-2 -6 -7 -11M890 779q4 -6 2 -12M916 768q-2 -6 -3 -12M555 698q-1 -7 3 -13M719 694q-1 -6 -1 -12M807 749q4 -4 2 -7M879 705q-2 -5 -7 -9M791 704q0 -6 0 -13M1185 766q-3 -5 -4 -10M804 695q0 -3 -0 -7M753 711q-0 -4 -5 -7M492 699q0 -5 0 -11M616 678q-1 -2 -2 -5M552 788q-5 -5 -5 -11M1108 766q-0 -4 3 -7M659 734q-2 -6 -5 -12M370 767q1 -4 1 -8M576 707q1 -3 -1 -6M466 720q2 -6 1 -12M986 769q1 -5 -2 -9M962 714q-3 -7 -0 -13M998 739q0 -4 5 -8M688 681q3 -3 1 -6M1054 698q0 -4 1 -8M483 787q-3 -4 -5 -8M1021 675q0 -3 2 -7M754 699q-2 -6 -5 -11M936 673q-0 -2 -2 -5M623 741q4 -5 8 -10M987 768q3 -4 3 -9M952 695q-3 -4 -1 -8M541 677q-3 -4 -2 -8M557 701q1 -4 -4 -8M1129 784q5 -4 10 -8M737 684q0 -3 3 -6M657 764q2 -6 -1 -11M877 693q3 -3 0 -6M790 778q-2 -4 -3 -8M936 735q2 -5 1 -11M1025 735q-4 -4 -4 -9M600 788q1 -6 3 -12M1149 767q3 -6 4 -12M552 791q-2 -2 -9 -4"/>
<path fill="none" stroke="#8bb56a" stroke-width="0.8" stroke-linecap="round" d="M1206 833q-7 -9 -5 -18M485 838q-4 -9 -5 -18M1093 825q-1 -9 4 -18M957 816q-2 -10 -2 -19M394 836q-0 -10 -5 -20M810 826q-5 -9 -5 -18M1074 822q1 -18 6 -35M1146 819q-1 -18 -8 -37M804 843q3 -18 1 -36M964 821q9 -13 10 -26M810 835q-2 -20 -9 -40M649 835q-4 -10 1 -19M782 824q-5 -8 -4 -16M565 845q-3 -16 -13 -31M1056 826q3 -13 -3 -27M562 839q3 -11 -0 -22M770 829q7 -16 9 -32M898 841q6 -19 9 -37M509 835q-2 -8 -3 -17M464 818q-5 -9 -4 -19M954 821q3 -18 8 -37M1117 825q5 -12 11 -23M545 834q-0 -11 -3 -22M470 824q3 -15 9 -29M841 845q-3 -14 3 -28M1199 842q3 -21 3 -41M950 843q2 -10 8 -21M321 825q14 -14 22 -27M979 833q3 -20 1 -41M986 841q-3 -19 -11 -38M656 829q-4 -13 2 -25M1211 823q-2 -22 2 -45M906 827q5 -18 5 -35M934 835q5 -21 14 -42M813 825q6 -18 14 -35M330 842q-4 -21 1 -41M319 823q-8 -19 -6 -38M478 826q-3 -14 -1 -28M832 829q-2 -21 -5 -41M322 823q1 -17 4 -35M827 827q2 -16 7 -32M1224 842q-2 -15 -9 -29M368 828q11 -15 12 -31M665 838q5 -22 4 -43M922 827q4 -12 7 -23M702 833q-1 -10 -2 -19M1024 837q4 -15 1 -30M881 845q6 -12 11 -24M815 823q-2 -22 -10 -43M380 819q-3 -12 -7 -24M1156 825q-6 -22 -1 -44M656 846q2 -18 2 -36M365 843q-7 -8 -7 -16M637 826q1 -22 -0 -45M822 817q-3 -16 -6 -31M669 833q1 -11 -1 -22M1090 823q9 -10 9 -19M982 833q-0 -21 -10 -42M389 843q-10 -9 -10 -17M1179 823q-7 -10 -7 -19M795 830q1 -11 -7 -23M837 838q0 -13 1 -25M945 838q14 -19 25 -37M726 820q-3 -21 -8 -42M503 823q3 -14 9 -28M322 828q-0 -10 6 -21M408 838q8 -18 6 -36M458 822q3 -8 7 -16M735 832q-0 -17 4 -34M835 820q5 -14 7 -29M1015 822q-2 -15 0 -30M807 839q0 -16 9 -33M1033 830q-1 -10 -2 -21M1213 831q-4 -11 -8 -21M906 843q4 -11 6 -22M1071 829q-3 -10 -4 -19M512 838q-5 -10 -9 -19M909 818q-6 -17 -16 -34M577 845q-8 -18 -9 -37M989 821q6 -20 5 -40M1080 840q-8 -8 -8 -15M1228 831q3 -13 6 -26M931 820q3 -21 7 -42M988 829q8 -19 12 -38M620 838q-8 -18 -9 -35M1006 828q-8 -21 -13 -42M1049 821q4 -17 14 -35M325 842q6 -22 7 -43M344 829q5 -14 3 -28M1267 829q4 -11 3 -22M562 845q1 -12 7 -23M1265 819q5 -9 5 -19M414 832q2 -14 6 -27M366 830q-8 -21 -9 -42M665 842q-2 -12 -11 -23M1159 823q-3 -13 -5 -26M755 831q-2 -9 -1 -17M568 829q-2 -21 2 -41M352 829q2 -13 7 -25M959 817q-2 -19 -10 -38M563 819q1 -10 3 -21M490 816q-2 -21 -2 -41M790 816q-3 -10 -1 -19M707 821q-3 -21 3 -42M522 830q-0 -19 -2 -38M1129 838q-1 -19 5 -38M870 825q7 -20 12 -39M981 840q-6 -12 -12 -24M1000 819q-1 -22 -5 -44M1035 839q10 -21 17 -41M835 841q3 -17 10 -35M599 831q3 -12 2 -25M759 817q3 -8 2 -17M1133 844q3 -11 -3 -21M981 816q-5 -20 -5 -39M1211 819q-7 -15 -7 -31M1091 829q-4 -10 0 -20M1213 833q1 -15 6 -30M1152 829q-3 -15 2 -30M521 839q2 -20 -6 -39M1243 826q-1 -15 -4 -30M958 840q-4 -11 -4 -22M828 838q-4 -13 -2 -26M572 838q-6 -8 -5 -16M625 837q1 -18 2 -35M552 825q-5 -12 -5 -23M648 822q-2 -21 -11 -43M1077 824q7 -15 8 -29M659 818q-3 -15 4 -29M664 825q-5 -20 -4 -39M545 844q-4 -14 -4 -27M1003 845q-6 -19 -4 -37M1257 828q3 -13 -2 -26M986 838q-4 -12 1 -23M700 832q1 -17 -1 -33M923 817q3 -10 -1 -21M639 836q2 -19 9 -38M644 842q10 -16 11 -32M1067 830q0 -19 -4 -38M1021 823q-10 -17 -21 -33M324 842q-2 -12 -14 -23M700 835q-6 -18 -18 -36M927 821q-9 -16 -10 -32M943 823q1 -21 8 -42M898 833q-1 -9 -2 -18"/>
<path fill="none" stroke="#b3d095" stroke-width="1" stroke-linecap="round" d="M1103 841q14 -14 18 -27M381 831q2 -13 -3 -26M1202 816q1 -10 3 -21M350 832q-4 -22 2 -43M323 829q1 -19 -6 -39M599 822q-3 -15 -12 -29M644 822q2 -8 -0 -16M560 816q4 -12 2 -25M1266 820q3 -11 -0 -22M476 835q-3 -9 -5 -17M945 834q-4 -14 -1 -28M1226 823q-3 -8 -5 -17M665 838q-3 -15 -7 -30M1060 842q1 -10 -1 -21M546 845q-3 -15 -7 -30M490 819q-6 -22 -3 -44M1017 837q-3 -19 1 -38M354 834q11 -20 13 -40M688 845q-6 -14 -4 -29M316 821q2 -21 -4 -43M318 830q-3 -9 -4 -18M701 830q9 -16 17 -33M765 823q0 -13 -8 -26M810 827q-3 -13 2 -25M1106 825q5 -18 1 -36M677 817q6 -18 9 -35M537 827q6 -15 7 -29M1134 834q2 -16 -1 -33M1071 817q-2 -13 -9 -26M334 836q-1 -9 -3 -18M1188 843q-0 -14 -9 -27M575 833q0 -14 -4 -28M448 843q-4 -12 -2 -23M1211 829q0 -13 4 -26M551 821q-9 -13 -12 -26M880 837q-4 -13 -10 -25M708 823q2 -16 -1 -33M1134 833q1 -10 8 -20M933 816q-8 -14 -7 -28M660 837q2 -14 6 -28M917 832q-7 -21 -14 -42M1272 820q1 -8 -4 -17M360 839q3 -19 -1 -38M640 839q-0 -16 -0 -33M1218 832q3 -14 -0 -29M1015 833q-3 -21 -4 -42M950 828q-4 -9 -7 -18M692 829q-2 -17 -4 -34M729 836q5 -16 5 -31M715 845q6 -15 15 -29M1137 821q-6 -12 -3 -24M802 845q4 -16 -1 -31M405 820q6 -22 2 -44M381 820q-0 -11 1 -22M357 824q-3 -14 -7 -29M408 830q-5 -22 -4 -44M991 841q0 -12 -6 -25M707 837q-2 -15 0 -31M620 839q5 -14 3 -27M1069 844q-0 -14 -4 -28M379 845q6 -13 6 -26M705 838q-4 -9 -10 -18M448 842q7 -17 8 -35M1208 823q0 -11 -2 -22M1138 830q-4 -11 -10 -22M393 819q6 -21 7 -42M724 833q-5 -16 -12 -32M634 837q1 -12 -4 -24M909 843q-2 -13 -2 -26M935 819q5 -19 5 -38M894 837q-2 -20 5 -40M623 830q3 -18 10 -36M893 825q4 -13 3 -27M679 834q9 -21 12 -43M413 844q12 -11 21 -21M928 818q1 -11 7 -22M1134 831q-2 -15 -6 -30M490 825q-7 -10 -5 -21M422 819q6 -21 6 -42M324 827q-6 -13 -7 -27M940 844q-3 -14 -4 -28M827 840q-0 -13 -1 -25M827 832q-0 -13 -9 -26M589 840q6 -12 2 -24M1038 817q-2 -8 4 -16M482 819q4 -13 12 -27M508 840q-2 -10 0 -20M598 846q-2 -13 -1 -25M939 841q1 -11 4 -22M655 824q-4 -15 -2 -30M1129 816q1 -13 -2 -26M684 819q-10 -17 -14 -35M727 825q-3 -11 -7 -21M1188 839q-4 -10 -7 -20M1029 822q3 -17 3 -34M732 816q-9 -13 -14 -26M349 827q7 -15 16 -31M1246 829q-0 -13 -1 -26M536 825q-0 -11 -0 -21M1154 843q-7 -17 -9 -35M659 841q-0 -15 -1 -31M637 841q-5 -12 -4 -24M1049 833q5 -9 0 -18M734 841q3 -21 11 -41M1190 826q2 -16 -0 -32M840 838q-1 -20 -4 -40M895 826q7 -19 8 -37M364 841q4 -20 1 -40M564 838q6 -13 3 -26M609 822q7 -10 6 -21M795 840q-6 -13 -10 -27M746 829q2 -8 6 -16M863 836q13 -14 33 -28M701 845q3 -15 1 -31M1097 815q2 -8 0 -16M1215 822q-5 -21 -8 -42M813 821q-2 -10 -4 -20M867 842q7 -19 21 -39M584 839q4 -18 10 -35M575 824q-1 -14 -2 -27M786 831q8 -17 16 -35M647 841q-8 -19 -7 -38M990 837q1 -17 -6 -33M789 834q2 -11 6 -23M1160 844q1 -14 -4 -28M440 833q0 -12 -3 -24M880 835q-4 -9 1 -18M1041 834q3 -9 2 -17M937 831q-8 -13 -11 -25M1005 815q1 -19 -1 -37M666 846q5 -18 4 -35M342 816q0 -13 -5 -26M722 817q-1 -18 -4 -35M464 843q1 -14 5 -27M640 818q-7 -12 -7 -25M1021 819q-5 -20 -16 -41M534 839q6 -9 3 -19M913 817q-5 -9 1 -17M985 837q1 -10 7 -20M640 824q3 -15 -3 -31M1190 832q0 -14 -1 -28M1110 837q-5 -13 -6 -26M739 839q3 -17 11 -34M1178 835q-6 -13 -5 -26M1028 831q1 -9 -6 -17M776 828q9 -11 8 -22M559 832q3 -22 1 -45"/>
<path fill="none" stroke="#8bb56a" stroke-width="1.3" stroke-linecap="round" d="M1274 836q-9 -16 -13 -32M528 829q-1 -16 7 -33M668 838q7 -14 17 -28M1080 825q1 -16 -1 -32M967 823q-0 -9 1 -18M1215 823q6 -11 4 -22M900 831q-3 -15 -2 -30M578 818q6 -17 10 -34M1206 829q-6 -18 -10 -35M473 832q-1 -16 -10 -33M1232 817q2 -13 -3 -26M1136 841q-3 -19 -13 -38M541 817q5 -19 7 -38M1033 817q-1 -10 5 -20M804 837q1 -19 3 -39M616 816q-4 -16 -2 -33M991 833q-1 -16 0 -32M929 840q-1 -12 5 -24M605 821q5 -12 4 -25M416 817q-0 -14 3 -28M793 834q4 -16 8 -32M492 843q4 -19 6 -38M1170 844q-7 -14 -7 -29M747 826q4 -15 7 -29M693 842q-4 -13 -4 -25M392 842q-0 -12 -9 -24M920 839q-2 -13 -6 -25M1256 833q6 -11 5 -23M664 837q5 -17 13 -34M452 835q4 -12 4 -23M1111 839q6 -18 10 -35M1083 818q-7 -14 -6 -28M879 833q5 -18 5 -36M1122 827q3 -14 1 -27M1241 820q0 -20 8 -40M1251 832q-6 -13 -2 -27M586 822q-4 -19 -4 -38M686 845q4 -21 12 -42M1065 825q1 -21 6 -42M547 826q5 -12 6 -23M350 828q1 -8 9 -16M373 838q6 -19 18 -38M741 816q6 -17 10 -34M388 837q9 -17 9 -33M1195 842q-1 -16 -11 -32M524 838q-10 -16 -13 -31M637 836q1 -21 -6 -41M1177 830q1 -14 3 -27M1019 831q4 -16 -1 -33M758 819q3 -15 -3 -29M719 831q7 -9 8 -17M1277 825q-7 -20 -14 -40M1216 815q-3 -18 -2 -37M777 835q-8 -10 -7 -20M1176 839q-2 -15 0 -30M1083 816q-2 -15 3 -29M592 819q7 -10 5 -20M1097 824q-5 -19 -12 -38M629 819q-2 -15 -3 -30M603 830q5 -13 10 -26M1277 828q3 -22 5 -44M1265 825q-5 -8 -1 -16M537 840q2 -17 -0 -34M811 832q-8 -9 -8 -19M584 841q-5 -11 -4 -22M1256 836q-4 -19 -4 -37M368 817q4 -17 3 -35M696 841q-0 -18 -4 -36M935 816q-2 -17 2 -34M886 830q-3 -8 -9 -16M1213 835q-3 -17 -3 -33M447 831q4 -19 10 -37M1263 836q2 -13 -1 -26M1239 826q-3 -15 -7 -31M426 818q1 -22 -1 -44M456 829q-5 -13 -5 -26M412 816q-1 -12 -8 -25M673 818q4 -22 6 -43M828 815q8 -15 11 -31M435 819q1 -18 0 -36M1128 832q-6 -18 -8 -37M690 825q-7 -20 -19 -40M748 841q-0 -19 -8 -38M823 827q1 -11 3 -22M1143 845q1 -14 -5 -28M1094 844q-10 -18 -10 -36M1119 827q-2 -16 -8 -32M799 818q-2 -12 1 -23M1174 832q1 -17 10 -34M358 837q3 -14 -3 -28M1156 818q-3 -13 -12 -26M1024 845q-9 -15 -14 -31M1067 842q4 -20 6 -39M922 842q1 -13 -6 -26M336 837q-0 -21 -8 -41M914 816q1 -18 -3 -35M1139 834q-2 -10 -1 -19M581 842q2 -17 7 -34M1177 827q-5 -14 -14 -28M1131 830q6 -11 6 -21M485 821q2 -12 -4 -23M1018 835q10 -18 16 -36M600 823q5 -10 5 -20M687 815q-3 -14 3 -28M627 829q-6 -20 -6 -40M694 842q1 -19 2 -39M494 826q-6 -17 -10 -34M457 824q5 -9 3 -19M687 844q2 -13 3 -25M1045 842q2 -9 1 -19M934 831q-1 -14 -3 -29M422 818q1 -12 -4 -23M578 844q5 -11 16 -22M353 834q4 -22 5 -45M426 837q-10 -13 -12 -26M426 838q1 -13 5 -26M560 833q2 -11 -1 -22M788 825q2 -22 -7 -44M389 830q3 -21 9 -43M1108 816q-5 -16 -9 -33M386 846q-2 -22 -7 -44M663 831q5 -18 11 -36M1043 823q-6 -12 -2 -23M583 833q6 -11 4 -21M319 816q-6 -17 -8 -33M1239 842q-0 -19 1 -38M400 833q2 -20 5 -39M978 820q-0 -21 9 -43M1210 835q-0 -22 6 -44"/>
<path fill="none" stroke="#a9c98a" stroke-width="0.8" stroke-linecap="round" d="M1238 824q-3 -11 -4 -21M452 830q-1 -8 -0 -16M1266 835q-0 -9 -1 -18M1203 840q-2 -16 1 -32M1048 845q-5 -17 -7 -34M1094 832q5 -15 4 -29M1014 819q-2 -21 -12 -43M1258 844q5 -8 -0 -16M912 816q-4 -18 -0 -35M338 816q1 -12 4 -24M610 833q4 -12 5 -24M1250 829q0 -12 -2 -24M1189 835q3 -9 6 -17M909 820q-3 -16 2 -32M650 819q-1 -10 -7 -19M518 844q-2 -11 0 -23M1207 842q2 -15 1 -29M971 830q-6 -11 -4 -21M938 830q6 -12 6 -24M997 835q9 -20 10 -40M814 837q-4 -14 -8 -28M340 829q2 -10 -1 -20M677 819q-2 -11 4 -23M997 816q1 -16 3 -32M705 815q-1 -16 8 -32M683 836q-9 -10 -9 -21M561 832q4 -13 7 -25M1039 817q13 -18 18 -37M635 841q-7 -10 -11 -21M1278 825q-7 -14 -5 -27M920 821q-2 -9 3 -18M505 844q-5 -15 -7 -30M344 844q5 -17 4 -33M1142 840q5 -11 3 -22M388 842q12 -16 17 -33M1025 824q-6 -8 -3 -16M932 844q7 -22 12 -43M1128 823q-14 -18 -26 -35M738 825q-2 -19 1 -39M989 822q-3 -11 -4 -21M832 826q2 -9 3 -18M1039 822q-7 -16 -9 -33M434 839q3 -20 8 -40M438 829q4 -15 5 -30M1186 829q-0 -10 -5 -19M464 824q-5 -19 -5 -38M753 824q0 -10 -3 -19M588 830q4 -21 -1 -41M925 815q7 -17 7 -35M819 839q11 -9 13 -17M960 819q7 -20 9 -39M701 830q-3 -11 -4 -23M643 822q-11 -12 -14 -23M940 836q1 -9 9 -18M803 834q-4 -15 -1 -31M608 842q0 -8 -5 -16M829 839q-1 -14 -8 -27M1066 842q-0 -10 1 -21M800 845q2 -8 2 -17M464 825q-1 -8 3 -16M1122 823q-7 -11 -8 -22M1012 816q3 -13 1 -26M523 838q3 -19 9 -38M667 834q5 -21 6 -42M612 826q-7 -22 -10 -43M410 826q3 -19 8 -37M370 828q-6 -20 -6 -40M990 826q-5 -17 -9 -34M621 844q6 -14 5 -27M736 820q-4 -19 0 -38M1088 836q0 -8 -4 -16M1238 828q-5 -11 -3 -23M361 818q-9 -19 -8 -39M1025 842q-7 -15 -7 -30M1031 819q-13 -15 -22 -29M981 841q7 -10 11 -20M810 831q-2 -14 3 -27M1051 826q-0 -11 4 -21M1204 818q3 -21 2 -42M1007 832q-3 -19 -6 -38M345 826q2 -18 9 -37M690 833q2 -16 6 -32M682 837q0 -11 2 -23M475 826q-1 -20 2 -40M1202 846q-5 -13 -0 -26M1110 827q3 -19 11 -38M1235 820q-2 -9 -5 -18M1105 823q-8 -9 -6 -18M631 829q6 -13 4 -26M1122 817q1 -17 -6 -34M522 840q6 -18 4 -35M795 837q-5 -9 -6 -19M489 840q1 -13 -1 -26M594 836q2 -14 7 -29M696 829q4 -10 -2 -20M1211 819q-5 -19 -19 -37M685 845q6 -15 5 -30M1170 825q-2 -19 -3 -38M475 818q6 -19 3 -37M1222 833q4 -21 3 -42M365 822q-5 -9 -1 -17M493 842q3 -16 5 -32M1059 833q7 -8 7 -16M927 822q3 -16 5 -31M1058 836q-4 -18 0 -36M1222 831q2 -19 14 -39M489 824q-1 -13 6 -26M889 816q-2 -14 5 -29M962 823q2 -21 8 -42M490 828q-5 -22 -2 -44M674 835q-3 -17 -2 -35M717 841q4 -21 -0 -42M1252 832q6 -21 7 -41M667 825q-0 -8 -5 -17M431 817q0 -11 1 -23M984 844q3 -13 -3 -26M809 819q1 -10 4 -20M381 830q-3 -17 1 -35M899 827q0 -12 -7 -24M1114 823q3 -8 5 -16M355 841q-4 -15 1 -31M929 833q-2 -14 5 -27M870 834q-5 -11 -6 -22M851 841q-9 -21 -8 -42M910 844q-3 -16 2 -32M985 823q2 -20 5 -40M954 843q4 -14 -2 -29M752 843q-3 -16 -11 -31M1243 819q3 -15 1 -29M906 835q0 -20 3 -40M1227 824q5 -16 7 -32M1122 816q1 -11 11 -21M944 844q-5 -10 -2 -20M1084 838q-3 -12 -2 -25M617 820q-6 -19 -13 -38M570 821q-3 -18 0 -36M542 841q1 -12 -1 -25M812 840q-8 -16 -14 -32"/>
<path fill="none" stroke="#8bb56a" stroke-width="1" stroke-linecap="round" d="M827 824q-2 -11 -8 -22M923 835q5 -13 -0 -25M863 819q-2 -19 0 -38M1218 817q4 -21 -2 -43M737 831q-3 -13 -12 -25M1156 823q-6 -8 -5 -16M1243 838q-5 -16 -11 -32M495 842q-1 -8 -8 -16M631 833q8 -18 22 -36M737 820q5 -20 2 -40M1167 820q2 -16 8 -32M1079 846q-4 -14 0 -29M774 836q4 -11 6 -22M821 844q-1 -17 2 -35M1107 818q-7 -17 -9 -34M670 835q-1 -8 0 -17M357 838q-4 -5 -13 -11M679 835q4 -10 3 -20M757 827q4 -8 3 -16M629 834q-3 -11 -1 -22M856 842q-3 -22 -9 -44M768 815q-3 -19 -5 -38M1234 820q-5 -8 -4 -16M1018 827q0 -15 -6 -31M1265 831q-5 -19 -1 -37M1158 838q-2 -14 -2 -27M676 838q4 -11 -1 -23M407 840q-1 -10 -1 -21M947 839q-5 -15 -6 -30M504 828q-4 -12 -7 -23M430 841q1 -20 -5 -39M957 828q-2 -12 -10 -24M871 844q-6 -17 -7 -35M543 842q3 -9 5 -19M475 820q5 -12 10 -25M663 827q2 -17 -0 -34M1199 815q3 -17 2 -34M493 829q-12 -20 -17 -40M957 825q5 -17 6 -34M763 834q5 -14 2 -27M359 830q4 -10 10 -19M491 835q-2 -14 5 -29M1279 824q0 -9 -5 -17M421 843q-1 -14 5 -28M448 838q6 -16 7 -31M381 837q3 -20 11 -40M566 821q0 -18 2 -36M612 817q-4 -16 -1 -33M1010 823q3 -16 5 -32M993 845q2 -12 2 -24M867 843q3 -13 9 -25M1020 826q8 -9 11 -19M1009 845q-1 -9 -1 -17M1033 843q-17 -19 -24 -37M1205 830q-6 -12 -9 -24M1067 834q0 -10 -1 -21M1015 845q-6 -21 -8 -42M797 832q-3 -11 -1 -23M669 825q-5 -9 -1 -17M561 830q6 -14 7 -27M471 818q-2 -12 4 -24M658 823q0 -22 1 -45M404 841q-5 -13 0 -25M1167 817q-2 -12 -3 -25M371 827q-0 -17 3 -34M905 841q2 -18 2 -36M1139 826q-4 -14 -13 -27M491 835q1 -13 -3 -26M1038 821q-6 -19 -4 -38M684 822q7 -20 20 -40M593 820q10 -15 13 -30M1018 838q4 -17 4 -34M1273 820q-1 -10 -0 -20M659 843q-13 -13 -20 -25M420 829q-4 -10 -2 -19M815 827q13 -15 20 -30M1179 819q2 -11 0 -22M683 833q-8 -13 -12 -27M788 823q-5 -14 -9 -28M390 826q6 -11 3 -23M939 835q-3 -9 -4 -18M992 834q2 -11 2 -22M850 844q-2 -15 5 -30M646 829q-4 -8 1 -17M1145 835q-1 -18 -9 -35M673 821q-6 -9 -4 -18M730 840q10 -21 11 -42M395 817q-7 -17 -5 -33M858 819q2 -10 2 -20M974 835q-5 -19 -3 -38M1024 829q-4 -19 -1 -39M416 841q2 -13 -1 -25M971 819q5 -21 8 -43M586 816q1 -11 -2 -21M698 840q2 -14 2 -27M1084 845q6 -16 3 -32M887 828q11 -16 19 -32M403 832q-6 -12 -13 -23M1072 844q-6 -18 -3 -36M886 821q-0 -21 -8 -43M719 823q-13 -16 -19 -33M321 827q-0 -13 -1 -25M540 844q2 -13 6 -26M694 824q4 -9 3 -18M395 826q-0 -11 -1 -21M987 820q-2 -13 5 -27M591 818q0 -14 4 -27M721 838q-5 -18 -10 -37M508 843q0 -18 -7 -35M325 828q-7 -19 -18 -38M1126 822q-2 -18 4 -35M779 839q3 -21 -4 -42M344 829q-2 -8 2 -17M843 843q0 -16 -3 -32M927 839q-5 -17 -18 -34M353 824q1 -17 11 -33M444 837q-5 -11 -3 -22M928 823q9 -19 15 -38M1073 818q3 -22 -2 -45M449 834q-0 -14 4 -28M507 827q-3 -14 -1 -27M844 843q6 -19 10 -39M586 822q2 -16 2 -33M1160 838q0 -14 -1 -27M1126 818q-6 -10 -5 -19M623 826q7 -21 12 -41M664 843q-3 -9 1 -17M792 830q-0 -10 1 -21M1149 831q0 -21 -8 -43M1067 843q-2 -18 2 -37"/>
<path fill="none" stroke="#b3d095" stroke-width="0.8" stroke-linecap="round" d="M773 819q4 -19 -1 -39M1244 829q1 -22 1 -44M983 834q-3 -18 -15 -35M1154 836q-2 -15 -1 -30M1260 845q9 -11 8 -23M316 827q-5 -20 -14 -39M1200 846q11 -15 13 -29M529 820q7 -18 10 -35M851 832q-5 -11 -13 -21M433 835q-2 -19 -4 -38M770 846q-7 -18 -6 -37M377 818q-6 -9 -5 -17M620 823q4 -15 7 -30M910 815q6 -20 15 -40M932 831q-6 -8 -3 -16M506 842q-0 -12 -0 -25M409 843q-2 -14 2 -28M352 828q-2 -12 -2 -25M1260 826q4 -16 -1 -31M829 833q-4 -20 -1 -41M536 835q-4 -13 -3 -26M1075 820q-13 -19 -16 -39M1156 839q1 -11 -6 -22M420 826q3 -20 5 -41M579 822q-3 -9 -3 -19M398 845q-2 -9 -5 -18M1229 825q-2 -9 -2 -18M555 828q4 -9 -2 -19M926 818q3 -19 -4 -38M637 832q8 -14 14 -28M519 840q7 -19 11 -39M785 837q1 -16 -7 -31M662 819q8 -17 6 -33M1248 824q3 -15 4 -30M1070 818q-9 -16 -25 -31M493 839q5 -10 3 -21M547 819q1 -12 1 -23M479 831q3 -10 10 -21M1165 844q-5 -18 -11 -36M1156 840q-1 -17 -2 -35M1139 826q8 -9 10 -19M516 823q-5 -11 -5 -22M1181 831q2 -14 -1 -28M1263 843q-0 -8 6 -16M1197 822q5 -19 17 -37M1121 834q-8 -19 -7 -37M380 836q-0 -14 8 -28M931 844q-5 -12 -3 -24M841 838q-4 -18 -3 -36M1234 826q0 -17 -4 -34M680 826q1 -16 -4 -32M1029 834q-2 -11 4 -23M1235 837q6 -11 10 -22M1030 830q-6 -14 -11 -28M851 815q-6 -11 -2 -23M556 837q-2 -8 2 -16M958 821q0 -14 -10 -28M415 829q2 -14 4 -29M637 824q-3 -14 -3 -28M437 819q-2 -10 6 -19M632 835q-0 -17 -3 -35M1036 832q5 -22 3 -44M763 830q-6 -17 -10 -34M421 830q-4 -21 -0 -42M809 827q-3 -17 -2 -34M504 828q-1 -20 -4 -39M408 843q1 -13 11 -26M494 831q8 -17 9 -34M759 836q11 -11 17 -22M328 821q4 -18 1 -36M479 834q-6 -13 -5 -26M321 831q-6 -12 -4 -24M576 822q2 -12 9 -25M839 836q3 -22 4 -44M683 833q5 -19 14 -37M1273 830q1 -10 1 -20M536 822q-0 -17 -10 -33M346 818q4 -17 17 -34M387 831q6 -22 6 -44M459 840q-2 -16 -11 -32M983 843q-2 -14 -3 -29M1110 829q3 -16 -3 -32M1209 834q-4 -12 0 -25M1155 817q-1 -8 3 -17M1000 843q-3 -21 1 -42M1258 835q0 -14 8 -28M776 823q4 -21 3 -41M810 832q-12 -18 -16 -36M1250 822q-2 -21 -2 -41M752 821q-5 -8 -5 -16M626 834q2 -16 -6 -31M552 835q-5 -10 -2 -21M434 835q0 -19 7 -37M1076 844q-1 -19 8 -38M1054 816q8 -15 19 -30M657 837q1 -18 0 -36M860 831q-5 -16 -12 -32M557 818q-3 -13 1 -26M1250 817q-0 -12 1 -24M569 837q5 -10 2 -20M944 839q-8 -14 -25 -27M709 821q5 -20 16 -41M1095 836q-3 -9 5 -17M577 832q11 -20 18 -40M587 831q4 -18 3 -36M420 841q-3 -21 -1 -41M629 844q-2 -10 -9 -20M387 830q3 -11 3 -23M917 829q-6 -15 -4 -30M732 822q7 -17 8 -34M1225 826q-12 -13 -19 -27M1163 828q2 -15 1 -30M1176 828q-3 -21 0 -41M600 838q-5 -13 -5 -27M781 844q1 -11 9 -22M623 828q10 -8 12 -16M666 822q7 -20 7 -39M352 826q8 -12 10 -24M951 828q-2 -8 3 -16M865 845q-0 -13 -2 -26M885 830q5 -14 1 -28M1239 838q-4 -9 1 -19M918 829q-0 -19 3 -37M740 841q4 -20 -2 -40M512 836q0 -11 1 -21M368 821q-4 -16 -4 -33M777 845q6 -21 10 -42M1054 839q4 -16 7 -32M970 842q-0 -10 5 -21M1251 824q10 -8 10 -16M885 820q4 -16 5 -33M587 825q0 -12 -8 -25M431 832q4 -13 12 -25"/>
<path fill="none" stroke="#7aa55a" stroke-width="1" stroke-linecap="round" d="M1107 827q-0 -13 5 -26M679 842q-3 -18 -15 -36M1074 839q0 -13 -0 -26M440 845q-1 -12 5 -23M623 816q-4 -15 1 -30M1088 843q-6 -9 -8 -18M524 828q6 -16 5 -32M1220 818q0 -14 -1 -29M334 834q-4 -22 -9 -44M1146 820q0 -13 -5 -25M477 821q7 -17 5 -33M458 835q-6 -11 -5 -23M1209 836q1 -21 8 -42M529 837q-1 -10 -1 -20M988 838q-9 -20 -9 -41M744 844q-2 -11 1 -23M504 824q4 -21 16 -41M729 821q-0 -16 -10 -32M1278 815q7 -20 6 -39M1150 838q7 -9 7 -17M1188 828q1 -18 10 -36M480 820q-0 -12 3 -25M448 838q2 -16 3 -32M446 821q-0 -18 8 -36M1128 839q6 -20 5 -40M1161 827q-4 -19 -15 -37M1230 820q-0 -16 4 -31M1157 844q6 -20 3 -40M397 841q-0 -13 -3 -26M1210 838q-8 -20 -14 -40M598 816q1 -20 4 -40M586 824q11 -12 13 -25M859 831q0 -8 -4 -16M1235 846q8 -18 21 -36M531 833q-1 -17 -1 -35M688 832q3 -9 4 -17M659 830q-1 -9 -5 -18M469 830q-5 -13 -2 -27M783 844q0 -9 -2 -18M1195 832q-10 -17 -9 -33M1112 831q6 -12 9 -23M830 843q-9 -18 -15 -36M325 832q-4 -11 -5 -23M1086 833q-1 -9 -3 -17M461 833q-3 -9 3 -17M408 818q-1 -9 1 -18M563 826q3 -20 1 -40M409 833q6 -21 3 -42M1004 816q-2 -13 -1 -25M328 840q2 -14 -4 -28M1120 834q-1 -20 5 -40M891 820q-4 -16 1 -32M1068 838q4 -21 1 -43M1153 837q1 -13 -2 -27M647 841q-1 -9 3 -18M822 817q-4 -22 2 -44M1064 832q5 -21 7 -41M406 840q-1 -8 0 -16M532 820q-5 -12 -7 -24M486 824q-5 -18 -9 -36M734 840q-2 -15 1 -31M949 845q-1 -10 -6 -19M912 823q-6 -8 -3 -17M544 844q-1 -14 -4 -28M753 821q-6 -14 -15 -29M1122 826q-4 -22 -5 -44M490 830q1 -17 5 -34M793 832q-1 -14 1 -29M329 829q-8 -14 -13 -27M1039 821q-3 -16 -13 -32M941 834q-7 -19 -14 -38M373 845q-1 -22 6 -43M702 815q-6 -16 -2 -31M423 823q0 -17 -2 -34M957 839q14 -17 23 -34M641 828q-2 -20 -3 -40M325 835q-0 -11 7 -21M401 841q-4 -21 -2 -42M607 827q-0 -21 6 -42M368 826q-2 -20 -6 -40M559 825q-4 -9 -1 -17M814 840q-5 -15 -7 -30M765 834q9 -20 16 -41M1223 820q-12 -17 -14 -34M834 843q-1 -13 7 -25M1046 838q-1 -10 4 -21M1068 824q-4 -17 -2 -33M1106 815q0 -19 4 -37M1217 835q0 -12 -3 -25M488 819q4 -11 5 -22M1202 826q5 -12 9 -23M450 843q-1 -15 -11 -30M996 840q-3 -10 3 -20M1054 843q-0 -22 6 -44M671 837q-5 -9 -2 -19M1190 827q-3 -13 -3 -25M966 823q4 -8 6 -16M1094 835q-3 -22 3 -43M746 826q-2 -11 -0 -23M1265 842q-0 -21 8 -42M423 840q2 -18 0 -37M389 844q-9 -15 -10 -31M1178 831q-1 -9 -3 -17M460 832q-5 -22 -4 -44M984 817q5 -15 7 -30M1212 843q5 -17 2 -34M937 818q5 -11 5 -23M762 824q-3 -13 -6 -25M1063 826q3 -11 2 -22M822 820q-1 -8 5 -16M697 819q-4 -19 -6 -37M1176 829q9 -18 16 -36M439 843q8 -15 8 -31M365 819q2 -13 1 -25M918 839q0 -16 -2 -33M565 820q1 -13 -7 -26M1160 828q2 -13 -3 -26M1009 834q-2 -17 -4 -34M1174 837q3 -9 -2 -19M968 834q-4 -12 -7 -25M809 841q0 -13 -5 -25M1140 819q6 -8 3 -17M1148 816q-4 -9 -1 -19M1114 835q2 -11 -3 -22M514 823q-10 -18 -18 -37M318 815q2 -11 -4 -23M622 845q5 -12 11 -25M1240 845q-3 -20 -6 -41M1275 832q-3 -18 -4 -35M555 837q4 -13 3 -26M1106 839q-5 -17 -7 -34M630 819q-2 -12 -3 -24M1231 831q2 -21 13 -41M932 842q-6 -20 -14 -39M1181 827q-11 -16 -15 -33M1082 822q-2 -15 3 -31M1027 827q-8 -14 -18 -28M539 818q-1 -22 7 -44M569 819q-6 -15 -4 -30M1000 844q-1 -11 1 -21M621 845q14 -18 25 -35M678 832q6 -9 4 -19M1187 838q-1 -21 0 -43M1019 839q-13 -18 -17 -36M979 821q-5 -18 -9 -36M1097 815q-13 -16 -29 -32M1061 843q-8 -10 -13 -21M674 845q1 -16 2 -32M770 815q1 -17 -1 -34M643 836q-10 -13 -11 -27"/>
<path fill="none" stroke="#a9c98a" stroke-width="1.3" stroke-linecap="round" d="M913 820q0 -20 -3 -41M1177 838q10 -18 19 -37M1006 816q-0 -19 8 -38M1143 825q4 -9 -0 -17M1020 840q0 -10 -5 -20M949 837q-1 -15 1 -29M991 845q0 -14 10 -29M417 821q1 -18 -2 -36M509 828q6 -18 4 -35M638 845q-6 -10 -13 -20M910 830q-2 -17 4 -35M1273 817q-5 -13 -8 -25M796 826q-10 -13 -22 -27M901 818q-4 -19 -5 -39M899 838q2 -12 1 -25M905 840q-3 -19 -10 -38M871 845q-4 -19 -7 -38M948 828q-2 -10 4 -19M900 822q6 -19 12 -39M866 829q-4 -21 -3 -42M581 836q-0 -12 -4 -23M452 845q-4 -11 -3 -22M808 836q1 -18 7 -36M1176 831q-4 -10 -2 -19M1091 829q-6 -14 -5 -27M643 845q-9 -13 -10 -27M661 833q5 -18 1 -36M1073 833q1 -9 6 -18M1084 819q0 -8 2 -16M1099 815q3 -12 -3 -24M728 817q4 -20 2 -40M1184 836q-0 -19 -10 -39M546 839q-1 -19 -1 -38M1040 820q-2 -13 5 -27M900 831q2 -8 3 -16M603 837q-2 -11 -2 -23M472 833q1 -20 2 -40M763 823q3 -9 7 -18M762 839q-5 -15 -5 -30M1199 819q1 -13 -5 -26M629 838q1 -11 1 -22M927 818q-6 -21 -10 -42M496 817q-3 -22 5 -45M434 821q1 -13 -2 -27M1075 831q-4 -18 -10 -37M764 835q0 -13 -0 -26M972 826q-4 -19 -10 -38M1188 831q12 -18 16 -35M754 825q8 -13 7 -26M439 837q6 -19 5 -39M1259 829q-2 -9 5 -18M1242 841q-3 -19 -2 -38M388 816q-4 -21 -2 -41M997 843q2 -17 8 -33M526 834q4 -14 3 -28M1173 840q1 -18 7 -35M642 829q-1 -10 -1 -21M1118 833q2 -13 -5 -25M809 825q-1 -18 7 -36M1165 820q-2 -12 2 -24M669 815q-8 -14 -21 -28M791 821q6 -9 2 -19M715 834q4 -12 6 -24M1274 820q-2 -21 -12 -43M982 831q-2 -11 5 -21M1143 845q1 -9 9 -18M633 833q-4 -10 1 -19M441 830q1 -10 5 -19M681 836q-2 -12 -1 -23M332 831q-6 -13 -4 -26M788 827q6 -15 3 -30M809 843q3 -20 3 -41M381 840q-5 -20 -19 -40M510 819q-9 -18 -13 -37M904 825q-1 -19 0 -39M1239 824q9 -17 10 -34M688 831q3 -16 10 -31M994 843q-5 -21 -7 -42M1145 822q5 -13 3 -26M1063 826q-2 -14 -3 -28M657 841q5 -16 5 -31M525 835q-8 -20 -13 -39M400 842q1 -11 11 -22M1132 835q3 -14 2 -28M528 827q-6 -9 -2 -19M1098 822q4 -16 3 -31M871 839q3 -17 11 -35M367 842q-2 -8 2 -17M881 843q-0 -21 -7 -42M483 823q1 -18 3 -35M966 843q2 -8 -2 -17M465 817q8 -15 7 -29M788 833q0 -11 6 -22M580 832q2 -15 3 -30M339 829q-4 -16 -3 -32M727 843q-3 -20 -16 -40M321 825q-2 -20 -7 -41M1225 822q-0 -8 0 -17M861 821q-1 -22 0 -43M918 821q5 -15 1 -30M931 845q-4 -12 -18 -23M406 828q5 -9 11 -18M1057 817q8 -18 8 -35M843 836q1 -15 -7 -30M1149 817q8 -20 9 -39M470 825q-4 -17 -2 -35M936 836q-9 -11 -9 -22M966 828q5 -20 4 -41M912 841q-3 -11 -4 -22M1057 832q2 -17 3 -34M474 828q-0 -14 3 -29M969 826q-2 -20 -11 -41M541 834q1 -8 4 -16M471 831q-7 -17 -9 -33M1225 820q3 -22 -1 -43M1124 835q5 -21 3 -42M763 820q-1 -8 4 -17M326 825q-3 -8 -5 -15M1006 824q-8 -7 -9 -15M997 818q-2 -17 -11 -34M1115 819q8 -21 13 -41M405 843q-7 -9 -5 -19M672 820q-3 -21 1 -42M755 815q-9 -19 -12 -38M741 836q-3 -20 -5 -39M384 819q-2 -10 -9 -19M1041 822q5 -13 13 -25M1182 837q2 -12 2 -25M939 823q5 -17 0 -34M970 845q6 -21 8 -41M456 839q3 -16 0 -31M397 840q-2 -12 2 -23M723 839q1 -13 -7 -25M536 843q-7 -16 -9 -31M430 836q1 -17 -4 -35M403 841q-3 -12 -2 -24M1240 842q5 -11 1 -23M1048 842q4 -18 4 -37M1279 823q-8 -20 -11 -40M998 833q-7 -19 -8 -37M1266 833q-1 -15 -2 -31M740 827q5 -9 3 -19M352 843q-7 -12 -12 -25M1056 820q-4 -17 -4 -35M1249 824q-9 -19 -15 -38M882 844q2 -19 9 -37M924 827q1 -16 -2 -31M769 835q-4 -9 0 -19M972 836q-2 -9 3 -18M815 828q-2 -10 -1 -20M1228 843q-3 -11 -0 -23"/>
<path fill="none" stroke="#7aa55a" stroke-width="1.3" stroke-linecap="round" d="M1067 831q9 -17 13 -34M807 842q-7 -21 -8 -43M1051 818q-0 -19 1 -38M829 828q0 -18 7 -37M1000 820q8 -15 14 -29M495 828q3 -19 5 -39M1028 821q-1 -9 5 -18M412 846q2 -13 -2 -27M957 824q-13 -14 -16 -28M585 833q1 -8 -0 -16M1210 824q2 -18 -2 -37M1163 845q-2 -12 3 -24M673 828q2 -21 1 -42M363 819q5 -14 5 -29M452 842q-4 -15 3 -31M543 840q-8 -19 -6 -39M1083 832q-4 -7 -11 -14M512 817q-7 -9 -5 -18M1274 833q12 -13 15 -26M980 842q-1 -11 5 -22M862 844q1 -11 6 -23M851 832q2 -14 -4 -29M1269 824q-6 -21 -8 -42M1260 831q3 -12 -1 -24M1034 824q-2 -14 1 -27M697 817q-4 -9 0 -17M1070 843q-1 -22 -8 -43M1246 818q-5 -14 -5 -28M1074 843q-3 -15 -4 -30M632 840q-2 -11 -10 -21M1124 834q2 -16 8 -32M403 827q-0 -14 -10 -28M574 838q-3 -15 -2 -30M476 825q-2 -21 -14 -42M330 835q-4 -13 -7 -27M602 830q-4 -13 -4 -27M889 842q3 -19 12 -38M1121 829q-2 -15 3 -30M636 835q0 -12 1 -24M754 820q-3 -21 -13 -42M374 846q11 -14 14 -29M1138 820q1 -15 7 -30M385 817q-3 -21 -15 -41M438 843q2 -10 -0 -19M747 819q5 -18 1 -36M497 825q-7 -20 -9 -40M1248 826q3 -13 5 -26M632 820q1 -9 6 -18M1063 830q5 -22 4 -45M969 832q-1 -10 -8 -20M674 842q-1 -9 3 -19M1152 827q-5 -16 -2 -33M556 838q-0 -20 -8 -40M574 818q-3 -11 1 -22M492 838q8 -14 9 -29M570 845q6 -15 6 -29M548 829q1 -17 6 -33M1159 837q1 -14 5 -28M912 831q4 -19 10 -38M649 824q9 -21 12 -43M351 842q-0 -11 3 -23M1260 820q-7 -19 -4 -38M643 838q-6 -21 -4 -43M470 829q-8 -13 -11 -25M917 836q1 -12 6 -24M965 826q4 -18 -2 -36M689 845q2 -12 4 -24M757 819q-1 -15 -8 -30M522 841q3 -15 5 -29M957 834q0 -16 10 -33M474 829q1 -20 0 -39M1144 828q4 -14 -1 -28M768 819q5 -18 10 -35M497 834q-2 -22 -7 -44M844 840q4 -19 15 -37M959 822q-0 -18 5 -36M712 829q6 -12 2 -25M352 821q-8 -13 -7 -26M334 842q5 -14 2 -28M440 844q1 -19 -2 -38M385 842q-9 -19 -17 -37M637 840q2 -18 -2 -36M462 845q-4 -14 -7 -28M1137 820q-4 -21 -4 -42M915 818q2 -12 4 -23M746 834q-6 -15 -2 -30M1083 825q-4 -11 -5 -22M1190 829q-4 -17 1 -34M320 819q-1 -15 1 -30M1061 815q5 -16 6 -33M703 817q3 -22 9 -44M513 836q4 -14 9 -27M823 831q7 -12 7 -24M364 842q-7 -20 -16 -40M396 826q-4 -8 -8 -15M417 829q-5 -15 -12 -31M547 821q-4 -10 -7 -20M832 843q-1 -15 -0 -29M1203 830q3 -13 3 -26M1251 841q-3 -8 2 -16M784 822q5 -15 8 -31M755 820q-2 -19 2 -39M788 836q-10 -11 -10 -22M1182 837q-5 -11 -3 -22M998 818q-1 -12 2 -24M1053 832q4 -15 10 -29M648 836q-2 -18 -7 -36M1002 824q2 -13 1 -27M947 838q6 -10 7 -20M801 834q-3 -22 0 -45M1236 838q-3 -9 -0 -18M614 824q-3 -13 -4 -27M609 829q-7 -14 -6 -28M359 837q6 -17 16 -35M838 836q-12 -13 -21 -26M1267 835q2 -18 12 -36M707 844q-6 -20 -20 -39M824 833q1 -19 1 -38M1009 826q-6 -18 -5 -37M329 817q3 -12 -1 -23M1145 846q-3 -22 -0 -44M1151 837q2 -10 2 -20M430 836q-12 -20 -19 -41M1255 828q-2 -15 1 -30M949 845q3 -9 0 -18M1097 825q2 -18 -6 -37M1245 832q-1 -15 0 -30M864 840q-7 -14 -4 -28M1137 824q4 -9 -1 -19M413 839q-7 -22 -9 -43M1154 845q-17 -16 -30 -32M363 837q0 -16 1 -32M1185 841q-9 -16 -27 -33M1164 829q-5 -15 -5 -30M1110 825q2 -19 -2 -38M1273 818q0 -13 -6 -26M1059 846q4 -19 7 -38M567 829q-1 -15 -7 -30M468 836q3 -15 10 -30M723 822q-6 -12 -3 -24M1205 820q1 -17 4 -33M1054 837q8 -21 15 -42M1210 845q-5 -9 -3 -19M845 838q-0 -8 -5 -15M826 832q0 -21 0 -43M752 840q-3 -19 -11 -37M740 842q6 -11 4 -22M538 831q2 -15 6 -31M422 818q-2 -9 -2 -18M725 843q-3 -17 3 -33M1258 823q6 -17 12 -34M1053 841q-2 -8 -7 -17M406 825q0 -19 5 -38M538 817q-7 -22 -7 -44M669 840q1 -22 3 -45M1223 835q7 -21 13 -42"/>
<path fill="none" stroke="#a9c98a" stroke-width="1" stroke-linecap="round" d="M383 820q-2 -15 -4 -31M705 841q-1 -10 -7 -19M716 841q3 -11 5 -23M360 845q5 -8 4 -16M473 839q-0 -13 -2 -26M811 821q-0 -10 3 -20M768 819q-3 -17 -4 -35M706 834q-0 -19 -9 -38M855 815q5 -16 2 -32M351 818q0 -13 5 -27M869 818q1 -19 7 -38M885 828q-4 -19 -13 -38M963 839q-10 -10 -10 -19M949 826q-0 -13 3 -27M1058 831q2 -9 3 -18M395 831q-3 -8 2 -16M637 822q5 -9 1 -17M396 825q3 -15 3 -31M662 845q2 -19 1 -39M769 832q5 -12 7 -24M525 821q1 -10 1 -20M1223 823q4 -11 4 -23M713 832q0 -18 6 -35M515 839q9 -21 8 -41M981 818q5 -11 1 -22M682 822q0 -9 2 -18M329 820q10 -17 12 -34M541 833q-1 -19 6 -37M562 824q-2 -15 -3 -29M666 841q-9 -15 -13 -30M1254 840q7 -20 5 -39M514 835q-1 -14 -7 -28M562 839q4 -17 12 -33M783 842q-9 -17 -10 -34M451 842q-5 -11 -2 -23M763 842q-3 -14 -5 -28M331 829q5 -8 4 -16M831 831q-7 -13 -10 -27M741 834q9 -18 10 -37M557 818q2 -14 -4 -29M775 817q-1 -9 -5 -18M838 835q-3 -21 1 -41M1100 825q2 -15 -1 -30M444 839q0 -11 0 -23M517 831q2 -17 3 -34M782 820q-1 -12 -2 -24M586 834q1 -12 -8 -25M1138 824q-0 -10 -6 -19M600 820q-1 -13 4 -25M1134 841q-3 -13 3 -25M1261 816q-9 -11 -18 -21M838 832q-3 -13 -12 -25M1029 841q3 -13 6 -26M659 831q1 -19 7 -38M374 834q-0 -9 -10 -18M599 844q3 -10 6 -20M434 833q-6 -17 -13 -33M1156 824q5 -16 8 -32M869 820q4 -20 8 -40M602 822q10 -19 16 -38M1147 819q2 -11 -4 -22M1077 817q-5 -20 -12 -40M1206 820q6 -20 9 -40M1256 842q3 -18 2 -35M622 839q-3 -20 1 -40M510 827q-5 -10 -4 -21M969 816q9 -20 17 -39M1066 836q5 -10 9 -19M740 843q-11 -19 -13 -38M542 827q1 -16 -1 -33M1154 844q-2 -8 -7 -16M656 836q-5 -18 -2 -37M1135 835q4 -18 12 -36M404 824q-1 -12 0 -23M492 835q4 -16 4 -33M650 842q-2 -10 4 -20M899 821q5 -9 1 -19M590 830q-2 -12 -6 -24M1102 846q-9 -16 -22 -31M786 825q8 -19 10 -38M646 826q2 -11 -4 -21M1138 845q0 -14 1 -29M911 832q5 -10 5 -21M474 829q-7 -18 -20 -36M902 830q-2 -17 5 -34M667 845q-1 -18 -9 -36M692 838q-4 -17 -10 -35M1049 838q-5 -13 -5 -26M332 839q-3 -18 5 -37M869 845q6 -16 4 -33M965 841q-7 -20 -20 -40M1103 817q4 -10 0 -20M834 821q-3 -21 -3 -42M536 835q-3 -17 -1 -33M794 821q2 -12 7 -24M1227 834q-8 -16 -11 -32M433 839q-1 -20 1 -39M542 818q10 -14 10 -28M618 845q4 -13 4 -27M1168 828q-9 -18 -11 -36M799 833q-1 -11 2 -23M1271 821q5 -19 1 -38M806 832q-3 -8 -5 -16M411 832q-1 -15 -4 -30M351 838q0 -18 -5 -37M650 822q13 -10 20 -20M775 819q3 -10 -2 -19M723 822q-13 -20 -18 -41M765 839q12 -19 20 -38M823 835q0 -15 3 -30M1229 830q-0 -18 -1 -35M745 835q4 -16 0 -32M466 836q5 -9 2 -17M534 828q-1 -12 -1 -25M1114 836q-4 -20 -11 -41M465 841q-5 -16 -6 -31M555 835q7 -9 7 -19M396 825q-2 -12 -1 -25M454 823q2 -11 11 -22M1193 823q-3 -18 -3 -36M1266 836q4 -15 -1 -30M1113 821q-0 -21 3 -43M1119 843q1 -18 8 -36M515 837q-2 -18 -6 -35M899 826q-0 -17 8 -34M696 845q-1 -18 -9 -36M1051 831q-1 -17 1 -34M380 818q1 -19 4 -37M372 823q-2 -20 -4 -39M1043 831q-3 -8 -5 -16M1236 842q3 -9 -0 -18"/>
<path fill="none" stroke="#9dc27b" stroke-width="1" stroke-linecap="round" d="M1082 827q-4 -17 2 -34M988 824q2 -11 5 -21M912 820q5 -19 14 -39M413 819q5 -16 4 -32M860 831q5 -12 2 -24M409 819q2 -14 7 -28M931 844q3 -19 -1 -38M930 827q1 -11 2 -21M410 828q-8 -20 -12 -40M553 821q-1 -10 3 -19M1078 843q-3 -19 4 -38M1188 842q-4 -17 -5 -33M1077 843q-3 -13 -11 -26M1142 843q-1 -10 -9 -21M677 826q2 -8 6 -17M354 828q9 -18 23 -36M324 828q0 -12 -4 -23M1053 831q5 -14 2 -27M830 834q-1 -10 0 -21M315 826q-3 -9 4 -18M1094 828q-10 -16 -13 -33M1072 821q1 -20 -4 -41M1085 833q5 -18 8 -35M779 840q-2 -11 -1 -23M753 815q2 -15 9 -30M814 820q8 -21 11 -42M342 818q6 -18 4 -36M370 822q-6 -13 -19 -26M451 817q4 -8 4 -16M674 834q0 -18 9 -35M745 831q-3 -11 -2 -22M1065 839q5 -20 4 -39M939 842q-6 -17 -9 -35M1269 839q-6 -14 -3 -27M1030 817q-8 -20 -10 -40M1006 823q-5 -21 -10 -42M504 821q-1 -20 -2 -39M1121 829q1 -9 3 -18M362 825q4 -21 10 -41M706 840q-6 -9 -4 -18M463 837q11 -19 12 -39M1239 832q4 -10 7 -21M618 837q-11 -20 -12 -40M1098 836q-3 -15 3 -30M973 845q-4 -11 -5 -22M1140 827q-1 -11 -8 -22M412 840q0 -10 -8 -21M592 846q4 -20 1 -41M1143 838q3 -9 7 -19M438 846q-1 -22 -3 -44M324 824q7 -16 8 -32M472 821q2 -9 2 -18M865 821q-4 -18 -6 -36M419 819q-1 -16 1 -31M340 821q-3 -21 0 -42M906 822q-4 -13 -3 -26M437 844q1 -14 -2 -29M734 825q6 -7 7 -15M1095 815q-4 -10 -3 -20M352 822q4 -17 -0 -33M938 832q1 -19 4 -39M1278 821q5 -16 1 -32M823 819q-12 -18 -15 -37M806 829q-7 -20 -10 -40M793 821q7 -17 17 -34M775 827q7 -12 3 -23M1137 822q1 -16 2 -31M417 833q-2 -9 5 -18M861 835q1 -13 -3 -27M1113 843q0 -11 6 -21M338 819q-4 -11 -2 -22M757 832q1 -20 -0 -39M1057 818q5 -12 1 -25M1259 816q-3 -8 -6 -16M869 827q-11 -19 -12 -38M763 825q2 -12 -1 -24M580 818q-6 -21 -4 -43M963 839q9 -21 12 -43M998 837q3 -11 -2 -21M555 818q-3 -18 -4 -36M1080 828q6 -18 5 -36M420 840q-6 -17 -10 -33M333 821q-9 -17 -8 -35M622 822q4 -15 3 -30M1141 830q-4 -9 -7 -19M1030 841q-2 -22 3 -43M402 842q3 -16 7 -32M971 821q8 -8 6 -16M929 828q-3 -9 1 -17M606 830q5 -11 8 -22M954 830q-2 -10 -1 -21M1147 817q0 -10 0 -19M469 819q-3 -18 0 -37M893 828q2 -22 5 -44M1218 839q-3 -10 -11 -20M378 839q-11 -18 -19 -36M1076 843q-8 -14 -8 -28M1198 835q4 -12 3 -23M530 833q-0 -20 8 -40M804 821q-8 -20 -16 -39M854 828q-0 -21 7 -41M843 845q-8 -18 -12 -36M393 840q-1 -14 4 -27M607 839q-5 -13 -3 -25M1026 826q2 -18 -4 -36M455 844q-0 -22 3 -43M1091 837q-2 -11 3 -22M444 844q-8 -16 -7 -33M867 821q0 -18 -7 -36M992 825q-1 -21 -7 -42M359 827q14 -18 20 -36M419 830q3 -13 -3 -27M1218 844q13 -17 19 -34M1042 822q5 -17 4 -34M1177 841q-2 -17 -3 -33M1018 827q-4 -12 1 -23M596 825q-10 -20 -13 -40M334 821q4 -21 15 -41M506 842q0 -14 4 -29M346 821q4 -10 14 -20M823 818q3 -14 -3 -28M331 839q1 -20 11 -39M995 842q-1 -9 -5 -17M1086 840q-1 -14 -11 -27M1083 842q5 -10 9 -20M697 817q-5 -22 -2 -44M865 840q0 -16 -1 -32M963 839q-8 -18 -9 -36M400 819q-2 -18 -4 -36M770 836q7 -19 20 -39M659 846q-1 -9 -1 -17M479 822q-2 -22 -2 -44M791 822q1 -11 5 -21M960 819q-2 -11 4 -22M878 817q9 -16 15 -33M613 821q-3 -13 1 -25M330 834q3 -9 -0 -19M1232 832q-3 -15 -4 -29M418 844q2 -11 -1 -21M549 844q-4 -22 -9 -43M451 837q-1 -13 -4 -25M959 842q-1 -9 -2 -18M667 837q0 -16 -1 -31M420 838q-1 -14 6 -29M352 819q6 -12 2 -24M421 826q-4 -10 -0 -20M807 837q13 -18 21 -36M455 844q8 -9 7 -19M930 843q-2 -12 5 -24M505 819q2 -12 1 -24M593 828q1 -16 10 -32M1188 818q6 -20 13 -39M448 817q4 -21 -3 -42"/>
<path fill="none" stroke="#7aa55a" stroke-width="0.8" stroke-linecap="round" d="M961 817q5 -8 2 -16M360 844q-9 -12 -14 -25M1235 837q2 -18 -5 -36M686 842q5 -17 5 -35M946 829q-2 -14 2 -28M552 831q-2 -22 -1 -44M482 825q-1 -13 -8 -26M669 841q-2 -17 -2 -33M866 815q5 -9 8 -19M463 825q2 -19 3 -37M1096 841q-1 -17 -5 -35M709 830q-4 -17 1 -34M1018 825q-1 -15 -3 -30M869 818q1 -10 -5 -19M514 844q8 -19 10 -39M817 821q-7 -17 -15 -34M1216 838q-8 -19 -14 -38M571 824q2 -10 2 -19M971 840q-0 -10 -2 -20M1242 835q-6 -16 -4 -31M317 827q5 -13 1 -26M403 833q5 -11 0 -21M1133 820q-1 -20 -3 -41M981 818q-1 -9 -4 -18M730 828q7 -20 9 -41M433 824q2 -14 -2 -28M838 833q-2 -9 -10 -18M843 817q-2 -14 0 -28M718 822q-6 -12 -5 -24M374 843q7 -19 9 -38M871 844q2 -8 5 -17M1047 826q-4 -14 -5 -28M694 840q-0 -11 7 -22M1129 823q-3 -12 2 -24M467 823q-8 -15 -7 -31M1192 845q8 -21 6 -42M1273 837q4 -16 15 -32M751 819q0 -8 2 -16M1032 844q4 -11 -2 -22M639 835q7 -9 8 -17M534 824q-4 -11 -1 -22M448 825q-5 -16 -9 -32M363 837q1 -10 -5 -21M407 818q5 -16 13 -33M1104 825q-3 -10 1 -19M1249 819q-2 -17 -13 -33M730 816q-8 -11 -7 -23M364 822q-7 -20 -8 -40M1248 835q2 -9 -1 -17M1180 841q1 -22 3 -43M559 828q0 -22 10 -43M593 833q7 -16 8 -33M1168 816q8 -13 11 -26M319 817q-4 -9 1 -18M1090 832q1 -22 -4 -44M410 824q8 -14 7 -29M948 835q-3 -11 -7 -22M767 819q3 -20 10 -41M558 832q1 -12 -6 -25M1190 831q1 -20 7 -40M991 845q14 -14 19 -27M1211 825q3 -19 -3 -37M603 815q-1 -18 -5 -36M1138 843q-2 -12 2 -24M875 842q6 -14 6 -29M785 828q-7 -13 -8 -27M337 816q4 -19 8 -38M1143 816q5 -10 1 -21M662 816q1 -10 -3 -19M926 845q2 -18 -4 -36M317 833q0 -18 5 -35M842 844q-0 -14 -0 -28M504 823q-0 -9 9 -19M667 824q-8 -10 -8 -20M518 830q-3 -22 2 -43M464 833q-3 -20 -14 -41M676 822q2 -12 1 -24M411 833q-3 -9 -0 -18M573 830q7 -17 5 -33M1024 839q4 -16 -2 -31M1125 842q4 -19 -1 -38M910 817q4 -19 -1 -39M1134 834q1 -8 2 -16M1206 842q4 -9 7 -18M658 829q2 -18 -2 -37M425 815q0 -12 -1 -25M1079 821q7 -19 6 -38M1007 836q-4 -13 0 -25M1164 825q-6 -18 -12 -36M626 837q-9 -17 -19 -34M994 824q6 -11 4 -23M1270 820q-3 -18 -6 -35M417 834q6 -8 3 -16M651 832q4 -15 4 -29M1186 822q-4 -8 1 -17M877 816q-4 -11 -4 -23M621 842q-3 -16 1 -32M840 844q4 -14 -2 -28M1072 822q-0 -12 -8 -25M988 839q3 -16 -2 -32M727 832q-2 -12 2 -24M804 830q-2 -11 -11 -22M429 818q-2 -21 -5 -42M413 836q-7 -12 -5 -24M497 835q-4 -19 -7 -39M405 826q8 -20 8 -41M521 833q4 -21 -2 -41M537 839q-4 -21 -6 -42M1122 815q-10 -14 -19 -29M922 846q0 -16 -5 -33M599 833q0 -17 -1 -34M360 840q1 -14 7 -27M811 823q3 -18 0 -37M977 829q-6 -17 -2 -33M883 844q-1 -9 -1 -18M856 830q-0 -15 4 -30M673 820q-1 -18 -1 -35M1184 831q-2 -19 -2 -38M679 844q4 -8 -1 -17M565 829q-2 -12 -9 -25M1179 834q-3 -20 1 -41M703 835q-3 -12 -5 -25M1230 823q-5 -11 -6 -23M397 836q0 -10 -6 -20M721 841q6 -20 18 -41M1225 845q2 -10 2 -20M649 828q6 -10 8 -20M1005 835q2 -13 12 -25M1145 824q11 -18 20 -36M385 833q-3 -13 -14 -25M1170 845q6 -13 5 -25M406 819q4 -13 7 -26M530 821q-8 -14 -7 -27M1151 826q4 -15 3 -31M492 835q-5 -12 -3 -23M1253 845q-3 -16 1 -32M998 845q12 -19 14 -39M634 839q7 -17 5 -34M812 821q-2 -9 -1 -18M644 845q-0 -18 6 -37M479 844q6 -12 8 -24"/>
<path fill="none" stroke="#9dc27b" stroke-width="1.3" stroke-linecap="round" d="M1105 830q6 -18 7 -36M956 844q-6 -15 -11 -31M839 816q1 -12 2 -24M827 828q1 -15 2 -30M343 817q-2 -13 -6 -27M507 841q7 -17 5 -34M1106 836q3 -16 1 -31M1220 828q-0 -12 7 -24M474 836q-0 -13 -1 -27M632 829q6 -12 14 -24M357 817q-4 -20 -7 -39M623 829q-4 -19 -4 -38M1061 835q-8 -14 -7 -28M661 825q10 -10 10 -20M732 825q-3 -8 0 -17M609 834q3 -20 1 -40M1089 819q-3 -17 -6 -34M980 841q7 -12 6 -23M538 829q-1 -16 -3 -33M979 831q3 -20 2 -39M1148 820q-2 -16 -8 -32M929 828q3 -22 -0 -43M804 846q-2 -9 -3 -19M1085 823q4 -9 3 -18M595 818q5 -22 3 -44M1011 839q-0 -20 9 -39M730 827q6 -9 4 -19M466 830q1 -21 2 -42M530 828q-3 -21 -7 -43M407 818q5 -14 7 -29M754 831q1 -12 2 -24M1055 832q7 -15 6 -31M372 817q-3 -10 -9 -20M1099 816q-4 -16 -15 -32M1117 830q-4 -12 -1 -24M1094 820q-4 -14 1 -27M1209 832q7 -22 8 -43M778 841q1 -9 -1 -19M653 835q-7 -8 -6 -17M621 837q10 -13 12 -25M562 829q8 -18 9 -35M968 829q-1 -11 -6 -22M572 833q8 -21 13 -41M416 823q1 -13 -7 -25M940 823q-1 -13 -4 -25M646 832q7 -8 4 -16M1010 841q1 -12 -3 -23M527 825q-4 -21 -10 -42M504 824q-3 -9 0 -17M408 816q2 -14 2 -28M756 844q2 -11 4 -22M527 838q6 -17 10 -34M315 823q-12 -15 -20 -30M969 819q-4 -19 1 -38M467 837q7 -17 5 -34M316 815q-4 -18 -1 -36M953 836q-2 -22 -10 -44M325 835q6 -15 16 -31M555 845q-0 -22 -2 -45M646 825q20 -16 32 -31M443 846q-2 -11 -9 -23M384 835q-8 -10 -11 -19M792 816q-3 -9 -1 -17M608 827q3 -10 -0 -21M1041 838q-2 -9 -1 -18M380 844q-3 -22 -3 -45M331 816q4 -9 7 -18M1105 829q-8 -15 -12 -30M1035 827q0 -9 6 -19M867 816q-2 -10 -1 -21M673 817q-3 -11 2 -23M1022 816q-7 -20 -12 -40M886 831q-9 -18 -9 -37M1136 835q-0 -14 -1 -28M1221 821q-2 -13 -4 -26M1255 839q-7 -16 -14 -32M940 833q4 -14 4 -27M825 827q-6 -22 -3 -45M631 821q7 -8 10 -15M1010 835q2 -13 1 -25M625 816q-3 -13 2 -27M428 815q-7 -17 -11 -35M595 819q-1 -19 -1 -38M831 840q1 -12 5 -24M1021 832q-4 -12 -10 -24M1226 846q0 -8 4 -17M571 840q2 -22 -3 -44M1133 829q9 -21 12 -43M905 835q-2 -14 1 -29M795 819q-5 -18 0 -36M1159 838q6 -13 11 -27M590 829q-3 -14 1 -28M776 834q-4 -9 -5 -18M1077 826q3 -16 8 -33M1270 817q-1 -20 -11 -40M1146 845q-3 -18 2 -35M536 827q-1 -12 -4 -24M898 833q8 -16 7 -32M1139 841q-0 -8 3 -17M571 836q-1 -22 -1 -45M814 828q-1 -18 -3 -37M499 822q-3 -18 -5 -36M612 823q-2 -8 -7 -17M925 831q-2 -8 6 -15M1106 841q7 -12 5 -23M723 835q-4 -19 1 -38M419 819q-2 -22 -0 -44M426 823q2 -10 -2 -21M616 822q-0 -17 -2 -35M1005 817q-1 -19 0 -39M1213 822q-2 -10 0 -19M515 836q1 -13 8 -27M487 831q-0 -21 5 -43M1133 832q9 -9 12 -19M985 817q6 -11 6 -22M696 831q3 -20 0 -39M496 816q-2 -18 -9 -36M1116 828q2 -11 6 -23M1015 842q-5 -19 -2 -38M1131 840q-8 -19 -8 -38M445 831q-4 -12 -0 -24M1238 829q-2 -16 -6 -32M538 838q3 -16 5 -32M1096 826q-0 -20 -0 -40M877 839q1 -10 -7 -20M910 844q-5 -12 -1 -24M998 838q-4 -14 1 -29M1113 842q0 -11 -1 -21M322 830q2 -15 -2 -30M592 829q4 -22 5 -45M383 841q6 -12 4 -25M646 816q2 -8 -1 -16M1189 820q2 -8 2 -17M1138 833q-7 -10 -6 -20M1136 837q-5 -19 -6 -38M1193 816q-3 -19 4 -38M923 822q-2 -8 -5 -17M1261 817q1 -20 -2 -40M576 846q-1 -18 -8 -36M1075 816q1 -8 1 -16M1253 836q1 -12 1 -24M495 840q2 -22 7 -43M1020 828q0 -15 -3 -30M331 841q-0 -17 2 -34M503 832q-5 -16 -6 -32M743 829q7 -10 7 -20M1068 820q1 -14 8 -28M446 824q3 -9 7 -19"/>
<path fill="none" stroke="#9dc27b" stroke-width="0.8" stroke-linecap="round" d="M751 822q-2 -16 4 -33M1084 816q-7 -16 -5 -31M1144 838q-1 -19 3 -39M377 841q1 -21 7 -42M1118 844q-4 -14 -2 -29M1092 817q-3 -17 4 -33M1178 816q-5 -14 -7 -28M424 831q-9 -12 -16 -23M337 844q5 -13 7 -26M729 820q5 -22 6 -44M673 816q5 -9 1 -18M889 835q-11 -15 -17 -29M426 845q-6 -13 -2 -26M609 837q-4 -20 -9 -40M840 816q1 -11 2 -22M334 833q3 -21 3 -42M558 845q-4 -16 -7 -31M843 843q1 -13 7 -25M497 845q5 -14 9 -29M552 836q7 -13 14 -26M423 829q2 -16 5 -32M556 821q-8 -12 -17 -24M665 831q3 -12 -2 -23M462 843q-3 -18 -3 -36M583 823q1 -12 5 -25M1051 831q-7 -8 -5 -16M1269 829q-4 -10 -3 -21M1007 817q-1 -9 -5 -17M405 830q-1 -21 -5 -42M841 818q1 -17 11 -34M620 833q0 -19 -2 -37M369 830q1 -13 -2 -25M720 816q1 -18 -2 -36M574 821q3 -17 7 -33M834 816q2 -17 -4 -34M822 835q1 -12 7 -24M409 817q-0 -9 1 -19M1114 821q2 -15 5 -30M473 822q-6 -10 -3 -20M375 820q-11 -18 -17 -36M765 835q-1 -8 -6 -16M389 817q3 -15 -3 -29M1173 832q1 -20 10 -40M1169 822q1 -15 7 -29M361 832q-0 -19 -1 -38M1089 837q1 -18 3 -36M965 839q1 -16 7 -33M644 842q4 -14 4 -29M524 829q-1 -12 -2 -23M754 835q5 -22 8 -44M544 843q4 -17 16 -34M1017 834q4 -11 1 -22M339 822q7 -12 4 -25M839 821q5 -14 1 -28M860 831q5 -21 2 -43M331 831q-1 -11 3 -21M943 837q-1 -10 -2 -20M365 817q-4 -10 2 -20M1240 826q-1 -10 6 -20M784 830q5 -9 8 -17M551 843q4 -9 -0 -18M1035 834q4 -18 10 -36M594 833q0 -9 1 -17M914 828q-8 -21 -7 -42M536 822q7 -17 18 -35M855 843q4 -21 6 -41M911 822q-0 -22 -6 -43M406 835q-2 -14 -6 -29M644 823q-16 -16 -26 -33M1252 821q-6 -7 -7 -14M393 836q-0 -19 1 -38M1046 835q2 -9 -6 -18M771 837q1 -14 9 -29M1234 821q5 -10 1 -20M401 819q-0 -20 2 -40M988 823q-13 -19 -20 -37M396 826q9 -20 10 -41M457 825q4 -11 1 -22M506 821q2 -16 0 -32M1028 833q11 -18 17 -35M1039 832q-2 -15 1 -30M1027 843q5 -12 12 -23M983 826q1 -11 11 -21M966 824q-5 -21 -4 -42M1085 817q5 -12 11 -24M514 826q-0 -17 6 -33M478 826q-2 -11 -11 -22M586 833q2 -11 -1 -22M976 845q3 -12 -1 -25M1136 825q-4 -19 -5 -38M382 818q4 -17 6 -33M807 844q3 -22 -1 -44M535 845q-4 -14 -3 -29M1193 838q-17 -14 -25 -29M679 838q5 -7 7 -14M637 829q1 -22 -2 -45M955 828q0 -11 1 -21M553 822q6 -15 10 -31M484 818q-8 -18 -12 -36M669 817q6 -20 3 -40M816 830q2 -8 -3 -17M401 823q3 -22 0 -44M726 818q-3 -16 -5 -33M647 829q4 -11 3 -22M622 841q-3 -13 -7 -27M859 840q-2 -18 -0 -36M503 816q-2 -13 -4 -26M574 820q-3 -17 -5 -33M489 844q4 -16 2 -33M499 830q-3 -8 1 -17M825 816q-5 -15 -8 -31M850 822q-7 -16 -6 -32M1099 818q1 -11 -3 -21M1154 836q-1 -19 -11 -39M796 843q-4 -19 -5 -37M449 825q0 -14 -5 -28M659 817q-5 -9 -4 -18M689 829q1 -13 -3 -26M845 816q-1 -19 1 -37M696 828q-7 -14 -6 -29M941 820q6 -10 5 -21M760 846q0 -22 -3 -45M732 840q6 -8 4 -16M909 831q1 -16 13 -32M421 841q5 -15 15 -30M721 833q2 -16 3 -31M511 821q4 -20 1 -39M461 828q3 -14 8 -28M1038 836q2 -8 -2 -17M600 832q5 -20 10 -40M669 833q9 -21 9 -43M443 842q-0 -14 2 -28M1254 833q1 -18 7 -36M596 844q-2 -18 0 -37M349 846q7 -16 10 -32M413 826q1 -10 -6 -19M611 823q5 -15 4 -29M627 836q4 -17 3 -34M1215 846q-2 -20 1 -39M1116 842q-4 -10 -15 -21M345 816q5 -19 15 -39M708 826q-4 -20 -1 -40"/>
<path fill="none" stroke="#b3d095" stroke-width="1.3" stroke-linecap="round" d="M544 817q4 -10 -1 -19M725 833q4 -10 -1 -20M578 817q-3 -18 -5 -36M712 816q-3 -11 4 -22M403 836q-5 -14 -1 -27M955 842q6 -16 13 -33M748 819q-4 -17 -0 -34M998 838q0 -13 10 -26M1203 825q-3 -20 0 -40M673 833q3 -13 -4 -26M1223 821q1 -12 5 -23M726 829q1 -8 -3 -16M825 825q-6 -15 -14 -31M930 841q-3 -10 -0 -20M753 834q-0 -22 -5 -44M704 824q0 -8 9 -17M336 840q-3 -22 -6 -44M826 834q2 -18 -2 -36M1010 823q-2 -9 6 -19M933 831q8 -22 6 -43M1087 841q0 -16 -7 -32M1050 821q-2 -20 -7 -40M980 825q3 -8 6 -15M1038 815q4 -13 -0 -26M884 828q-4 -16 -1 -32M424 830q8 -14 13 -28M1058 833q3 -8 0 -16M533 843q-2 -22 -1 -45M334 821q0 -17 -2 -35M1104 830q-3 -19 -10 -38M563 821q8 -17 9 -33M1084 817q-3 -14 -5 -29M1178 826q1 -16 6 -33M1097 831q-0 -11 -10 -22M899 821q0 -14 0 -27M718 832q-9 -15 -11 -29M1281 816q-3 -8 4 -16M1232 821q-5 -9 -1 -17M878 825q-2 -10 1 -21M569 831q-2 -8 -1 -17M1016 822q4 -17 4 -33M1001 843q2 -18 -4 -36M850 840q2 -21 5 -41M905 825q1 -20 -6 -40M691 835q7 -21 13 -41M1094 826q-6 -8 -3 -16M1186 832q5 -21 4 -41M716 843q5 -11 4 -22M904 832q-5 -9 -2 -17M370 816q-2 -8 1 -16M669 823q-2 -18 -0 -36M1058 824q-1 -13 -10 -26M534 837q-6 -14 -10 -28M1144 824q1 -18 -2 -35M1052 830q8 -18 7 -37M522 840q-4 -13 -4 -26M1069 817q2 -14 1 -27M447 815q-4 -22 -8 -44M769 838q-2 -10 -4 -20M784 836q1 -17 -2 -35M1125 827q2 -9 4 -18M1275 836q-0 -15 5 -29M1018 826q1 -17 8 -33M901 839q-5 -9 -4 -18M974 820q16 -17 26 -34M1260 829q-9 -17 -16 -34M1047 841q1 -22 2 -44M691 828q-1 -19 2 -37M1095 844q3 -10 -2 -20M645 817q1 -13 -1 -25M383 843q2 -14 3 -28M715 841q-0 -10 2 -19M1173 832q-2 -21 -4 -43M990 823q-5 -18 -5 -36M583 824q1 -20 1 -40M610 817q1 -12 -2 -24M539 833q-1 -11 -1 -22M559 820q3 -13 1 -25M431 815q3 -9 -2 -17M1197 820q-3 -11 -8 -23M1228 839q-1 -20 1 -39M901 839q-3 -10 3 -20M413 841q-8 -13 -12 -27M374 844q2 -10 11 -20M551 822q-1 -13 4 -26M385 818q5 -16 4 -33M1055 836q-8 -20 -16 -41M1015 846q4 -10 4 -19M991 829q-1 -9 4 -18M1202 827q1 -11 3 -21M962 844q-5 -21 -3 -43M350 835q9 -14 9 -27M1068 840q-0 -8 -3 -16M373 825q9 -15 10 -30M454 834q-3 -9 -5 -18M452 819q-4 -15 -5 -30M382 842q-3 -9 -1 -17M727 816q-1 -9 -6 -19M942 825q2 -16 7 -32M744 826q-0 -13 7 -26M907 816q-4 -10 -5 -21M728 816q-3 -18 -1 -36M857 830q-2 -16 -1 -32M513 821q1 -10 -3 -21M975 846q-10 -18 -12 -37M573 835q-8 -18 -20 -36M731 818q-7 -12 -9 -23M518 825q-0 -18 -2 -35M1247 830q-9 -11 -11 -22M1190 820q0 -8 -3 -16M1179 841q-1 -17 -11 -33M826 835q5 -16 3 -32M835 843q9 -19 9 -38M370 828q2 -19 -1 -38M1247 838q0 -20 7 -39M754 837q-2 -12 -6 -25M600 836q3 -11 -2 -21M729 823q-1 -19 -12 -39M384 842q-4 -8 -2 -16M506 821q-3 -10 0 -19M1105 846q-5 -17 -5 -34M1192 821q2 -8 6 -17M1213 828q9 -13 8 -27M537 838q2 -9 2 -17M960 818q0 -9 3 -17M1170 820q-2 -17 -9 -34M875 845q-1 -10 -3 -20M333 840q1 -19 -5 -38M1276 823q-2 -18 -11 -36M815 844q-0 -21 3 -41M676 828q-9 -16 -10 -32M1164 838q7 -21 11 -43M805 843q14 -20 18 -41M1050 817q-3 -16 3 -31M1182 830q3 -9 5 -18M726 840q3 -19 6 -38M326 830q-2 -15 7 -30M451 827q6 -15 4 -30M1130 822q3 -14 0 -27M615 836q-0 -17 -2 -34M475 825q-5 -16 -1 -31M848 841q-2 -15 2 -29M865 846q-3 -15 1 -29M907 837q3 -11 2 -22M445 817q5 -17 7 -33M360 833q3 -16 10 -32M958 830q6 -13 4 -25M652 831q-6 -11 -5 -22M1119 835q-2 -16 -2 -32M1026 821q1 -11 12 -23M846 833q-2 -17 -8 -34M516 831q-1 -17 6 -34M434 830q10 -17 13 -34"/>
<g fill="rgba(202,204,200,0.18)"><rect x="300" y="682" width="1000" height="54" clip-path="url(#gc)"/><rect x="300" y="787" width="1000" height="54" clip-path="url(#gc)"/></g>
<clipPath id="gc"><polygon points="536,667 1101,667 1190,737 1253,785 1282,816 1276,836 1262,846 334,846 320,838 310,822 310,806 323,793 343,779 377,753 445,713"/></clipPath>
<path d="M324,842 L1270,842 Q1268,848 1252,849 L342,849 Q328,848 324,842 Z" fill="#3a2414"/>
<path fill="none" stroke="#5c4029" stroke-width="0.7" d="M946 844l1 2M927 842l-1 3M951 842l-1 3M874 842l-0 2M1015 844l-0 2M551 845l0 3M1234 845l-1 3M1197 844l2 3M961 842l0 3M1106 842l-2 3M765 844l0 2M962 840l0 3M594 840l0 3M482 841l-1 3M731 844l1 4M749 840l-0 3M1105 840l-2 3M641 843l-0 4M780 842l-2 3M998 844l-1 3M896 843l2 4M790 841l-0 3M816 844l1 2M352 841l-1 4M1122 841l1 2M1188 843l-1 2M829 844l-2 3M625 843l2 2M915 840l1 3M1129 840l1 3M433 845l-0 2M475 844l-1 3M1072 841l2 3M1238 844l-2 3M797 842l1 3M547 843l1 2M1108 843l0 2M819 844l1 3M835 841l0 3M724 840l2 4M856 845l2 4M838 844l0 4M1034 843l-0 3M687 843l0 3M1145 841l1 3M446 842l-2 3M955 842l2 3M1158 841l1 4M1027 843l-1 3M498 841l-1 3M776 845l1 3M1175 842l-2 3M1218 842l2 4M1161 841l-2 2M582 841l1 3M1136 843l-0 3M674 843l-1 3M437 843l1 3M662 844l-1 3M1012 843l-0 4M1032 843l1 2M975 843l-0 3M802 840l1 4M706 841l-1 2M796 844l-0 2M559 844l-2 4M839 840l1 2M782 844l0 4M443 844l1 2M714 842l-1 3M784 844l-1 2M630 844l-2 2M914 841l-0 4M936 844l-1 3M1008 841l-1 3M484 843l-0 3M497 841l-0 3M971 845l-2 3M713 842l-0 3M871 841l1 3M683 841l-0 4M1140 841l-0 4M456 845l0 4M1218 845l0 3M1050 843l0 2M1246 841l-2 2M711 842l2 3M850 842l-0 2M1225 842l-1 3M1111 841l-1 3M456 845l0 3M548 843l1 2M1181 841l1 2M491 844l-1 2M563 840l2 3M799 843l-1 3M908 843l-0 4M767 841l-1 2M492 844l-2 3M1147 842l-2 3M1157 843l2 3M439 844l-2 3M688 843l1 4M851 844l-2 2M807 845l2 3M660 844l-1 4M578 842l-0 3M969 843l2 4M978 840l2 2M763 844l0 3M1238 843l-1 4M1159 842l1 3M379 845l-1 2M1000 841l-1 4M1224 841l-1 3M1057 844l2 3M564 840l0 3M641 844l-0 3M555 842l1 3M857 845l-1 2M522 840l-0 3M783 845l-2 3M1110 845l-0 3M461 843l1 3M589 840l-0 3M954 842l-1 3M504 840l2 3M644 843l-1 3M854 840l1 3M1084 843l1 3M366 841l1 2M665 840l1 4M1149 845l1 2M911 845l1 3M570 845l-0 3M1071 841l-1 3M786 843l-2 2M1196 840l2 3M1099 842l-1 3M1035 841l1 4M431 841l-1 3M995 843l-1 3M1090 841l-0 3M777 843l0 2M994 843l-2 3M407 843l2 4M848 841l-1 3M1068 840l1 4M1044 841l-0 4M1191 842l-0 3M926 842l-1 3M956 842l1 4M598 845l-1 2M767 842l-2 4M1008 842l-1 3M383 840l1 4M1248 841l-0 4M858 840l-2 3M753 844l-1 2M637 842l1 3M1041 841l1 3M706 843l1 3M521 841l-0 3M1096 841l0 3M543 843l-1 2M478 844l0 4M971 843l2 3M1026 845l1 3M633 841l0 4M1048 840l-2 2M833 840l-2 2M491 842l-0 2M855 843l0 3M573 843l2 3M399 845l-1 3M786 842l-2 4M899 841l1 3M1038 841l1 3M670 841l-1 3M878 844l2 2M884 844l1 4M684 841l0 4M532 840l1 2M1031 844l-2 3M1034 845l-1 2M540 845l2 3M444 844l-2 3M1129 841l2 4M541 844l1 2M890 842l-2 3M401 840l1 3M754 841l-2 3M1014 842l-0 3M854 845l-1 3M960 844l2 2M826 840l1 3M914 844l2 2M669 845l1 4M398 840l0 4M1085 841l1 3M658 842l2 3M674 845l-2 3M673 843l-0 3M1228 844l2 3M949 843l-1 2M1197 840l-2 4M803 843l-2 3M564 844l-0 4M1209 840l2 2M1149 840l-0 3M772 841l-2 2M599 842l-1 3M1208 844l2 3M1088 841l0 4M931 844l-1 2M417 842l1 3M892 841l-1 4M933 844l1 3M344 842l1 3M466 841l1 4M1254 844l-1 3M1174 843l1 3M763 842l-1 3M783 840l0 3M972 842l-1 4M1149 842l-1 2M1116 842l0 2M1094 844l-1 2M389 844l-1 3M757 845l1 2M1216 844l-2 4M716 842l-1 4M363 843l1 4M1021 844l-2 3M488 841l-0 4M1090 841l2 3M586 841l-1 2M835 844l0 4M1095 840l0 3M353 844l2 4M710 841l0 3M818 842l-1 2M765 842l-1 3M978 844l2 3M466 841l-0 2M894 841l-1 3M1100 842l-1 4M1042 841l-0 2M1226 842l-1 4M1239 843l-0 3M503 840l2 2M630 844l-0 2M499 840l0 3M994 841l-1 2M398 842l1 2M1013 841l-1 3M769 842l-2 4M1220 842l0 3M756 844l2 3M1086 844l1 4M879 840l1 4M863 841l-2 2M791 843l-1 3M430 841l1 3M930 843l-1 3M1127 841l0 3M914 842l-2 3M427 844l2 3M1080 840l2 4M915 841l0 4M897 842l-2 3M824 840l-0 3M741 841l-0 2M408 841l-0 2M443 844l-1 4M508 842l-1 4M399 840l0 4M722 840l-1 3M476 842l0 2M1205 840l1 3M750 843l-2 2M564 842l-2 4M981 844l-1 4M674 844l-2 2M1087 844l-1 3M903 844l1 3M996 845l-1 4M411 841l2 3M934 841l2 2M1089 844l0 3M1158 842l-2 2M833 843l1 3M968 842l-1 3M436 841l2 2M606 842l2 3M798 841l-2 3M1120 840l-1 3M752 844l-1 4M437 843l1 3M919 841l-0 3"/>
</svg>
<div style="position:absolute;left:202px;top:491px;width:175px;height:286px;background:#5f5425;"></div>
<div style="position:absolute;left:202px;top:530px;width:175px;height:1px;background:#cbc3a1;"></div>
<div style="position:absolute;left:202px;top:583px;width:175px;height:1px;background:#cbc3a1;"></div>
<div style="position:absolute;left:202px;top:620px;width:175px;height:1px;background:#cbc3a1;"></div>
<div style="position:absolute;left:202px;top:672px;width:175px;height:1px;background:#cbc3a1;"></div>
<div style="position:absolute;left:202px;top:712px;width:175px;height:1px;background:#cbc3a1;"></div>
<div style="position:absolute;left:403px;top:491px;width:175px;height:221px;background:#5f5425;"></div>
<div style="position:absolute;left:403px;top:515px;width:175px;height:1px;background:#cbc3a1;"></div>
<div style="position:absolute;left:403px;top:567px;width:175px;height:1px;background:#cbc3a1;"></div>
<div style="position:absolute;left:403px;top:672px;width:175px;height:1px;background:#cbc3a1;"></div>
<div style="position:absolute;left:613px;top:306px;width:175px;height:471px;background:#dfd8bb;"></div>
<div style="position:absolute;left:613px;top:345px;width:175px;height:1px;background:#8f8764;"></div>
<div style="position:absolute;left:613px;top:386px;width:175px;height:1px;background:#8f8764;"></div>
<div style="position:absolute;left:613px;top:425px;width:175px;height:1px;background:#8f8764;"></div>
<div style="position:absolute;left:613px;top:462px;width:175px;height:1px;background:#8f8764;"></div>
<div style="position:absolute;left:613px;top:515px;width:175px;height:1px;background:#8f8764;"></div>
<div style="position:absolute;left:613px;top:555px;width:175px;height:1px;background:#8f8764;"></div>
<div style="position:absolute;left:613px;top:595px;width:175px;height:1px;background:#8f8764;"></div>
<div style="position:absolute;left:613px;top:635px;width:175px;height:1px;background:#8f8764;"></div>
<div style="position:absolute;left:613px;top:672px;width:175px;height:1px;background:#8f8764;"></div>
<div style="position:absolute;left:613px;top:712px;width:175px;height:1px;background:#8f8764;"></div>
<div style="position:absolute;left:814px;top:269px;width:175px;height:26px;background:#dfd8bb;"></div>
<div style="position:absolute;left:814px;top:334px;width:175px;height:24px;background:#dfd8bb;"></div>
<div style="position:absolute;left:814px;top:398px;width:175px;height:40px;background:#dfd8bb;"></div>
<div style="position:absolute;left:814px;top:463px;width:175px;height:52px;background:#dfd8bb;"></div>
<div style="position:absolute;left:814px;top:568px;width:175px;height:52px;background:#dfd8bb;"></div>
<div style="position:absolute;left:814px;top:672px;width:175px;height:52px;background:#dfd8bb;"></div>
<div style="position:absolute;left:1015px;top:229px;width:175px;height:548px;background:#dfd8bb;"></div>
<div style="position:absolute;left:1015px;top:386px;width:175px;height:1px;background:#8f8764;"></div>
<div style="position:absolute;left:1015px;top:491px;width:175px;height:1px;background:#8f8764;"></div>
<div style="position:absolute;left:1015px;top:595px;width:175px;height:1px;background:#8f8764;"></div>
<div style="position:absolute;left:1015px;top:700px;width:175px;height:1px;background:#8f8764;"></div>
<div style="position:absolute;left:1216px;top:253px;width:174px;height:524px;background:#dfd8bb;"></div>
<div style="position:absolute;left:1216px;top:305px;width:174px;height:1px;background:#8f8764;"></div>
<div style="position:absolute;left:1216px;top:345px;width:174px;height:1px;background:#8f8764;"></div>
<div style="position:absolute;left:1216px;top:393px;width:174px;height:1px;background:#8f8764;"></div>
<div style="position:absolute;left:1216px;top:434px;width:174px;height:1px;background:#8f8764;"></div>
<div style="position:absolute;left:1216px;top:466px;width:174px;height:1px;background:#8f8764;"></div>
<div style="position:absolute;left:1216px;top:567px;width:174px;height:1px;background:#8f8764;"></div>
<div style="position:absolute;left:1216px;top:619px;width:174px;height:1px;background:#8f8764;"></div>
<div style="position:absolute;left:1216px;top:685px;width:174px;height:1px;background:#8f8764;"></div>
<div style="position:absolute;left:1216px;top:718px;width:174px;height:1px;background:#8f8764;"></div>
<div class="t" style="left:544.43px;top:61.68px;color:#e0d9bd;font-size:58.66px;line-height:58.66px;letter-spacing:-0.030em;word-spacing:-0.06em;-webkit-text-stroke:0.045em currentColor;transform:scaleX(1.1910)">Blokkenschema</div>
<div class="t" style="left:334.00px;top:151.37px;color:#655925;font-size:28.16px;line-height:28.16px;letter-spacing:0.010em;word-spacing:-0.06em;-webkit-text-stroke:0.045em currentColor;transform:scaleX(1.3011)">vrijdag</div>
<div class="t" style="left:928.64px;top:151.37px;color:#e0d9bd;font-size:28.16px;line-height:28.16px;letter-spacing:0.010em;word-spacing:-0.06em;-webkit-text-stroke:0.045em currentColor;transform:scaleX(1.3578)">zaterdag</div>
<div class="t" style="left:206.21px;top:192.02px;color:#655925;font-size:21.49px;line-height:21.49px;letter-spacing:-0.030em;word-spacing:-0.06em;-webkit-text-stroke:0.045em currentColor;transform:scaleX(1.2939)">Hoofdpodium</div>
<div class="t" style="left:425.00px;top:192.02px;color:#655925;font-size:21.49px;line-height:21.49px;letter-spacing:-0.030em;word-spacing:-0.06em;-webkit-text-stroke:0.045em currentColor;transform:scaleX(1.2818)">Op ‘t randje</div>
<div class="t" style="left:616.21px;top:192.02px;color:#e0d9bd;font-size:21.49px;line-height:21.49px;letter-spacing:-0.030em;word-spacing:-0.06em;-webkit-text-stroke:0.045em currentColor;transform:scaleX(1.2939)">Hoofdpodium</div>
<div class="t" style="left:838.75px;top:192.02px;color:#e0d9bd;font-size:21.49px;line-height:21.49px;letter-spacing:-0.030em;word-spacing:-0.06em;-webkit-text-stroke:0.045em currentColor;transform:scaleX(1.2841)">Op ‘t randje</div>
<div class="t" style="left:1036.23px;top:192.02px;color:#e0d9bd;font-size:21.49px;line-height:21.49px;letter-spacing:-0.030em;word-spacing:-0.06em;-webkit-text-stroke:0.045em currentColor;transform:scaleX(1.2714)">Lake Disco</div>
<div class="t" style="left:1231.00px;top:192.02px;color:#e0d9bd;font-size:21.49px;line-height:21.49px;letter-spacing:-0.030em;word-spacing:-0.06em;-webkit-text-stroke:0.045em currentColor;transform:scaleX(1.3485)">Witte Kerk</div>
<div class="t" style="left:99.46px;top:227.78px;color:#e0d9bd;font-size:22.46px;line-height:22.46px;letter-spacing:-0.030em;word-spacing:-0.06em;-webkit-text-stroke:0.020em currentColor;transform:scaleX(1.2415)">13:00</div>
<div class="t" style="left:1425.36px;top:227.78px;color:#e0d9bd;font-size:22.46px;line-height:22.46px;letter-spacing:-0.030em;word-spacing:-0.06em;-webkit-text-stroke:0.020em currentColor;transform:scaleX(1.2415)">13:00</div>
<div class="t" style="left:99.44px;top:280.11px;color:#e0d9bd;font-size:22.46px;line-height:22.46px;letter-spacing:-0.030em;word-spacing:-0.06em;-webkit-text-stroke:0.020em currentColor;transform:scaleX(1.2566)">14:00</div>
<div class="t" style="left:1425.34px;top:280.11px;color:#e0d9bd;font-size:22.46px;line-height:22.46px;letter-spacing:-0.030em;word-spacing:-0.06em;-webkit-text-stroke:0.020em currentColor;transform:scaleX(1.2566)">14:00</div>
<div class="t" style="left:99.45px;top:332.44px;color:#e0d9bd;font-size:22.46px;line-height:22.46px;letter-spacing:-0.030em;word-spacing:-0.06em;-webkit-text-stroke:0.020em currentColor;transform:scaleX(1.2472)">15:00</div>
<div class="t" style="left:1425.35px;top:332.44px;color:#e0d9bd;font-size:22.46px;line-height:22.46px;letter-spacing:-0.030em;word-spacing:-0.06em;-webkit-text-stroke:0.020em currentColor;transform:scaleX(1.2472)">15:00</div>
<div class="t" style="left:99.44px;top:384.77px;color:#e0d9bd;font-size:22.46px;line-height:22.46px;letter-spacing:-0.030em;word-spacing:-0.06em;-webkit-text-stroke:0.020em currentColor;transform:scaleX(1.2566)">16:00</div>
<div class="t" style="left:1425.34px;top:384.77px;color:#e0d9bd;font-size:22.46px;line-height:22.46px;letter-spacing:-0.030em;word-spacing:-0.06em;-webkit-text-stroke:0.020em currentColor;transform:scaleX(1.2566)">16:00</div>
<div class="t" style="left:99.51px;top:437.10px;color:#e0d9bd;font-size:22.46px;line-height:22.46px;letter-spacing:-0.030em;word-spacing:-0.06em;-webkit-text-stroke:0.020em currentColor;transform:scaleX(1.1925)">17:00</div>
<div class="t" style="left:1425.41px;top:437.10px;color:#e0d9bd;font-size:22.46px;line-height:22.46px;letter-spacing:-0.030em;word-spacing:-0.06em;-webkit-text-stroke:0.020em currentColor;transform:scaleX(1.1925)">17:00</div>
<div class="t" style="left:99.46px;top:489.43px;color:#e0d9bd;font-size:22.46px;line-height:22.46px;letter-spacing:-0.030em;word-spacing:-0.06em;-webkit-text-stroke:0.020em currentColor;transform:scaleX(1.2396)">18:00</div>
<div class="t" style="left:1425.36px;top:489.43px;color:#e0d9bd;font-size:22.46px;line-height:22.46px;letter-spacing:-0.030em;word-spacing:-0.06em;-webkit-text-stroke:0.020em currentColor;transform:scaleX(1.2396)">18:00</div>
<div class="t" style="left:99.45px;top:541.76px;color:#e0d9bd;font-size:22.46px;line-height:22.46px;letter-spacing:-0.030em;word-spacing:-0.06em;-webkit-text-stroke:0.020em currentColor;transform:scaleX(1.2491)">19:00</div>
<div class="t" style="left:1425.35px;top:541.76px;color:#e0d9bd;font-size:22.46px;line-height:22.46px;letter-spacing:-0.030em;word-spacing:-0.06em;-webkit-text-stroke:0.020em currentColor;transform:scaleX(1.2491)">19:00</div>
<div class="t" style="left:98.20px;top:594.09px;color:#e0d9bd;font-size:22.46px;line-height:22.46px;letter-spacing:-0.030em;word-spacing:-0.06em;-webkit-text-stroke:0.020em currentColor;transform:scaleX(1.3981)">20:00</div>
<div class="t" style="left:1424.10px;top:594.09px;color:#e0d9bd;font-size:22.46px;line-height:22.46px;letter-spacing:-0.030em;word-spacing:-0.06em;-webkit-text-stroke:0.020em currentColor;transform:scaleX(1.3981)">20:00</div>
<div class="t" style="left:98.35px;top:646.42px;color:#e0d9bd;font-size:22.46px;line-height:22.46px;letter-spacing:-0.030em;word-spacing:-0.06em;-webkit-text-stroke:0.020em currentColor;transform:scaleX(1.2547)">21:00</div>
<div class="t" style="left:1424.25px;top:646.42px;color:#e0d9bd;font-size:22.46px;line-height:22.46px;letter-spacing:-0.030em;word-spacing:-0.06em;-webkit-text-stroke:0.020em currentColor;transform:scaleX(1.2547)">21:00</div>
<div class="t" style="left:98.22px;top:698.75px;color:#e0d9bd;font-size:22.46px;line-height:22.46px;letter-spacing:-0.030em;word-spacing:-0.06em;-webkit-text-stroke:0.020em currentColor;transform:scaleX(1.3774)">22:00</div>
<div class="t" style="left:1424.12px;top:698.75px;color:#e0d9bd;font-size:22.46px;line-height:22.46px;letter-spacing:-0.030em;word-spacing:-0.06em;-webkit-text-stroke:0.020em currentColor;transform:scaleX(1.3774)">22:00</div>
<div class="t" style="left:98.22px;top:751.08px;color:#e0d9bd;font-size:22.46px;line-height:22.46px;letter-spacing:-0.030em;word-spacing:-0.06em;-webkit-text-stroke:0.020em currentColor;transform:scaleX(1.3849)">23:00</div>
<div class="t" style="left:1424.12px;top:751.08px;color:#e0d9bd;font-size:22.46px;line-height:22.46px;letter-spacing:-0.030em;word-spacing:-0.06em;-webkit-text-stroke:0.020em currentColor;transform:scaleX(1.3849)">23:00</div>
<div class="t" style="left:219.64px;top:509.96px;color:#b6ad87;font-size:11.95px;line-height:11.95px;letter-spacing:-0.030em;word-spacing:-0.06em;-webkit-text-stroke:0.040em currentColor;transform:scaleX(1.1615)">Hidden Sound System</div>
<div class="t" style="left:230.42px;top:549.42px;color:#e0d9bd;font-size:17.05px;line-height:17.05px;letter-spacing:-0.030em;word-spacing:-0.06em;-webkit-text-stroke:0.045em currentColor;transform:scaleX(1.2750)">Born A Tribe</div>
<div class="t" style="left:219.64px;top:598.76px;color:#b6ad87;font-size:11.95px;line-height:11.95px;letter-spacing:-0.030em;word-spacing:-0.06em;-webkit-text-stroke:0.040em currentColor;transform:scaleX(1.1615)">Hidden Sound System</div>
<div class="t" style="left:244.80px;top:638.62px;color:#e0d9bd;font-size:17.05px;line-height:17.05px;letter-spacing:-0.030em;word-spacing:-0.06em;-webkit-text-stroke:0.045em currentColor;transform:scaleX(1.2143)">Cooper T</div>
<div class="t" style="left:220.04px;top:690.46px;color:#b6ad87;font-size:11.95px;line-height:11.95px;letter-spacing:-0.030em;word-spacing:-0.06em;-webkit-text-stroke:0.040em currentColor;transform:scaleX(1.1590)">Hidden Sound System</div>
<div class="t" style="left:242.50px;top:736.32px;color:#e0d9bd;font-size:17.05px;line-height:17.05px;letter-spacing:-0.030em;word-spacing:-0.06em;-webkit-text-stroke:0.045em currentColor;transform:scaleX(1.2095)">The Vices</div>
<div class="t" style="left:410.80px;top:498.26px;color:#b6ad87;font-size:11.95px;line-height:11.95px;letter-spacing:-0.030em;word-spacing:-0.06em;-webkit-text-stroke:0.040em currentColor;transform:scaleX(1.1767)">Vrienden van Loungefest</div>
<div class="t" style="left:426.67px;top:532.32px;color:#e0d9bd;font-size:17.05px;line-height:17.05px;letter-spacing:-0.030em;word-spacing:-0.06em;-webkit-text-stroke:0.045em currentColor;transform:scaleX(1.2284)">De Beukering</div>
<div class="t" style="left:410.80px;top:609.46px;color:#b6ad87;font-size:11.95px;line-height:11.95px;letter-spacing:-0.030em;word-spacing:-0.06em;-webkit-text-stroke:0.040em currentColor;transform:scaleX(1.1767)">Vrienden van Loungefest</div>
<div class="t" style="left:414.69px;top:685.62px;color:#e0d9bd;font-size:17.05px;line-height:17.05px;letter-spacing:-0.030em;word-spacing:-0.06em;-webkit-text-stroke:0.045em currentColor;transform:scaleX(1.2138)">Flamingo Hitmix</div>
<div class="t" style="left:640.73px;top:311.64px;color:#655925;font-size:15.83px;line-height:15.83px;letter-spacing:-0.030em;word-spacing:-0.06em;-webkit-text-stroke:0.045em currentColor;transform:scaleX(1.3728)">Pierre et les</div>
<div class="t" style="left:646.70px;top:325.14px;color:#655925;font-size:15.83px;line-height:15.83px;letter-spacing:-0.030em;word-spacing:-0.06em;-webkit-text-stroke:0.045em currentColor;transform:scaleX(1.3325)">Optimistes</div>
<div class="t" style="left:651.63px;top:365.76px;color:#9b9371;font-size:11.95px;line-height:11.95px;letter-spacing:-0.030em;word-spacing:-0.06em;-webkit-text-stroke:0.040em currentColor;transform:scaleX(1.1740)">Purple Pandan</div>
<div class="t" style="left:642.70px;top:397.92px;color:#655925;font-size:17.05px;line-height:17.05px;letter-spacing:-0.030em;word-spacing:-0.06em;-webkit-text-stroke:0.045em currentColor;transform:scaleX(1.2154)">Antje Krook</div>
<div class="t" style="left:651.63px;top:442.56px;color:#9b9371;font-size:11.95px;line-height:11.95px;letter-spacing:-0.030em;word-spacing:-0.06em;-webkit-text-stroke:0.040em currentColor;transform:scaleX(1.1740)">Purple Pandan</div>
<div class="t" style="left:662.76px;top:480.62px;color:#655925;font-size:17.05px;line-height:17.05px;letter-spacing:-0.030em;word-spacing:-0.06em;-webkit-text-stroke:0.045em currentColor;transform:scaleX(1.2444)">HEATH</div>
<div class="t" style="left:651.63px;top:532.46px;color:#9b9371;font-size:11.95px;line-height:11.95px;letter-spacing:-0.030em;word-spacing:-0.06em;-webkit-text-stroke:0.040em currentColor;transform:scaleX(1.1740)">Purple Pandan</div>
<div class="t" style="left:649.47px;top:567.82px;color:#655925;font-size:17.05px;line-height:17.05px;letter-spacing:-0.030em;word-spacing:-0.06em;-webkit-text-stroke:0.045em currentColor;transform:scaleX(1.2286)">Punkband</div>
<div class="t" style="left:651.63px;top:613.06px;color:#9b9371;font-size:11.95px;line-height:11.95px;letter-spacing:-0.030em;word-spacing:-0.06em;-webkit-text-stroke:0.040em currentColor;transform:scaleX(1.1740)">Purple Pandan</div>
<div class="t" style="left:639.13px;top:645.62px;color:#655925;font-size:17.05px;line-height:17.05px;letter-spacing:-0.030em;word-spacing:-0.06em;-webkit-text-stroke:0.045em currentColor;transform:scaleX(1.2689)">Parker Fans</div>
<div class="t" style="left:651.63px;top:689.56px;color:#9b9371;font-size:11.95px;line-height:11.95px;letter-spacing:-0.030em;word-spacing:-0.06em;-webkit-text-stroke:0.040em currentColor;transform:scaleX(1.1740)">Purple Pandan</div>
<div class="t" style="left:662.80px;top:736.42px;color:#655925;font-size:17.05px;line-height:17.05px;letter-spacing:-0.030em;word-spacing:-0.06em;-webkit-text-stroke:0.045em currentColor;transform:scaleX(1.2138)">Shantel</div>
<div class="t" style="left:855.47px;top:273.32px;color:#655925;font-size:17.05px;line-height:17.05px;letter-spacing:-0.030em;word-spacing:-0.06em;-webkit-text-stroke:0.045em currentColor;transform:scaleX(1.2296)">De Koffer</div>
<div class="t" style="left:855.47px;top:338.42px;color:#655925;font-size:17.05px;line-height:17.05px;letter-spacing:-0.030em;word-spacing:-0.06em;-webkit-text-stroke:0.045em currentColor;transform:scaleX(1.2296)">De Koffer</div>
<div class="t" style="left:843.63px;top:405.94px;color:#655925;font-size:15.83px;line-height:15.83px;letter-spacing:-0.030em;word-spacing:-0.06em;-webkit-text-stroke:0.045em currentColor;transform:scaleX(1.3654)">Pierre et les</div>
<div class="t" style="left:848.90px;top:419.44px;color:#655925;font-size:15.83px;line-height:15.83px;letter-spacing:-0.030em;word-spacing:-0.06em;-webkit-text-stroke:0.045em currentColor;transform:scaleX(1.3273)">Optimistes</div>
<div class="t" style="left:843.83px;top:480.72px;color:#655925;font-size:17.05px;line-height:17.05px;letter-spacing:-0.030em;word-spacing:-0.06em;-webkit-text-stroke:0.045em currentColor;transform:scaleX(1.2701)">Drek Manor</div>
<div class="t" style="left:822.04px;top:585.92px;color:#655925;font-size:17.05px;line-height:17.05px;letter-spacing:-0.030em;word-spacing:-0.06em;-webkit-text-stroke:0.045em currentColor;transform:scaleX(1.2577)">Hausmagger 3.0</div>
<div class="t" style="left:847.46px;top:686.44px;color:#655925;font-size:15.83px;line-height:15.83px;letter-spacing:-0.030em;word-spacing:-0.06em;-webkit-text-stroke:0.045em currentColor;transform:scaleX(1.3400)">Magic Tom</div>
<div class="t" style="left:872.20px;top:699.54px;color:#655925;font-size:15.83px;line-height:15.83px;letter-spacing:-0.030em;word-spacing:-0.06em;-webkit-text-stroke:0.045em currentColor;transform:scaleX(1.3548)">&amp; Yuri</div>
<div class="t" style="left:1069.69px;top:299.62px;color:#655925;font-size:17.05px;line-height:17.05px;letter-spacing:-0.030em;word-spacing:-0.06em;-webkit-text-stroke:0.045em currentColor;transform:scaleX(1.2080)">Lokaal</div>
<div class="t" style="left:1029.85px;top:432.12px;color:#655925;font-size:17.05px;line-height:17.05px;letter-spacing:-0.030em;word-spacing:-0.06em;-webkit-text-stroke:0.045em currentColor;transform:scaleX(1.2500)">Moody Mehran</div>
<div class="t" style="left:1066.10px;top:533.52px;color:#655925;font-size:17.05px;line-height:17.05px;letter-spacing:-0.030em;word-spacing:-0.06em;-webkit-text-stroke:0.045em currentColor;transform:scaleX(1.2034)">Sassy J</div>
<div class="t" style="left:1055.48px;top:635.44px;color:#655925;font-size:15.83px;line-height:15.83px;letter-spacing:-0.030em;word-spacing:-0.06em;-webkit-text-stroke:0.045em currentColor;transform:scaleX(1.3224)">Mattias El</div>
<div class="t" style="left:1055.47px;top:648.54px;color:#655925;font-size:15.83px;line-height:15.83px;letter-spacing:-0.030em;word-spacing:-0.06em;-webkit-text-stroke:0.045em currentColor;transform:scaleX(1.3318)">Mansouri</div>
<div class="t" style="left:1080.83px;top:731.92px;color:#655925;font-size:17.05px;line-height:17.05px;letter-spacing:-0.030em;word-spacing:-0.06em;-webkit-text-stroke:0.045em currentColor;transform:scaleX(1.1697)">BSS</div>
<div class="t" style="left:1254.82px;top:277.96px;color:#9b9371;font-size:11.95px;line-height:11.95px;letter-spacing:-0.030em;word-spacing:-0.06em;-webkit-text-stroke:0.040em currentColor;transform:scaleX(1.1819)">Plaatjes draaien</div>
<div class="t" style="left:1256.67px;top:316.32px;color:#655925;font-size:17.05px;line-height:17.05px;letter-spacing:-0.030em;word-spacing:-0.06em;-webkit-text-stroke:0.045em currentColor;transform:scaleX(1.2333)">Koetillers</div>
<div class="t" style="left:1224.50px;top:355.14px;color:#655925;font-size:15.83px;line-height:15.83px;letter-spacing:-0.030em;word-spacing:-0.06em;-webkit-text-stroke:0.045em currentColor;transform:scaleX(1.2958)">Alchohol Annie’s</div>
<div class="t" style="left:1239.21px;top:367.94px;color:#655925;font-size:15.83px;line-height:15.83px;letter-spacing:-0.030em;word-spacing:-0.06em;-webkit-text-stroke:0.045em currentColor;transform:scaleX(1.2916)">Muziek Bingo</div>
<div class="t" style="left:1254.82px;top:410.26px;color:#9b9371;font-size:11.95px;line-height:11.95px;letter-spacing:-0.030em;word-spacing:-0.06em;-webkit-text-stroke:0.040em currentColor;transform:scaleX(1.1819)">Plaatjes draaien</div>
<div class="t" style="left:1224.50px;top:435.94px;color:#655925;font-size:15.83px;line-height:15.83px;letter-spacing:-0.030em;word-spacing:-0.06em;-webkit-text-stroke:0.045em currentColor;transform:scaleX(1.2958)">Alchohol Annie’s</div>
<div class="t" style="left:1239.21px;top:449.34px;color:#655925;font-size:15.83px;line-height:15.83px;letter-spacing:-0.030em;word-spacing:-0.06em;-webkit-text-stroke:0.045em currentColor;transform:scaleX(1.2916)">Muziek Bingo</div>
<div class="t" style="left:1254.82px;top:508.36px;color:#9b9371;font-size:11.95px;line-height:11.95px;letter-spacing:-0.030em;word-spacing:-0.06em;-webkit-text-stroke:0.040em currentColor;transform:scaleX(1.1819)">Plaatjes draaien</div>
<div class="t" style="left:1256.31px;top:579.34px;color:#655925;font-size:15.83px;line-height:15.83px;letter-spacing:-0.030em;word-spacing:-0.06em;-webkit-text-stroke:0.045em currentColor;transform:scaleX(1.2939)">Flamingo</div>
<div class="t" style="left:1270.14px;top:592.64px;color:#655925;font-size:15.83px;line-height:15.83px;letter-spacing:-0.030em;word-spacing:-0.06em;-webkit-text-stroke:0.045em currentColor;transform:scaleX(1.3600)">Hitmix</div>
<div class="t" style="left:1254.82px;top:648.06px;color:#9b9371;font-size:11.95px;line-height:11.95px;letter-spacing:-0.030em;word-spacing:-0.06em;-webkit-text-stroke:0.040em currentColor;transform:scaleX(1.1819)">Plaatjes draaien</div>
<div class="t" style="left:1244.46px;top:687.94px;color:#655925;font-size:15.83px;line-height:15.83px;letter-spacing:-0.030em;word-spacing:-0.06em;-webkit-text-stroke:0.045em currentColor;transform:scaleX(1.3405)">Diadematus</div>
<div class="t" style="left:1257.60px;top:700.64px;color:#655925;font-size:15.83px;line-height:15.83px;letter-spacing:-0.030em;word-spacing:-0.06em;-webkit-text-stroke:0.045em currentColor;transform:scaleX(1.3000)">Collectief</div>
<div class="t" style="left:1254.82px;top:742.26px;color:#9b9371;font-size:11.95px;line-height:11.95px;letter-spacing:-0.030em;word-spacing:-0.06em;-webkit-text-stroke:0.040em currentColor;transform:scaleX(1.1819)">Plaatjes draaien</div>
</body></html>
